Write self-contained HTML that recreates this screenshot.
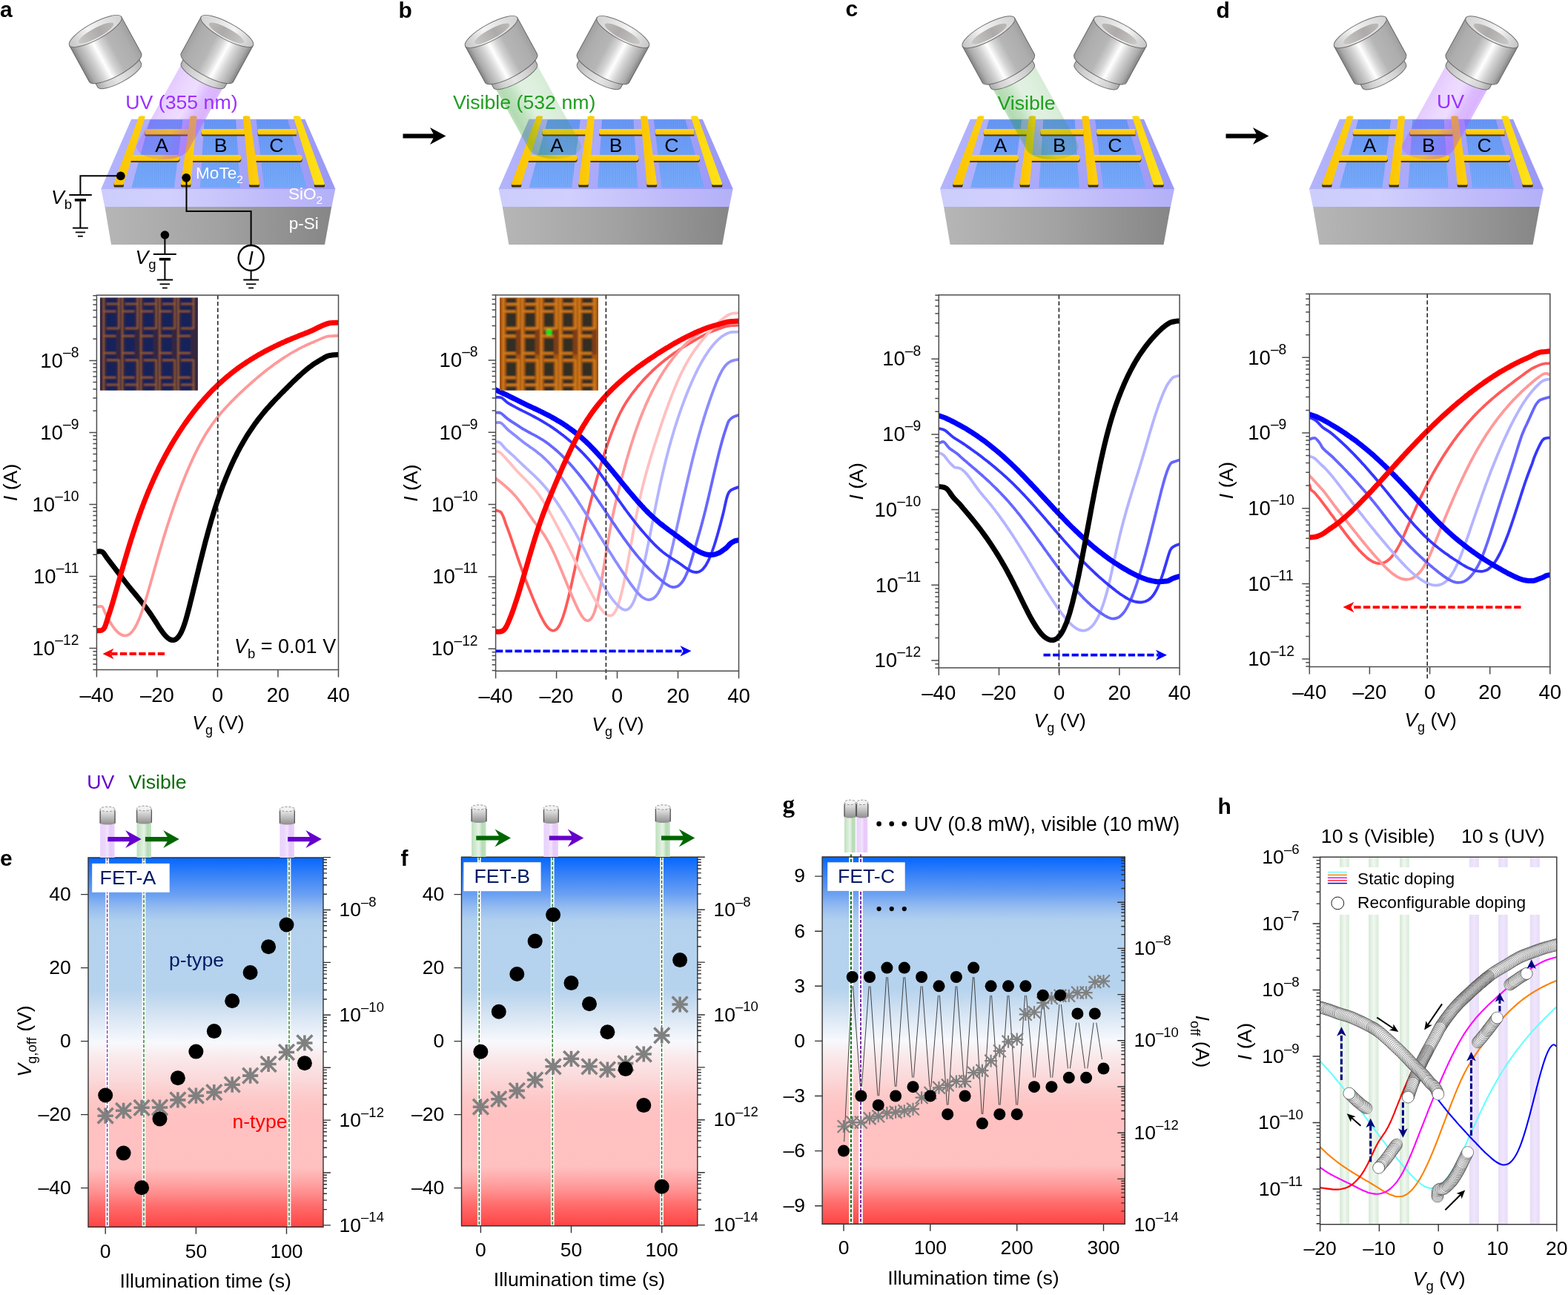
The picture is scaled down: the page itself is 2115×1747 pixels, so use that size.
<!DOCTYPE html>
<html lang="en"><head><meta charset="utf-8"><title>Figure</title>
<style>html,body{margin:0;padding:0;background:#fff}body{width:2115px;height:1747px;overflow:hidden;font-family:"Liberation Sans",Arial,sans-serif}svg{display:block}</style>
</head><body>
<svg xmlns="http://www.w3.org/2000/svg" width="2115" height="1747" viewBox="0 0 2115 1747" font-family="Liberation Sans, Arial, Helvetica, sans-serif">
<defs>
<linearGradient id="lasBody" x1="0" y1="0" x2="1" y2="0"><stop offset="0" stop-color="#838383"/><stop offset="0.08" stop-color="#aaaaaa"/><stop offset="0.24" stop-color="#d4d4d4"/><stop offset="0.37" stop-color="#ffffff"/><stop offset="0.49" stop-color="#d4d4d4"/><stop offset="0.62" stop-color="#b6b6b6"/><stop offset="0.88" stop-color="#adadad"/><stop offset="1" stop-color="#a0a0a0"/></linearGradient>
<linearGradient id="lasNarrow" x1="0" y1="0" x2="1" y2="0"><stop offset="0" stop-color="#a8a8a8"/><stop offset="0.2" stop-color="#d2d2d2"/><stop offset="0.45" stop-color="#e6e6e6"/><stop offset="0.75" stop-color="#d0d0d0"/><stop offset="1" stop-color="#b4b4b4"/></linearGradient>
<linearGradient id="lasRim" x1="0" y1="0" x2="1" y2="0"><stop offset="0" stop-color="#c4c4c4"/><stop offset="0.4" stop-color="#f4f4f4"/><stop offset="1" stop-color="#d2d2d2"/></linearGradient>
<linearGradient id="lasHole" x1="0" y1="0" x2="1" y2="0"><stop offset="0" stop-color="#cac7c7"/><stop offset="0.6" stop-color="#aeaaaa"/><stop offset="1" stop-color="#bcb8b8"/></linearGradient>
<linearGradient id="siG" x1="0" y1="0" x2="1" y2="0"><stop offset="0" stop-color="#b6b6b6"/><stop offset="0.5" stop-color="#a2a2a2"/><stop offset="1" stop-color="#868686"/></linearGradient>
<linearGradient id="sio2G" x1="0" y1="0" x2="1" y2="0"><stop offset="0" stop-color="#cdcdfc"/><stop offset="0.3" stop-color="#d0cffd"/><stop offset="0.7" stop-color="#c0bcfa"/><stop offset="1" stop-color="#b4b0f8"/></linearGradient>
<linearGradient id="topG" x1="0" y1="0" x2="1" y2="0"><stop offset="0" stop-color="#b4b4fc"/><stop offset="0.5" stop-color="#a9a7fa"/><stop offset="1" stop-color="#9a98f6"/></linearGradient>
<linearGradient id="moG" x1="0" y1="0" x2="0" y2="1"><stop offset="0" stop-color="#6896f4"/><stop offset="1" stop-color="#7aacf9"/></linearGradient>
<pattern id="stripes" width="2.6" height="8" patternUnits="userSpaceOnUse"><rect width="1.1" height="8" fill="#4f86ee"/></pattern>
<linearGradient id="goldH" x1="0" y1="0" x2="0" y2="1"><stop offset="0" stop-color="#ffd21a"/><stop offset="1" stop-color="#fbc400"/></linearGradient>
<linearGradient id="goldV" x1="0" y1="0" x2="1" y2="0"><stop offset="0" stop-color="#fbc400"/><stop offset="1" stop-color="#ffd010"/></linearGradient>
<linearGradient id="goldV2" x1="0" y1="0" x2="1" y2="0"><stop offset="0" stop-color="#ffd60a"/><stop offset="1" stop-color="#ffe21a"/></linearGradient>
<linearGradient id="beam0" gradientUnits="userSpaceOnUse" x1="247" y1="82.3" x2="303.5" y2="113.6"><stop offset="0" stop-color="#a64dff" stop-opacity="0.3"/><stop offset="0.3" stop-color="#a64dff" stop-opacity="0.22"/><stop offset="0.5" stop-color="#a64dff" stop-opacity="0.19"/><stop offset="0.75" stop-color="#a64dff" stop-opacity="0.38"/><stop offset="0.92" stop-color="#a64dff" stop-opacity="0.42"/><stop offset="1" stop-color="#a64dff" stop-opacity="0.36"/></linearGradient>
<linearGradient id="beam1" gradientUnits="userSpaceOnUse" x1="722" y1="83.3" x2="665.5" y2="114.6"><stop offset="0" stop-color="#2a9a2a" stop-opacity="0.19"/><stop offset="0.3" stop-color="#2a9a2a" stop-opacity="0.15"/><stop offset="0.5" stop-color="#2a9a2a" stop-opacity="0.14"/><stop offset="0.75" stop-color="#2a9a2a" stop-opacity="0.3"/><stop offset="0.92" stop-color="#2a9a2a" stop-opacity="0.36"/><stop offset="1" stop-color="#2a9a2a" stop-opacity="0.3"/></linearGradient>
<linearGradient id="beam2" gradientUnits="userSpaceOnUse" x1="1392.7" y1="83.6" x2="1336.2" y2="114.9"><stop offset="0" stop-color="#2a9a2a" stop-opacity="0.19"/><stop offset="0.3" stop-color="#2a9a2a" stop-opacity="0.15"/><stop offset="0.5" stop-color="#2a9a2a" stop-opacity="0.14"/><stop offset="0.75" stop-color="#2a9a2a" stop-opacity="0.3"/><stop offset="0.92" stop-color="#2a9a2a" stop-opacity="0.36"/><stop offset="1" stop-color="#2a9a2a" stop-opacity="0.3"/></linearGradient>
<linearGradient id="beam3" gradientUnits="userSpaceOnUse" x1="1953" y1="83.6" x2="2009.5" y2="114.9"><stop offset="0" stop-color="#a64dff" stop-opacity="0.3"/><stop offset="0.3" stop-color="#a64dff" stop-opacity="0.22"/><stop offset="0.5" stop-color="#a64dff" stop-opacity="0.19"/><stop offset="0.75" stop-color="#a64dff" stop-opacity="0.38"/><stop offset="0.92" stop-color="#a64dff" stop-opacity="0.42"/><stop offset="1" stop-color="#a64dff" stop-opacity="0.36"/></linearGradient>
<clipPath id="clipa"><rect x="130.4" y="398.2" width="326.1" height="505.3"/></clipPath>
<clipPath id="clipb"><rect x="668.6" y="398" width="327.9" height="507.2"/></clipPath>
<clipPath id="clipc"><rect x="1266.3" y="397.9" width="324.8" height="503"/></clipPath>
<clipPath id="clipd"><rect x="1766.3" y="396.5" width="324.5" height="503"/></clipPath>
<filter id="insblur" x="-5%" y="-5%" width="110%" height="110%"><feGaussianBlur stdDeviation="1.0"/></filter>
<clipPath id="insc0"><rect x="134.9" y="401.5" width="132" height="125.2"/></clipPath>
<clipPath id="insc1"><rect x="674" y="401.5" width="133" height="125.2"/></clipPath>
<linearGradient id="bgGrad" x1="0" y1="0" x2="0" y2="1"><stop offset="0" stop-color="#0566ff"/><stop offset="0.05" stop-color="#3a84f7"/><stop offset="0.1" stop-color="#6aa0f3"/><stop offset="0.137" stop-color="#96bdf0"/><stop offset="0.17" stop-color="#b0cfee"/><stop offset="0.2" stop-color="#b4d2ee"/><stop offset="0.36" stop-color="#b6d3ee"/><stop offset="0.39" stop-color="#c4daef"/><stop offset="0.44" stop-color="#dce8f5"/><stop offset="0.5" stop-color="#f7f9fd"/><stop offset="0.545" stop-color="#fae8ea"/><stop offset="0.6" stop-color="#fbd9da"/><stop offset="0.65" stop-color="#fdc9c9"/><stop offset="0.7" stop-color="#ffc1c1"/><stop offset="0.84" stop-color="#ffc0c0"/><stop offset="0.875" stop-color="#ffa8a8"/><stop offset="0.91" stop-color="#ff8c8c"/><stop offset="0.943" stop-color="#ff6c6c"/><stop offset="1" stop-color="#ff4444"/></linearGradient>
<linearGradient id="beamUV" x1="0" y1="0" x2="1" y2="0"><stop offset="0" stop-color="#ead2fb"/><stop offset="0.35" stop-color="#ecd8fc"/><stop offset="0.5" stop-color="#f3e6fd"/><stop offset="0.7" stop-color="#e6c8fa"/><stop offset="1" stop-color="#ead0fb"/></linearGradient>
<linearGradient id="beamVis" x1="0" y1="0" x2="1" y2="0"><stop offset="0" stop-color="#bfe0bf"/><stop offset="0.3" stop-color="#d4ebd4"/><stop offset="0.5" stop-color="#e6f3e6"/><stop offset="0.75" stop-color="#b4dab4"/><stop offset="1" stop-color="#c4e3c4"/></linearGradient>
<linearGradient id="miniBody" x1="0" y1="0" x2="0" y2="1"><stop offset="0" stop-color="#f0f0f0"/><stop offset="0.3" stop-color="#dcdcdc"/><stop offset="1" stop-color="#8e8e8e"/></linearGradient>
<clipPath id="cliph"><rect x="1780.6" y="1156.2" width="319.2" height="495.5"/></clipPath>
<linearGradient id="hG" x1="0" y1="0" x2="1" y2="0"><stop offset="0" stop-color="#d3e8d3"/><stop offset="0.5" stop-color="#f1f8f1"/><stop offset="1" stop-color="#d6ead6"/></linearGradient>
<linearGradient id="hP" x1="0" y1="0" x2="1" y2="0"><stop offset="0" stop-color="#e6dcf7"/><stop offset="0.5" stop-color="#efe6fd"/><stop offset="1" stop-color="#e6dcf7"/></linearGradient>
<marker id="oc" markerWidth="18" markerHeight="18" refX="9" refY="9" markerUnits="userSpaceOnUse"><circle cx="9" cy="9" r="7.9" fill="#fff" stroke="#000" stroke-width="0.45"/></marker>
</defs>
<g id="dev-0">
<g transform="translate(0 0)"><path d="M141.3 278H447.4L438 330H150Z" fill="url(#siG)"/><path d="M136.3 254.5H452.4L447.4 279H141.3Z" fill="url(#sio2G)"/><path d="M177.2 160.8H411.4L452.4 255H136.3Z" fill="url(#topG)"/><path d="M202.4 161.5H246.5L234.9 253.3H177.4Z" fill="url(#moG)"/><path d="M202.4 161.5H246.5L234.9 253.3H177.4Z" fill="url(#stripes)" opacity="0.3"/><path d="M275.7 161.5H318.1L324 253.3H269.9Z" fill="url(#moG)"/><path d="M275.7 161.5H318.1L324 253.3H269.9Z" fill="url(#stripes)" opacity="0.3"/><path d="M345.6 161.5H388.1L413.9 253.3H356.4Z" fill="url(#moG)"/><path d="M345.6 161.5H388.1L413.9 253.3H356.4Z" fill="url(#stripes)" opacity="0.3"/><path d="M196.7 176.3H258V183.6H196.7Q195.2 183.6 195.2 179.9Q195.2 176.3 196.7 176.3Z" fill="#4a3800"/><path d="M196.7 174.1H258V181.4H196.7Q195.2 181.4 195.2 177.8Q195.2 174.1 196.7 174.1Z" fill="url(#goldH)"/><path d="M273.2 176.3H330V183.6H273.2Q271.7 183.6 271.7 179.9Q271.7 176.3 273.2 176.3Z" fill="#4a3800"/><path d="M273.2 174.1H330V181.4H273.2Q271.7 181.4 271.7 177.8Q271.7 174.1 273.2 174.1Z" fill="url(#goldH)"/><path d="M349 176.3H400V183.6H349Q347.5 183.6 347.5 179.9Q347.5 176.3 349 176.3Z" fill="#4a3800"/><path d="M349 174.1H400V181.4H349Q347.5 181.4 347.5 177.8Q347.5 174.1 349 174.1Z" fill="url(#goldH)"/><path d="M172 211.3H238.9Q242.4 211.3 242.4 215.2Q242.4 219.1 238.9 219.1H172V211.3Z" fill="#4a3800"/><path d="M172 209.1H238.9Q242.4 209.1 242.4 213Q242.4 216.9 238.9 216.9H172V209.1Z" fill="url(#goldH)"/><path d="M254 211.3H321.7Q325.2 211.3 325.2 215.2Q325.2 219.1 321.7 219.1H254V211.3Z" fill="#4a3800"/><path d="M254 209.1H321.7Q325.2 209.1 325.2 213Q325.2 216.9 321.7 216.9H254V209.1Z" fill="url(#goldH)"/><path d="M341 211.3H404.3Q407.8 211.3 407.8 215.2Q407.8 219.1 404.3 219.1H341V211.3Z" fill="#4a3800"/><path d="M341 209.1H404.3Q407.8 209.1 407.8 213Q407.8 216.9 404.3 216.9H341V209.1Z" fill="url(#goldH)"/><path d="M153.6 247.6H166.9V251.1Q166.9 252.4 165.6 252.4H154.9Q153.6 252.4 153.6 251.1Z" fill="#3a2e00"/><path d="M187.4 156.9Q191.7 155.7 196 156.9L166.9 248.1Q166.9 249.6 165.4 249.6L155.1 249.6Q153.6 249.6 153.6 248.1Z" fill="url(#goldV)"/><path d="M244 247.6H257.4V251.1Q257.4 252.4 256.1 252.4H245.3Q244 252.4 244 251.1Z" fill="#3a2e00"/><path d="M256.5 156.9Q261 155.7 265.6 156.9L257.4 248.1Q257.4 249.6 255.9 249.6L245.5 249.6Q244 249.6 244 248.1Z" fill="url(#goldV)"/><path d="M336.1 247.6H349.8V251.1Q349.8 252.4 348.5 252.4H337.4Q336.1 252.4 336.1 251.1Z" fill="#3a2e00"/><path d="M327.7 156.9Q332.4 155.7 337 156.9L349.8 248.1Q349.8 249.6 348.3 249.6L337.6 249.6Q336.1 249.6 336.1 248.1Z" fill="url(#goldV)"/><path d="M423.9 247.6H438V251.1Q438 252.4 436.7 252.4H425.2Q423.9 252.4 423.9 251.1Z" fill="#3a2e00"/><path d="M395.5 156.9Q400.1 155.7 404.8 156.9L438 248.1Q438 249.6 436.5 249.6L425.4 249.6Q423.9 249.6 423.9 248.1Z" fill="url(#goldV2)"/></g>
<path d="M247 82.3L185.3 193.7A35.7 17 0 0 0 254.4 202.3L303.5 113.6Z" fill="url(#beam0)"/>
<g transform="translate(128.7 42) rotate(-28.6)"><path d="M-33.5 50V67.8A33.5 9.5 0 0 0 33.5 67.8V50Z" fill="url(#lasNarrow)" stroke="#6e6e6e" stroke-width="1"/><path d="M-40 0V56A40.0 11.3 0 0 0 40 56V0Z" fill="url(#lasBody)" stroke="#666" stroke-width="1"/><ellipse cx="0" cy="0" rx="40.0" ry="11.3" fill="url(#lasRim)" stroke="#6e6e6e" stroke-width="1"/><ellipse cx="-0.4" cy="2.6" rx="26.8" ry="6.6" fill="url(#lasHole)"/></g>
<g transform="translate(306.3 42) scale(-1 1) rotate(-28.6)"><path d="M-33.5 50V67.8A33.5 9.5 0 0 0 33.5 67.8V50Z" fill="url(#lasNarrow)" stroke="#6e6e6e" stroke-width="1"/><path d="M-40 0V56A40.0 11.3 0 0 0 40 56V0Z" fill="url(#lasBody)" stroke="#666" stroke-width="1"/><ellipse cx="0" cy="0" rx="40.0" ry="11.3" fill="url(#lasRim)" stroke="#6e6e6e" stroke-width="1"/><ellipse cx="-0.4" cy="2.6" rx="26.8" ry="6.6" fill="url(#lasHole)"/></g>
<text x="218.2" y="205.2" font-size="26.7" text-anchor="middle" fill="#000" >A</text>
<text x="297.7" y="205.2" font-size="26.7" text-anchor="middle" fill="#000" >B</text>
<text x="372.8" y="205.2" font-size="26.7" text-anchor="middle" fill="#000" >C</text>
</g>
<g id="dev-1">
<g transform="translate(536.3 0)"><path d="M141.3 278H447.4L438 330H150Z" fill="url(#siG)"/><path d="M136.3 254.5H452.4L447.4 279H141.3Z" fill="url(#sio2G)"/><path d="M177.2 160.8H411.4L452.4 255H136.3Z" fill="url(#topG)"/><path d="M202.4 161.5H246.5L234.9 253.3H177.4Z" fill="url(#moG)"/><path d="M202.4 161.5H246.5L234.9 253.3H177.4Z" fill="url(#stripes)" opacity="0.3"/><path d="M275.7 161.5H318.1L324 253.3H269.9Z" fill="url(#moG)"/><path d="M275.7 161.5H318.1L324 253.3H269.9Z" fill="url(#stripes)" opacity="0.3"/><path d="M345.6 161.5H388.1L413.9 253.3H356.4Z" fill="url(#moG)"/><path d="M345.6 161.5H388.1L413.9 253.3H356.4Z" fill="url(#stripes)" opacity="0.3"/><path d="M196.7 176.3H258V183.6H196.7Q195.2 183.6 195.2 179.9Q195.2 176.3 196.7 176.3Z" fill="#4a3800"/><path d="M196.7 174.1H258V181.4H196.7Q195.2 181.4 195.2 177.8Q195.2 174.1 196.7 174.1Z" fill="url(#goldH)"/><path d="M273.2 176.3H330V183.6H273.2Q271.7 183.6 271.7 179.9Q271.7 176.3 273.2 176.3Z" fill="#4a3800"/><path d="M273.2 174.1H330V181.4H273.2Q271.7 181.4 271.7 177.8Q271.7 174.1 273.2 174.1Z" fill="url(#goldH)"/><path d="M349 176.3H400V183.6H349Q347.5 183.6 347.5 179.9Q347.5 176.3 349 176.3Z" fill="#4a3800"/><path d="M349 174.1H400V181.4H349Q347.5 181.4 347.5 177.8Q347.5 174.1 349 174.1Z" fill="url(#goldH)"/><path d="M172 211.3H238.9Q242.4 211.3 242.4 215.2Q242.4 219.1 238.9 219.1H172V211.3Z" fill="#4a3800"/><path d="M172 209.1H238.9Q242.4 209.1 242.4 213Q242.4 216.9 238.9 216.9H172V209.1Z" fill="url(#goldH)"/><path d="M254 211.3H321.7Q325.2 211.3 325.2 215.2Q325.2 219.1 321.7 219.1H254V211.3Z" fill="#4a3800"/><path d="M254 209.1H321.7Q325.2 209.1 325.2 213Q325.2 216.9 321.7 216.9H254V209.1Z" fill="url(#goldH)"/><path d="M341 211.3H404.3Q407.8 211.3 407.8 215.2Q407.8 219.1 404.3 219.1H341V211.3Z" fill="#4a3800"/><path d="M341 209.1H404.3Q407.8 209.1 407.8 213Q407.8 216.9 404.3 216.9H341V209.1Z" fill="url(#goldH)"/><path d="M153.6 247.6H166.9V251.1Q166.9 252.4 165.6 252.4H154.9Q153.6 252.4 153.6 251.1Z" fill="#3a2e00"/><path d="M187.4 156.9Q191.7 155.7 196 156.9L166.9 248.1Q166.9 249.6 165.4 249.6L155.1 249.6Q153.6 249.6 153.6 248.1Z" fill="url(#goldV)"/><path d="M244 247.6H257.4V251.1Q257.4 252.4 256.1 252.4H245.3Q244 252.4 244 251.1Z" fill="#3a2e00"/><path d="M256.5 156.9Q261 155.7 265.6 156.9L257.4 248.1Q257.4 249.6 255.9 249.6L245.5 249.6Q244 249.6 244 248.1Z" fill="url(#goldV)"/><path d="M336.1 247.6H349.8V251.1Q349.8 252.4 348.5 252.4H337.4Q336.1 252.4 336.1 251.1Z" fill="#3a2e00"/><path d="M327.7 156.9Q332.4 155.7 337 156.9L349.8 248.1Q349.8 249.6 348.3 249.6L337.6 249.6Q336.1 249.6 336.1 248.1Z" fill="url(#goldV)"/><path d="M423.9 247.6H438V251.1Q438 252.4 436.7 252.4H425.2Q423.9 252.4 423.9 251.1Z" fill="#3a2e00"/><path d="M395.5 156.9Q400.1 155.7 404.8 156.9L438 248.1Q438 249.6 436.5 249.6L425.4 249.6Q423.9 249.6 423.9 248.1Z" fill="url(#goldV2)"/></g>
<path d="M665.5 114.6L714.1 202.3A35.7 17 0 0 0 783.1 193.7L722 83.3Z" fill="url(#beam1)"/>
<g transform="translate(662.7 43) rotate(-28.6)"><path d="M-33.5 50V67.8A33.5 9.5 0 0 0 33.5 67.8V50Z" fill="url(#lasNarrow)" stroke="#6e6e6e" stroke-width="1"/><path d="M-40 0V56A40.0 11.3 0 0 0 40 56V0Z" fill="url(#lasBody)" stroke="#666" stroke-width="1"/><ellipse cx="0" cy="0" rx="40.0" ry="11.3" fill="url(#lasRim)" stroke="#6e6e6e" stroke-width="1"/><ellipse cx="-0.4" cy="2.6" rx="26.8" ry="6.6" fill="url(#lasHole)"/></g>
<g transform="translate(840.3 43) scale(-1 1) rotate(-28.6)"><path d="M-33.5 50V67.8A33.5 9.5 0 0 0 33.5 67.8V50Z" fill="url(#lasNarrow)" stroke="#6e6e6e" stroke-width="1"/><path d="M-40 0V56A40.0 11.3 0 0 0 40 56V0Z" fill="url(#lasBody)" stroke="#666" stroke-width="1"/><ellipse cx="0" cy="0" rx="40.0" ry="11.3" fill="url(#lasRim)" stroke="#6e6e6e" stroke-width="1"/><ellipse cx="-0.4" cy="2.6" rx="26.8" ry="6.6" fill="url(#lasHole)"/></g>
<text x="751.2" y="205.2" font-size="26.7" text-anchor="middle" fill="#000" >A</text>
<text x="830.7" y="205.2" font-size="26.7" text-anchor="middle" fill="#000" >B</text>
<text x="905.8" y="205.2" font-size="26.7" text-anchor="middle" fill="#000" >C</text>
</g>
<g id="dev-2">
<g transform="translate(1131.6 0)"><path d="M141.3 278H447.4L438 330H150Z" fill="url(#siG)"/><path d="M136.3 254.5H452.4L447.4 279H141.3Z" fill="url(#sio2G)"/><path d="M177.2 160.8H411.4L452.4 255H136.3Z" fill="url(#topG)"/><path d="M202.4 161.5H246.5L234.9 253.3H177.4Z" fill="url(#moG)"/><path d="M202.4 161.5H246.5L234.9 253.3H177.4Z" fill="url(#stripes)" opacity="0.3"/><path d="M275.7 161.5H318.1L324 253.3H269.9Z" fill="url(#moG)"/><path d="M275.7 161.5H318.1L324 253.3H269.9Z" fill="url(#stripes)" opacity="0.3"/><path d="M345.6 161.5H388.1L413.9 253.3H356.4Z" fill="url(#moG)"/><path d="M345.6 161.5H388.1L413.9 253.3H356.4Z" fill="url(#stripes)" opacity="0.3"/><path d="M196.7 176.3H258V183.6H196.7Q195.2 183.6 195.2 179.9Q195.2 176.3 196.7 176.3Z" fill="#4a3800"/><path d="M196.7 174.1H258V181.4H196.7Q195.2 181.4 195.2 177.8Q195.2 174.1 196.7 174.1Z" fill="url(#goldH)"/><path d="M273.2 176.3H330V183.6H273.2Q271.7 183.6 271.7 179.9Q271.7 176.3 273.2 176.3Z" fill="#4a3800"/><path d="M273.2 174.1H330V181.4H273.2Q271.7 181.4 271.7 177.8Q271.7 174.1 273.2 174.1Z" fill="url(#goldH)"/><path d="M349 176.3H400V183.6H349Q347.5 183.6 347.5 179.9Q347.5 176.3 349 176.3Z" fill="#4a3800"/><path d="M349 174.1H400V181.4H349Q347.5 181.4 347.5 177.8Q347.5 174.1 349 174.1Z" fill="url(#goldH)"/><path d="M172 211.3H238.9Q242.4 211.3 242.4 215.2Q242.4 219.1 238.9 219.1H172V211.3Z" fill="#4a3800"/><path d="M172 209.1H238.9Q242.4 209.1 242.4 213Q242.4 216.9 238.9 216.9H172V209.1Z" fill="url(#goldH)"/><path d="M254 211.3H321.7Q325.2 211.3 325.2 215.2Q325.2 219.1 321.7 219.1H254V211.3Z" fill="#4a3800"/><path d="M254 209.1H321.7Q325.2 209.1 325.2 213Q325.2 216.9 321.7 216.9H254V209.1Z" fill="url(#goldH)"/><path d="M341 211.3H404.3Q407.8 211.3 407.8 215.2Q407.8 219.1 404.3 219.1H341V211.3Z" fill="#4a3800"/><path d="M341 209.1H404.3Q407.8 209.1 407.8 213Q407.8 216.9 404.3 216.9H341V209.1Z" fill="url(#goldH)"/><path d="M153.6 247.6H166.9V251.1Q166.9 252.4 165.6 252.4H154.9Q153.6 252.4 153.6 251.1Z" fill="#3a2e00"/><path d="M187.4 156.9Q191.7 155.7 196 156.9L166.9 248.1Q166.9 249.6 165.4 249.6L155.1 249.6Q153.6 249.6 153.6 248.1Z" fill="url(#goldV)"/><path d="M244 247.6H257.4V251.1Q257.4 252.4 256.1 252.4H245.3Q244 252.4 244 251.1Z" fill="#3a2e00"/><path d="M256.5 156.9Q261 155.7 265.6 156.9L257.4 248.1Q257.4 249.6 255.9 249.6L245.5 249.6Q244 249.6 244 248.1Z" fill="url(#goldV)"/><path d="M336.1 247.6H349.8V251.1Q349.8 252.4 348.5 252.4H337.4Q336.1 252.4 336.1 251.1Z" fill="#3a2e00"/><path d="M327.7 156.9Q332.4 155.7 337 156.9L349.8 248.1Q349.8 249.6 348.3 249.6L337.6 249.6Q336.1 249.6 336.1 248.1Z" fill="url(#goldV)"/><path d="M423.9 247.6H438V251.1Q438 252.4 436.7 252.4H425.2Q423.9 252.4 423.9 251.1Z" fill="#3a2e00"/><path d="M395.5 156.9Q400.1 155.7 404.8 156.9L438 248.1Q438 249.6 436.5 249.6L425.4 249.6Q423.9 249.6 423.9 248.1Z" fill="url(#goldV2)"/></g>
<path d="M1336.2 114.9L1384.6 202.3A35.7 17 0 0 0 1453.7 193.7L1392.7 83.6Z" fill="url(#beam2)"/>
<g transform="translate(1333.4 43.3) rotate(-28.6)"><path d="M-33.5 50V67.8A33.5 9.5 0 0 0 33.5 67.8V50Z" fill="url(#lasNarrow)" stroke="#6e6e6e" stroke-width="1"/><path d="M-40 0V56A40.0 11.3 0 0 0 40 56V0Z" fill="url(#lasBody)" stroke="#666" stroke-width="1"/><ellipse cx="0" cy="0" rx="40.0" ry="11.3" fill="url(#lasRim)" stroke="#6e6e6e" stroke-width="1"/><ellipse cx="-0.4" cy="2.6" rx="26.8" ry="6.6" fill="url(#lasHole)"/></g>
<g transform="translate(1511 43.3) scale(-1 1) rotate(-28.6)"><path d="M-33.5 50V67.8A33.5 9.5 0 0 0 33.5 67.8V50Z" fill="url(#lasNarrow)" stroke="#6e6e6e" stroke-width="1"/><path d="M-40 0V56A40.0 11.3 0 0 0 40 56V0Z" fill="url(#lasBody)" stroke="#666" stroke-width="1"/><ellipse cx="0" cy="0" rx="40.0" ry="11.3" fill="url(#lasRim)" stroke="#6e6e6e" stroke-width="1"/><ellipse cx="-0.4" cy="2.6" rx="26.8" ry="6.6" fill="url(#lasHole)"/></g>
<text x="1349.3" y="205.2" font-size="26.7" text-anchor="middle" fill="#000" >A</text>
<text x="1428.8" y="205.2" font-size="26.7" text-anchor="middle" fill="#000" >B</text>
<text x="1503.9" y="205.2" font-size="26.7" text-anchor="middle" fill="#000" >C</text>
</g>
<g id="dev-3">
<g transform="translate(1629.6 0)"><path d="M141.3 278H447.4L438 330H150Z" fill="url(#siG)"/><path d="M136.3 254.5H452.4L447.4 279H141.3Z" fill="url(#sio2G)"/><path d="M177.2 160.8H411.4L452.4 255H136.3Z" fill="url(#topG)"/><path d="M202.4 161.5H246.5L234.9 253.3H177.4Z" fill="url(#moG)"/><path d="M202.4 161.5H246.5L234.9 253.3H177.4Z" fill="url(#stripes)" opacity="0.3"/><path d="M275.7 161.5H318.1L324 253.3H269.9Z" fill="url(#moG)"/><path d="M275.7 161.5H318.1L324 253.3H269.9Z" fill="url(#stripes)" opacity="0.3"/><path d="M345.6 161.5H388.1L413.9 253.3H356.4Z" fill="url(#moG)"/><path d="M345.6 161.5H388.1L413.9 253.3H356.4Z" fill="url(#stripes)" opacity="0.3"/><path d="M196.7 176.3H258V183.6H196.7Q195.2 183.6 195.2 179.9Q195.2 176.3 196.7 176.3Z" fill="#4a3800"/><path d="M196.7 174.1H258V181.4H196.7Q195.2 181.4 195.2 177.8Q195.2 174.1 196.7 174.1Z" fill="url(#goldH)"/><path d="M273.2 176.3H330V183.6H273.2Q271.7 183.6 271.7 179.9Q271.7 176.3 273.2 176.3Z" fill="#4a3800"/><path d="M273.2 174.1H330V181.4H273.2Q271.7 181.4 271.7 177.8Q271.7 174.1 273.2 174.1Z" fill="url(#goldH)"/><path d="M349 176.3H400V183.6H349Q347.5 183.6 347.5 179.9Q347.5 176.3 349 176.3Z" fill="#4a3800"/><path d="M349 174.1H400V181.4H349Q347.5 181.4 347.5 177.8Q347.5 174.1 349 174.1Z" fill="url(#goldH)"/><path d="M172 211.3H238.9Q242.4 211.3 242.4 215.2Q242.4 219.1 238.9 219.1H172V211.3Z" fill="#4a3800"/><path d="M172 209.1H238.9Q242.4 209.1 242.4 213Q242.4 216.9 238.9 216.9H172V209.1Z" fill="url(#goldH)"/><path d="M254 211.3H321.7Q325.2 211.3 325.2 215.2Q325.2 219.1 321.7 219.1H254V211.3Z" fill="#4a3800"/><path d="M254 209.1H321.7Q325.2 209.1 325.2 213Q325.2 216.9 321.7 216.9H254V209.1Z" fill="url(#goldH)"/><path d="M341 211.3H404.3Q407.8 211.3 407.8 215.2Q407.8 219.1 404.3 219.1H341V211.3Z" fill="#4a3800"/><path d="M341 209.1H404.3Q407.8 209.1 407.8 213Q407.8 216.9 404.3 216.9H341V209.1Z" fill="url(#goldH)"/><path d="M153.6 247.6H166.9V251.1Q166.9 252.4 165.6 252.4H154.9Q153.6 252.4 153.6 251.1Z" fill="#3a2e00"/><path d="M187.4 156.9Q191.7 155.7 196 156.9L166.9 248.1Q166.9 249.6 165.4 249.6L155.1 249.6Q153.6 249.6 153.6 248.1Z" fill="url(#goldV)"/><path d="M244 247.6H257.4V251.1Q257.4 252.4 256.1 252.4H245.3Q244 252.4 244 251.1Z" fill="#3a2e00"/><path d="M256.5 156.9Q261 155.7 265.6 156.9L257.4 248.1Q257.4 249.6 255.9 249.6L245.5 249.6Q244 249.6 244 248.1Z" fill="url(#goldV)"/><path d="M336.1 247.6H349.8V251.1Q349.8 252.4 348.5 252.4H337.4Q336.1 252.4 336.1 251.1Z" fill="#3a2e00"/><path d="M327.7 156.9Q332.4 155.7 337 156.9L349.8 248.1Q349.8 249.6 348.3 249.6L337.6 249.6Q336.1 249.6 336.1 248.1Z" fill="url(#goldV)"/><path d="M423.9 247.6H438V251.1Q438 252.4 436.7 252.4H425.2Q423.9 252.4 423.9 251.1Z" fill="#3a2e00"/><path d="M395.5 156.9Q400.1 155.7 404.8 156.9L438 248.1Q438 249.6 436.5 249.6L425.4 249.6Q423.9 249.6 423.9 248.1Z" fill="url(#goldV2)"/></g>
<path d="M1953 83.6L1892 193.7A35.7 17 0 0 0 1961.1 202.3L2009.5 114.9Z" fill="url(#beam3)"/>
<g transform="translate(1834.7 43.3) rotate(-28.6)"><path d="M-33.5 50V67.8A33.5 9.5 0 0 0 33.5 67.8V50Z" fill="url(#lasNarrow)" stroke="#6e6e6e" stroke-width="1"/><path d="M-40 0V56A40.0 11.3 0 0 0 40 56V0Z" fill="url(#lasBody)" stroke="#666" stroke-width="1"/><ellipse cx="0" cy="0" rx="40.0" ry="11.3" fill="url(#lasRim)" stroke="#6e6e6e" stroke-width="1"/><ellipse cx="-0.4" cy="2.6" rx="26.8" ry="6.6" fill="url(#lasHole)"/></g>
<g transform="translate(2012.3 43.3) scale(-1 1) rotate(-28.6)"><path d="M-33.5 50V67.8A33.5 9.5 0 0 0 33.5 67.8V50Z" fill="url(#lasNarrow)" stroke="#6e6e6e" stroke-width="1"/><path d="M-40 0V56A40.0 11.3 0 0 0 40 56V0Z" fill="url(#lasBody)" stroke="#666" stroke-width="1"/><ellipse cx="0" cy="0" rx="40.0" ry="11.3" fill="url(#lasRim)" stroke="#6e6e6e" stroke-width="1"/><ellipse cx="-0.4" cy="2.6" rx="26.8" ry="6.6" fill="url(#lasHole)"/></g>
<text x="1847.5" y="205.2" font-size="26.7" text-anchor="middle" fill="#000" >A</text>
<text x="1927" y="205.2" font-size="26.7" text-anchor="middle" fill="#000" >B</text>
<text x="2002.1" y="205.2" font-size="26.7" text-anchor="middle" fill="#000" >C</text>
</g>
<text x="169.3" y="146.8" font-size="26.7" text-anchor="start" fill="#9a30ff" >UV (355 nm)</text>
<text x="611" y="146.6" font-size="26.7" text-anchor="start" fill="#1e9e1e" >Visible (532 nm)</text>
<text x="1345.5" y="147.5" font-size="26.7" text-anchor="start" fill="#1e9e1e" >Visible</text>
<text x="1938" y="146" font-size="26.7" text-anchor="start" fill="#9a30ff" >UV</text>
<text x="264" y="240.7" font-size="22.6" fill="#fff">MoTe<tspan font-size="15.5" dy="6">2</tspan></text>
<text x="388.9" y="269.4" font-size="22.6" fill="#fff">SiO<tspan font-size="15.5" dy="6">2</tspan></text>
<text x="389.7" y="309" font-size="22.6" text-anchor="start" fill="#fff" >p-Si</text>
<g fill="none" stroke="#000" stroke-width="2"><path d="M162.8 237.3H108.4V263"/><path d="M93.3 263H123.8"/><path d="M108.4 271.5V307.6"/><path d="M98 307.6H118.8"/><path d="M101.8 313.4H115" stroke-width="1.8"/><path d="M105 318.7H111.8" stroke-width="1.8"/><path d="M100.8 269.8H116" stroke-width="3.6"/><path d="M251.5 240V284.9H338.6V330.5"/><path d="M338.6 365.5V377.5"/><path d="M328.3 377.5H349.2"/><path d="M332 383.3H345.3" stroke-width="1.8"/><path d="M335.3 388.5H342" stroke-width="1.8"/><circle cx="338.6" cy="348" r="17" stroke-width="2.4"/><path d="M222.4 317V342.9"/><path d="M206.8 342.9H237.8"/><path d="M222.4 351.5V377.5"/><path d="M211.8 377.5H233.2"/><path d="M215.6 383.3H229" stroke-width="1.8"/><path d="M219 388.5H225.7" stroke-width="1.8"/><path d="M214.8 349.7H230" stroke-width="3.6"/></g><circle cx="162.8" cy="237.3" r="5.9"/><circle cx="251.2" cy="239.8" r="5.9"/><circle cx="222.4" cy="317" r="5.8"/><text x="69" y="274.8" font-size="26.7"><tspan font-style="italic">V</tspan><tspan font-size="18.5" dy="7">b</tspan></text><text x="182.5" y="355.5" font-size="26.7"><tspan font-style="italic">V</tspan><tspan font-size="18.5" dy="7">g</tspan></text><text x="338.2" y="357.3" font-size="26.7" font-style="italic" text-anchor="middle">I</text>
<path d="M543.5 180.5H584.5L580 172L601.5 183.5L580 195L584.5 186.5H543.5Z" fill="#000"/>
<path d="M1653.5 180.5H1694.5L1690 172L1711.5 183.5L1690 195L1694.5 186.5H1653.5Z" fill="#000"/>
<g id="plot-a">
<g clip-path="url(#clipa)" fill="none" stroke-linejoin="round" stroke-linecap="butt">
<path d="M128.5 744.1 C128.9 744.1 128.9 744 130.5 744.1 C132.1 744.2 135.6 742.9 138.2 744.7 C140.7 746.4 142 749.8 145.8 754.7 C149.6 759.7 157.8 770.3 161 774.5 C164.3 778.7 163.7 778.1 165 779.9 C166.4 781.7 167.7 783.4 169 785.1 C170.4 786.8 171.7 788.5 173 790.2 C174.4 791.8 175.7 793.4 177 795.1 C178.4 796.7 179.7 798.3 181 799.9 C182.4 801.5 183.7 803.1 185 804.7 C186.4 806.4 187.7 808 189 809.7 C190.4 811.3 191.7 813 193 814.7 C194.4 816.4 195.7 818.1 197 819.9 C198.4 821.7 199.7 823.5 201 825.4 C202.4 827.3 203.7 829.2 205 831.2 C206.4 833.2 207.7 835.2 209 837.3 C210.4 839.4 211.7 841.6 213 843.6 C214.4 845.7 215.7 847.8 217 849.7 C218.4 851.6 219.7 853.5 221 855.1 C222.4 856.8 223.7 858.3 225 859.5 C226.4 860.8 227.7 861.8 229 862.5 C230.4 863.2 231.7 863.6 233 863.6 C234.4 863.6 235.7 863.3 237 862.5 C238.4 861.6 239.7 860.4 241 858.6 C242.4 856.8 243.7 854.6 245 851.7 C246.4 848.9 247.7 845.4 249 841.4 C250.4 837.4 251.7 832.6 253 827.7 C254.4 822.8 255.7 817.3 257 812 C258.4 806.6 259.7 801.1 261 795.6 C262.4 790.1 263.7 784.6 265 779.2 C266.4 773.7 267.7 768.2 269 762.8 C270.4 757.4 271.7 752.1 273 746.8 C274.4 741.5 275.7 736.3 277 731.2 C278.4 726.1 279.7 721.1 281 716.3 C282.4 711.4 283.7 706.7 285 702.1 C286.4 697.6 287.7 693.2 289 688.9 C290.4 684.7 291.7 680.5 293 676.6 C294.4 672.6 295.7 668.7 297 665 C298.4 661.2 299.7 657.6 301 654.1 C302.4 650.6 303.7 647.3 305 644 C306.4 640.7 307.7 637.6 309 634.5 C310.4 631.4 311.7 628.4 313 625.5 C314.4 622.6 315.7 619.8 317 617.1 C318.4 614.4 319.7 611.7 321 609.2 C322.4 606.6 323.7 604.1 325 601.7 C326.4 599.3 327.7 597 329 594.7 C330.4 592.4 331.7 590.2 333 588 C334.4 585.9 335.7 583.8 337 581.8 C338.4 579.7 339.7 577.8 341 575.9 C342.4 573.9 343.7 572.1 345 570.3 C346.4 568.4 347.7 566.7 349 564.9 C350.4 563.2 351.7 561.5 353 559.9 C354.4 558.2 355.7 556.6 357 555 C358.4 553.5 359.7 551.9 361 550.4 C362.4 548.9 363.7 547.4 365 546 C366.4 544.5 367.7 543.1 369 541.6 C370.4 540.2 371.7 538.8 373 537.4 C374.4 536 375.7 534.7 377 533.3 C378.4 531.9 379.7 530.6 381 529.2 C382.4 527.9 383.7 526.5 385 525.2 C386.4 523.9 387.7 522.5 389 521.2 C390.4 519.9 391.7 518.5 393 517.2 C394.4 515.9 395.7 514.6 397 513.3 C398.4 512.1 399.7 510.8 401 509.5 C402.4 508.3 403.7 507.1 405 505.9 C406.4 504.7 407.7 503.5 409 502.3 C410.4 501.2 411.7 500 413 498.9 C414.4 497.8 415.7 496.8 417 495.7 C418.4 494.7 419.7 493.7 421 492.7 C422.4 491.8 423.7 490.8 425 489.9 C426.4 489 427.7 488.2 429 487.4 C430.4 486.6 430.9 486.3 433 485.1 C435.2 483.9 439.4 481.3 441.8 480.3 C444.3 479.4 445.5 479.4 448 479.1 C450.4 478.8 454.7 478.6 456.5 478.5 C458.3 478.4 458.2 478.5 458.5 478.5" stroke="#000" stroke-width="7.0"/>
<path d="M128.4 818.5 C128.7 818.5 128.8 818.5 130.4 818.5 C132 818.5 136.1 817.2 138 818.5 C139.8 819.8 140.1 823.3 141.6 826.3 C143.1 829.3 145.4 833.7 147 836.5 C148.6 839.3 149.7 841.2 151 843.2 C152.3 845.2 153.7 847.1 155 848.7 C156.3 850.3 157.7 851.8 159 853 C160.3 854.2 161.7 855.2 163 855.9 C164.3 856.7 165.7 857.2 167 857.4 C168.3 857.6 169.7 857.6 171 857.2 C172.3 856.9 173.7 856.2 175 855.2 C176.3 854.2 177.7 852.9 179 851.2 C180.3 849.5 181.7 847.5 183 845 C184.3 842.6 185.7 839.7 187 836.6 C188.3 833.4 189.7 829.9 191 826.1 C192.3 822.4 193.7 818.3 195 814.1 C196.3 809.9 197.7 805.5 199 801 C200.3 796.4 201.7 791.7 203 787 C204.3 782.3 205.7 777.5 207 772.8 C208.3 768 209.7 763.2 211 758.5 C212.3 753.8 213.7 749.2 215 744.7 C216.3 740.1 217.7 735.6 219 731.2 C220.3 726.8 221.7 722.4 223 718.1 C224.3 713.9 225.7 709.7 227 705.5 C228.3 701.4 229.7 697.3 231 693.4 C232.3 689.4 233.7 685.5 235 681.7 C236.3 677.8 237.7 674.1 239 670.4 C240.3 666.7 241.7 663.1 243 659.6 C244.3 656.1 245.7 652.6 247 649.3 C248.3 645.9 249.7 642.6 251 639.4 C252.3 636.2 253.7 633.1 255 630 C256.3 627 257.7 624 259 621.1 C260.3 618.2 261.7 615.3 263 612.6 C264.3 609.8 265.7 607.2 267 604.6 C268.3 602 269.7 599.5 271 597 C272.3 594.6 273.7 592.2 275 589.9 C276.3 587.7 277.7 585.5 279 583.3 C280.3 581.2 281.7 579.1 283 577.1 C284.3 575.2 285.7 573.2 287 571.4 C288.3 569.5 289.7 567.7 291 566 C292.3 564.2 293.7 562.5 295 560.9 C296.3 559.3 297.7 557.7 299 556.1 C300.3 554.6 301.7 553.1 303 551.6 C304.3 550.1 305.7 548.7 307 547.3 C308.3 545.8 309.7 544.5 311 543.1 C312.3 541.7 313.7 540.4 315 539.1 C316.3 537.7 317.7 536.4 319 535.1 C320.3 533.8 321.7 532.5 323 531.2 C324.3 530 325.7 528.7 327 527.4 C328.3 526.2 329.7 524.9 331 523.7 C332.3 522.5 333.7 521.3 335 520.1 C336.3 518.9 337.7 517.7 339 516.5 C340.3 515.3 341.7 514.1 343 513 C344.3 511.8 345.7 510.7 347 509.6 C348.3 508.4 349.7 507.3 351 506.2 C352.3 505.1 353.7 504 355 503 C356.3 501.9 357.7 500.8 359 499.8 C360.3 498.7 361.7 497.7 363 496.7 C364.3 495.7 365.7 494.7 367 493.7 C368.3 492.7 369.7 491.7 371 490.8 C372.3 489.8 373.7 488.9 375 487.9 C376.3 487 377.7 486.1 379 485.2 C380.3 484.3 381.7 483.4 383 482.6 C384.3 481.7 385.7 480.8 387 480 C388.3 479.2 389.7 478.3 391 477.5 C392.3 476.7 393.7 475.9 395 475.2 C396.3 474.4 397.7 473.6 399 472.9 C400.3 472.2 401.7 471.4 403 470.7 C404.3 470 405.7 469.3 407 468.6 C408.3 468 409.7 467.3 411 466.7 C412.3 466 413.7 465.4 415 464.8 C416.3 464.2 417.7 463.6 419 463 C420.3 462.5 419.5 462.8 423 461.4 C426.5 459.9 435.8 455.5 439.9 454.2 C443.9 452.8 444.3 453.5 447.1 453.3 C449.9 453 454.7 452.8 456.7 452.7 C458.6 452.6 458.3 452.7 458.7 452.7" stroke="#ff9999" stroke-width="3.8"/>
<path d="M128.5 850.9 C128.9 850.9 129.1 851 130.5 850.9 C132 850.8 135.5 851 137.2 850.3 C139 849.5 139.8 849.3 141.2 846.3 C142.6 843.3 144.4 836.7 145.8 832.4 C147.2 828 148.5 824.6 149.8 820.3 C151.1 816.1 152.5 811.4 153.8 806.8 C155.1 802.3 156.5 797.4 157.8 792.7 C159.1 788 160.5 783.3 161.8 778.6 C163.1 774 164.5 769.3 165.8 764.7 C167.1 760.1 168.5 755.6 169.8 751.1 C171.1 746.6 172.5 742.2 173.8 737.8 C175.1 733.5 176.5 729.2 177.8 725 C179.1 720.8 180.5 716.7 181.8 712.6 C183.1 708.6 184.5 704.7 185.8 700.9 C187.1 697 188.5 693.3 189.8 689.6 C191.1 686 192.5 682.4 193.8 678.9 C195.1 675.5 196.5 672.1 197.8 668.8 C199.1 665.4 200.5 662.2 201.8 659 C203.1 655.9 204.5 652.8 205.8 649.8 C207.1 646.8 208.5 643.9 209.8 641 C211.1 638.1 212.5 635.3 213.8 632.6 C215.1 629.8 216.5 627.2 217.8 624.6 C219.1 621.9 220.5 619.4 221.8 616.9 C223.1 614.4 224.5 611.9 225.8 609.5 C227.1 607.1 228.5 604.8 229.8 602.5 C231.1 600.2 232.5 597.9 233.8 595.7 C235.1 593.5 236.5 591.4 237.8 589.2 C239.1 587.1 240.5 585 241.8 582.9 C243.1 580.9 244.5 578.9 245.8 576.9 C247.1 574.9 248.5 572.9 249.8 571 C251.1 569.1 252.5 567.2 253.8 565.4 C255.1 563.6 256.5 561.7 257.8 560 C259.1 558.2 260.5 556.4 261.8 554.7 C263.1 553 264.5 551.3 265.8 549.7 C267.1 548 268.5 546.4 269.8 544.8 C271.1 543.3 272.5 541.7 273.8 540.2 C275.1 538.6 276.5 537.2 277.8 535.7 C279.1 534.2 280.5 532.8 281.8 531.4 C283.1 529.9 284.5 528.6 285.8 527.2 C287.1 525.8 288.5 524.5 289.8 523.2 C291.1 521.9 292.5 520.6 293.8 519.3 C295.1 518.1 296.5 516.8 297.8 515.6 C299.1 514.4 300.5 513.2 301.8 512.1 C303.1 510.9 304.5 509.8 305.8 508.6 C307.1 507.5 308.5 506.4 309.8 505.3 C311.1 504.3 312.5 503.2 313.8 502.2 C315.1 501.1 316.5 500.1 317.8 499.1 C319.1 498.1 320.5 497.1 321.8 496.1 C323.1 495.2 324.5 494.2 325.8 493.3 C327.1 492.4 328.5 491.5 329.8 490.6 C331.1 489.7 332.5 488.8 333.8 487.9 C335.1 487 336.5 486.2 337.8 485.3 C339.1 484.5 340.5 483.7 341.8 482.9 C343.1 482 344.5 481.2 345.8 480.5 C347.1 479.7 348.5 478.9 349.8 478.1 C351.1 477.4 352.5 476.6 353.8 475.9 C355.1 475.2 356.5 474.4 357.8 473.7 C359.1 473 360.5 472.3 361.8 471.6 C363.1 470.9 364.5 470.3 365.8 469.6 C367.1 468.9 368.5 468.3 369.8 467.6 C371.1 467 372.5 466.3 373.8 465.7 C375.1 465.1 376.5 464.4 377.8 463.8 C379.1 463.2 380.5 462.6 381.8 462 C383.1 461.4 384.5 460.8 385.8 460.2 C387.1 459.6 388.5 459.1 389.8 458.5 C391.1 457.9 392.5 457.4 393.8 456.8 C395.1 456.3 396.5 455.7 397.8 455.2 C399.1 454.6 400.5 454.1 401.8 453.6 C403.1 453 404.5 452.5 405.8 452 C407.1 451.4 408.5 450.9 409.8 450.4 C411.1 449.9 412.5 449.4 413.8 448.9 C415.1 448.4 414.1 449 417.8 447.3 C421.4 445.7 431.2 440.8 435.7 438.8 C440.3 436.9 441.4 436.4 444.9 435.8 C448.4 435.2 454.2 435.3 456.5 435.2 C458.8 435.1 458.2 435.2 458.5 435.2" stroke="#ff0000" stroke-width="7.0"/>
</g>
<line x1="293.8" y1="398.2" x2="293.8" y2="903.5" stroke="#1a1a1a" stroke-width="1.5" stroke-dasharray="5.5 3.2"/>
<rect x="130.4" y="398.2" width="326.1" height="505.3" fill="none" stroke="#4d4d4d" stroke-width="1.5"/>
<path d="M130.4 903.6h-5M130.4 895.9h-5M130.4 889.4h-5M130.4 883.8h-5M130.4 878.8h-5M130.4 874.4h-10M130.4 845.2h-5M130.4 828.1h-5M130.4 816h-5M130.4 806.6h-5M130.4 798.9h-5M130.4 792.4h-5M130.4 786.8h-5M130.4 781.8h-5M130.4 777.4h-10M130.4 748.2h-5M130.4 731.1h-5M130.4 719h-5M130.4 709.6h-5M130.4 701.9h-5M130.4 695.4h-5M130.4 689.8h-5M130.4 684.8h-5M130.4 680.4h-10M130.4 651.2h-5M130.4 634.1h-5M130.4 622h-5M130.4 612.6h-5M130.4 604.9h-5M130.4 598.4h-5M130.4 592.8h-5M130.4 587.8h-5M130.4 583.4h-10M130.4 554.2h-5M130.4 537.1h-5M130.4 525h-5M130.4 515.6h-5M130.4 507.9h-5M130.4 501.4h-5M130.4 495.8h-5M130.4 490.8h-5M130.4 486.4h-10M130.4 457.2h-5M130.4 440.1h-5M130.4 428h-5M130.4 418.6h-5M130.4 410.9h-5M130.4 404.4h-5M130.4 398.8h-5M130.4 903.5v10M211.9 903.5v10M293.5 903.5v10M375 903.5v10M456.5 903.5v10" stroke="#4d4d4d" stroke-width="1.5" fill="none"/>
<text x="106.4" y="495.6" font-size="27.6" text-anchor="end">10<tspan font-size="19.3" dy="-13.8">–8</tspan></text>
<text x="106.4" y="592.6" font-size="27.6" text-anchor="end">10<tspan font-size="19.3" dy="-13.8">–9</tspan></text>
<text x="106.4" y="689.6" font-size="27.6" text-anchor="end">10<tspan font-size="19.3" dy="-13.8">–10</tspan></text>
<text x="106.4" y="786.6" font-size="27.6" text-anchor="end">10<tspan font-size="19.3" dy="-13.8">–11</tspan></text>
<text x="106.4" y="883.6" font-size="27.6" text-anchor="end">10<tspan font-size="19.3" dy="-13.8">–12</tspan></text>
<text x="130.4" y="946.5" font-size="27.6" text-anchor="middle" fill="#000" >–40</text>
<text x="211.9" y="946.5" font-size="27.6" text-anchor="middle" fill="#000" >–20</text>
<text x="293.5" y="946.5" font-size="27.6" text-anchor="middle" fill="#000" >0</text>
<text x="375" y="946.5" font-size="27.6" text-anchor="middle" fill="#000" >20</text>
<text x="456.5" y="946.5" font-size="27.6" text-anchor="middle" fill="#000" >40</text>
<text x="294.4" y="984" font-size="26.5" text-anchor="middle"><tspan font-style="italic">V</tspan><tspan font-size="18" dy="7">g</tspan><tspan dy="-7"> (V)</tspan></text>
<text transform="translate(23 650.9) rotate(-90)" font-size="26.7" text-anchor="middle"><tspan font-style="italic">I</tspan> (A)</text>
</g>
<g id="plot-b">
<g clip-path="url(#clipb)" fill="none" stroke-linejoin="round" stroke-linecap="butt">
<path d="M666.6 688.3 C666.9 688.3 667.1 687.9 668.6 688.3 C670 688.7 673.5 689.2 675.3 690.7 C677 692.1 677.7 694.2 678.9 697 C680.1 699.8 681.2 703.8 682.5 707.3 C683.8 710.8 685.1 714.2 686.5 717.9 C687.8 721.6 689.1 725.4 690.5 729.3 C691.8 733.2 693.1 737.1 694.5 741 C695.8 745 697.1 748.9 698.5 752.8 C699.8 756.6 701.1 760.5 702.5 764.2 C703.8 768 705.1 771.7 706.5 775.3 C707.8 778.9 709.1 782.5 710.5 786 C711.8 789.5 713.1 792.9 714.5 796.3 C715.8 799.6 717.1 802.9 718.5 806.2 C719.8 809.4 721.1 812.5 722.5 815.6 C723.8 818.7 725.1 821.8 726.5 824.7 C727.8 827.6 729.1 830.4 730.5 833 C731.8 835.6 733.1 838.1 734.5 840.3 C735.8 842.5 737.1 844.4 738.5 846 C739.8 847.6 741.1 848.9 742.5 849.7 C743.8 850.5 745.1 851 746.5 850.9 C747.8 850.8 749.1 850.2 750.5 849.1 C751.8 847.9 753.1 846.2 754.5 843.8 C755.8 841.4 757.1 838.4 758.5 834.7 C759.8 831.1 761.1 826.8 762.5 822.2 C763.8 817.6 765.1 812.3 766.5 807 C767.8 801.6 769.1 795.7 770.5 789.9 C771.8 784 773.1 777.8 774.5 771.8 C775.8 765.7 777.1 759.5 778.5 753.4 C779.8 747.4 781.1 741.4 782.5 735.5 C783.8 729.7 785.1 723.9 786.5 718.2 C787.8 712.6 789.1 707 790.5 701.5 C791.8 696 793.1 690.6 794.5 685.4 C795.8 680.1 797.1 674.9 798.5 669.9 C799.8 664.8 801.1 659.8 802.5 655 C803.8 650.1 805.1 645.4 806.5 640.7 C807.8 636.1 809.1 631.6 810.5 627.1 C811.8 622.7 813.1 618.4 814.5 614.2 C815.8 610.1 817.1 606 818.5 602.1 C819.8 598.1 821.1 594.3 822.5 590.6 C823.8 587 825.1 583.4 826.5 580 C827.8 576.6 829.1 573.4 830.5 570.2 C831.8 567.1 833.1 564.2 834.5 561.4 C835.8 558.6 837.1 555.9 838.5 553.4 C839.8 550.9 841.1 548.6 842.5 546.3 C843.8 544.1 845.1 541.9 846.5 539.9 C847.8 537.9 849.1 536 850.5 534.1 C851.8 532.2 853.1 530.5 854.5 528.7 C855.8 527 857.1 525.3 858.5 523.7 C859.8 522 861.1 520.4 862.5 518.9 C863.8 517.3 865.1 515.8 866.5 514.3 C867.8 512.8 869.1 511.3 870.5 509.9 C871.8 508.5 873.1 507.1 874.5 505.8 C875.8 504.4 877.1 503.1 878.5 501.8 C879.8 500.5 881.1 499.2 882.5 498 C883.8 496.8 885.1 495.6 886.5 494.4 C887.8 493.2 889.1 492.1 890.5 491 C891.8 489.8 893.1 488.7 894.5 487.7 C895.8 486.6 897.1 485.5 898.5 484.5 C899.8 483.5 901.1 482.4 902.5 481.5 C903.8 480.5 905.1 479.5 906.5 478.5 C907.8 477.6 909.1 476.6 910.5 475.7 C911.8 474.8 913.1 473.9 914.5 473 C915.8 472.1 917.1 471.2 918.5 470.4 C919.8 469.5 921.1 468.7 922.5 467.8 C923.8 467 925.1 466.1 926.5 465.3 C927.8 464.5 929.1 463.7 930.5 462.9 C931.8 462.1 933.1 461.3 934.5 460.5 C935.8 459.7 937.1 458.9 938.5 458.2 C939.8 457.4 941.1 456.6 942.5 455.9 C943.8 455.2 945.1 454.4 946.5 453.7 C947.8 453 949.1 452.3 950.5 451.6 C951.8 451 953.1 450.3 954.5 449.7 C955.8 449 957.1 448.4 958.5 447.8 C959.8 447.2 959.2 447.3 962.5 446.1 C965.7 444.9 974 441.8 978.1 440.6 C982.2 439.5 984 439.5 987.1 439.2 C990.2 438.9 994.7 438.9 996.7 438.8 C998.6 438.8 998.3 438.8 998.7 438.8" stroke="#ff5a5a" stroke-width="3.8"/>
<path d="M666.6 645.3 C666.9 645.3 665.5 643 668.6 645.3 C671.7 647.6 680.9 655.2 685.2 659 C689.5 662.8 691.5 665.1 694.2 668.1 C696.9 671.1 699.6 674.6 701.5 677 C703.3 679.4 704.1 680.6 705.5 682.4 C706.8 684.2 708.1 686.1 709.5 688 C710.8 689.9 712.1 691.8 713.5 693.7 C714.8 695.6 716.1 697.6 717.5 699.4 C718.8 701.3 720.1 703.2 721.5 705 C722.8 706.8 724.1 708.5 725.5 710.2 C726.8 712 728.1 713.6 729.5 715.4 C730.8 717.2 732.1 719 733.5 720.9 C734.8 722.9 736.1 725 737.5 727.2 C738.8 729.5 740.1 731.9 741.5 734.5 C742.8 737 744.1 739.8 745.5 742.6 C746.8 745.4 748.1 748.3 749.5 751.3 C750.8 754.3 752.1 757.4 753.5 760.5 C754.8 763.7 756.1 766.9 757.5 770.1 C758.8 773.3 760.1 776.6 761.5 779.8 C762.8 783.1 764.1 786.4 765.5 789.6 C766.8 792.8 768.1 796.1 769.5 799.2 C770.8 802.4 772.1 805.5 773.5 808.5 C774.8 811.5 776.1 814.5 777.5 817.3 C778.8 820.2 780.1 823 781.5 825.4 C782.8 827.9 784.1 830.2 785.5 832 C786.8 833.8 788.1 835.4 789.5 836.3 C790.8 837.2 792.1 837.7 793.5 837.3 C794.8 837 796.1 836.2 797.5 834.4 C798.8 832.6 800.1 830.1 801.5 826.6 C802.8 823 804.1 818.5 805.5 813 C806.8 807.5 808.1 800.8 809.5 793.8 C810.8 786.8 812.1 778.8 813.5 770.9 C814.8 763 816.1 754.5 817.5 746.4 C818.8 738.4 820.1 730.1 821.5 722.5 C822.8 714.9 824.1 707.8 825.5 701.1 C826.8 694.4 828.1 688.3 829.5 682.3 C830.8 676.4 832.1 670.9 833.5 665.4 C834.8 659.9 836.1 654.6 837.5 649.4 C838.8 644.3 840.1 639.2 841.5 634.3 C842.8 629.3 844.1 624.5 845.5 619.8 C846.8 615.2 848.1 610.6 849.5 606.2 C850.8 601.8 852.1 597.5 853.5 593.4 C854.8 589.2 856.1 585.2 857.5 581.4 C858.8 577.5 860.1 573.8 861.5 570.1 C862.8 566.5 864.1 563.1 865.5 559.7 C866.8 556.3 868.1 553.1 869.5 549.9 C870.8 546.8 872.1 543.8 873.5 540.9 C874.8 537.9 876.1 535.1 877.5 532.4 C878.8 529.6 880.1 527 881.5 524.5 C882.8 521.9 884.1 519.5 885.5 517.1 C886.8 514.7 888.1 512.4 889.5 510.2 C890.8 507.9 892.1 505.8 893.5 503.7 C894.8 501.5 896.1 499.5 897.5 497.5 C898.8 495.5 900.1 493.6 901.5 491.7 C902.8 489.9 904.1 488 905.5 486.3 C906.8 484.5 908.1 482.8 909.5 481.1 C910.8 479.5 912.1 477.9 913.5 476.3 C914.8 474.8 916.1 473.3 917.5 471.8 C918.8 470.3 920.1 468.9 921.5 467.6 C922.8 466.2 924.1 464.9 925.5 463.7 C926.8 462.4 928.1 461.2 929.5 460 C930.8 458.9 932.1 457.8 933.5 456.7 C934.8 455.6 936.1 454.6 937.5 453.6 C938.8 452.6 940.1 451.7 941.5 450.8 C942.8 449.9 944.1 449.1 945.5 448.3 C946.8 447.5 948.1 446.7 949.5 446 C950.8 445.3 952.1 444.6 953.5 443.9 C954.8 443.3 956.1 442.7 957.5 442.1 C958.8 441.6 958.3 441.6 961.5 440.6 C964.6 439.6 972 436.8 976.2 436.1 C980.5 435.4 983.7 436.3 987.1 436.3 C990.5 436.3 994.7 436.1 996.7 436.1 C998.6 436.1 998.3 436.1 998.7 436.1" stroke="#ff9999" stroke-width="3.8"/>
<path d="M666.6 609.3 C666.9 609.3 667.3 609.1 668.6 609.3 C669.9 609.4 671.9 608.5 674.3 610.2 C676.8 611.9 680.1 616 683.4 619.6 C686.7 623.2 691.8 629.1 694.2 631.9 C696.7 634.7 696.9 634.9 698.2 636.3 C699.6 637.7 700.9 639.1 702.2 640.5 C703.6 641.8 704.9 643.2 706.2 644.5 C707.6 645.8 708.9 647.2 710.2 648.5 C711.6 649.9 712.9 651.2 714.2 652.6 C715.6 654 716.9 655.4 718.2 656.9 C719.6 658.4 720.9 659.9 722.2 661.5 C723.6 663.2 724.9 664.8 726.2 666.6 C727.6 668.4 728.9 670.3 730.2 672.3 C731.6 674.2 732.9 676.3 734.2 678.5 C735.6 680.7 736.9 683 738.2 685.3 C739.6 687.6 740.9 690 742.2 692.4 C743.6 694.8 744.9 697.2 746.2 699.6 C747.6 702.1 748.9 704.6 750.2 707.1 C751.6 709.6 752.9 712.1 754.2 714.7 C755.6 717.2 756.9 719.8 758.2 722.4 C759.6 725 760.9 727.6 762.2 730.2 C763.6 732.8 764.9 735.4 766.2 738.1 C767.6 740.7 768.9 743.3 770.2 746 C771.6 748.6 772.9 751.3 774.2 754 C775.6 756.6 776.9 759.3 778.2 761.9 C779.6 764.6 780.9 767.2 782.2 769.9 C783.6 772.5 784.9 775.2 786.2 777.8 C787.6 780.4 788.9 783.1 790.2 785.7 C791.6 788.3 792.9 790.9 794.2 793.5 C795.6 796 796.9 798.6 798.2 801.1 C799.6 803.6 800.9 806 802.2 808.4 C803.6 810.7 804.9 812.9 806.2 815 C807.6 817.1 808.9 819.1 810.2 820.9 C811.6 822.6 812.9 824.3 814.2 825.6 C815.6 827 816.9 828.3 818.2 829.1 C819.6 829.9 820.9 830.6 822.2 830.7 C823.6 830.7 824.9 830.4 826.2 829.4 C827.6 828.4 828.9 826.8 830.2 824.4 C831.6 822 832.9 818.8 834.2 814.8 C835.6 810.9 836.9 806.1 838.2 800.8 C839.6 795.4 840.9 789.4 842.2 782.9 C843.6 776.5 844.9 769.4 846.2 762.2 C847.6 754.9 848.9 747.2 850.2 739.7 C851.6 732.2 852.9 724.6 854.2 717.4 C855.6 710.1 856.9 703 858.2 696.2 C859.6 689.4 860.9 682.8 862.2 676.6 C863.6 670.4 864.9 664.6 866.2 659.1 C867.6 653.5 868.9 648.3 870.2 643.3 C871.6 638.3 872.9 633.5 874.2 628.9 C875.6 624.3 876.9 619.9 878.2 615.5 C879.6 611.2 880.9 606.9 882.2 602.7 C883.6 598.5 884.9 594.4 886.2 590.3 C887.6 586.2 888.9 582.1 890.2 578.1 C891.6 574.1 892.9 570.1 894.2 566.2 C895.6 562.3 896.9 558.5 898.2 554.7 C899.6 551 900.9 547.3 902.2 543.7 C903.6 540.1 904.9 536.6 906.2 533.1 C907.6 529.7 908.9 526.4 910.2 523.2 C911.6 519.9 912.9 516.8 914.2 513.8 C915.6 510.7 916.9 507.8 918.2 505 C919.6 502.2 920.9 499.6 922.2 497 C923.6 494.4 924.9 492 926.2 489.6 C927.6 487.2 928.9 485 930.2 482.8 C931.6 480.6 932.9 478.6 934.2 476.5 C935.6 474.5 936.9 472.6 938.2 470.7 C939.6 468.9 940.9 467.1 942.2 465.3 C943.6 463.6 944.9 461.9 946.2 460.2 C947.6 458.6 948.9 457 950.2 455.4 C951.6 453.8 952.9 452.3 954.2 450.8 C955.6 449.3 956.9 447.8 958.2 446.3 C959.6 444.8 960.9 443.4 962.2 442 C963.6 440.6 964.9 439.2 966.2 437.8 C967.6 436.5 968.9 435.2 970.2 434 C971.6 432.8 972 432.2 974.2 430.6 C976.4 429 980.7 425.7 983.5 424.3 C986.2 423 988.5 422.9 990.7 422.5 C992.9 422.2 995.4 422.2 996.7 422.2 C998 422.1 998.3 422.2 998.7 422.2" stroke="#ffc0c0" stroke-width="3.8"/>
<path d="M666.6 596.1 C666.9 596.1 667.3 595.9 668.6 596.1 C669.9 596.2 672.2 595.5 674.3 597 C676.5 598.5 678.3 601.9 681.6 605.1 C684.9 608.4 691.5 614 694.2 616.6 C697 619.2 696.9 619.3 698.2 620.6 C699.6 621.9 700.9 623.2 702.2 624.4 C703.6 625.7 704.9 626.9 706.2 628.2 C707.6 629.4 708.9 630.7 710.2 631.9 C711.6 633.1 712.9 634.4 714.2 635.6 C715.6 636.9 716.9 638.1 718.2 639.4 C719.6 640.6 720.9 641.9 722.2 643.2 C723.6 644.5 724.9 645.9 726.2 647.2 C727.6 648.6 728.9 650 730.2 651.4 C731.6 652.8 732.9 654.3 734.2 655.8 C735.6 657.4 736.9 658.9 738.2 660.5 C739.6 662.2 740.9 663.8 742.2 665.6 C743.6 667.3 744.9 669.1 746.2 670.9 C747.6 672.7 748.9 674.6 750.2 676.5 C751.6 678.4 752.9 680.4 754.2 682.4 C755.6 684.4 756.9 686.5 758.2 688.6 C759.6 690.7 760.9 692.8 762.2 695 C763.6 697.1 764.9 699.4 766.2 701.6 C767.6 703.8 768.9 706.1 770.2 708.4 C771.6 710.7 772.9 713.1 774.2 715.4 C775.6 717.8 776.9 720.2 778.2 722.6 C779.6 725.1 780.9 727.5 782.2 730 C783.6 732.5 784.9 735 786.2 737.5 C787.6 740 788.9 742.5 790.2 745.1 C791.6 747.7 792.9 750.2 794.2 752.8 C795.6 755.4 796.9 758 798.2 760.6 C799.6 763.2 800.9 765.8 802.2 768.3 C803.6 770.9 804.9 773.4 806.2 775.9 C807.6 778.4 808.9 780.9 810.2 783.3 C811.6 785.7 812.9 788.1 814.2 790.4 C815.6 792.6 816.9 794.9 818.2 797 C819.6 799.1 820.9 801.2 822.2 803.1 C823.6 805.1 824.9 807 826.2 808.7 C827.6 810.4 828.9 812.1 830.2 813.6 C831.6 815 832.9 816.4 834.2 817.6 C835.6 818.9 836.9 820 838.2 820.8 C839.6 821.7 840.9 822.4 842.2 822.6 C843.6 822.9 844.9 822.9 846.2 822.3 C847.6 821.8 848.9 820.8 850.2 819.3 C851.6 817.7 852.9 815.6 854.2 812.8 C855.6 809.9 856.9 806.3 858.2 802.3 C859.6 798.2 860.9 793.4 862.2 788.3 C863.6 783.3 864.9 777.7 866.2 772 C867.6 766.3 868.9 760.2 870.2 753.9 C871.6 747.7 872.9 741.2 874.2 734.6 C875.6 728 876.9 721.2 878.2 714.4 C879.6 707.6 880.9 700.7 882.2 693.9 C883.6 687.1 884.9 680.3 886.2 673.7 C887.6 667.2 888.9 660.9 890.2 654.7 C891.6 648.6 892.9 642.7 894.2 637 C895.6 631.3 896.9 625.8 898.2 620.5 C899.6 615.2 900.9 610 902.2 605.1 C903.6 600.1 904.9 595.3 906.2 590.7 C907.6 586.1 908.9 581.6 910.2 577.3 C911.6 573 912.9 568.8 914.2 564.8 C915.6 560.8 916.9 556.9 918.2 553.1 C919.6 549.3 920.9 545.6 922.2 542.1 C923.6 538.5 924.9 535.1 926.2 531.7 C927.6 528.4 928.9 525.1 930.2 522 C931.6 518.8 932.9 515.8 934.2 512.8 C935.6 509.8 936.9 507 938.2 504.2 C939.6 501.4 940.9 498.7 942.2 496.2 C943.6 493.6 944.9 491.1 946.2 488.8 C947.6 486.4 948.9 484.1 950.2 481.9 C951.6 479.7 952.9 477.7 954.2 475.7 C955.6 473.7 956.9 471.8 958.2 470.1 C959.6 468.3 960.9 466.6 962.2 465.1 C963.6 463.5 964.9 462 966.2 460.7 C967.6 459.3 968.9 458 970.2 456.9 C971.6 455.7 972 455.1 974.2 453.7 C976.4 452.3 980.7 449.7 983.5 448.8 C986.2 447.8 988.5 448.1 990.7 447.8 C992.9 447.6 995.4 447.5 996.7 447.5 C998 447.4 998.3 447.5 998.7 447.5" stroke="#b4b4ff" stroke-width="3.8"/>
<path d="M666.6 570.2 C666.9 570.2 667 570.1 668.6 570.2 C670.2 570.3 673.4 569.2 676.2 570.8 C678.9 572.4 681.3 576.4 685.2 579.8 C689.1 583.3 696.6 588.9 699.7 591.4 C702.7 593.9 702.3 593.6 703.7 594.7 C705 595.7 706.3 596.7 707.7 597.7 C709 598.7 710.3 599.7 711.7 600.6 C713 601.6 714.3 602.5 715.7 603.5 C717 604.4 718.3 605.3 719.7 606.3 C721 607.3 722.3 608.2 723.7 609.3 C725 610.3 726.3 611.3 727.7 612.4 C729 613.5 730.3 614.6 731.7 615.8 C733 617 734.3 618.2 735.7 619.5 C737 620.8 738.3 622.1 739.7 623.5 C741 624.9 742.3 626.3 743.7 627.8 C745 629.3 746.3 630.8 747.7 632.4 C749 634 750.3 635.6 751.7 637.2 C753 638.8 754.3 640.5 755.7 642.2 C757 644 758.3 645.7 759.7 647.5 C761 649.3 762.3 651.1 763.7 653 C765 654.8 766.3 656.7 767.7 658.6 C769 660.5 770.3 662.4 771.7 664.4 C773 666.3 774.3 668.3 775.7 670.3 C777 672.3 778.3 674.3 779.7 676.4 C781 678.4 782.3 680.5 783.7 682.5 C785 684.6 786.3 686.7 787.7 688.8 C789 690.9 790.3 693 791.7 695.1 C793 697.3 794.3 699.4 795.7 701.5 C797 703.7 798.3 705.8 799.7 708 C801 710.1 802.3 712.3 803.7 714.4 C805 716.6 806.3 718.7 807.7 720.9 C809 723 810.3 725.2 811.7 727.3 C813 729.5 814.3 731.6 815.7 733.8 C817 735.9 818.3 738.1 819.7 740.2 C821 742.3 822.3 744.4 823.7 746.6 C825 748.7 826.3 750.8 827.7 752.9 C829 755 830.3 757.1 831.7 759.1 C833 761.2 834.3 763.3 835.7 765.3 C837 767.3 838.3 769.4 839.7 771.4 C841 773.4 842.3 775.4 843.7 777.4 C845 779.3 846.3 781.3 847.7 783.2 C849 785.2 850.3 787.1 851.7 789 C853 790.8 854.3 792.6 855.7 794.3 C857 796.1 858.3 797.7 859.7 799.2 C861 800.7 862.3 802.1 863.7 803.3 C865 804.5 866.3 805.6 867.7 806.5 C869 807.3 870.3 808 871.7 808.5 C873 808.9 874.3 809.1 875.7 809.1 C877 809 878.3 808.7 879.7 808.1 C881 807.5 882.3 806.6 883.7 805.2 C885 803.9 886.3 802.3 887.7 800.2 C889 798 890.3 795.5 891.7 792.4 C893 789.3 894.3 785.7 895.7 781.6 C897 777.5 898.3 772.7 899.7 767.8 C901 762.8 902.3 757.3 903.7 751.8 C905 746.3 906.3 740.6 907.7 734.8 C909 729.1 910.3 723.2 911.7 717.4 C913 711.5 914.3 705.6 915.7 699.7 C917 693.8 918.3 687.8 919.7 681.9 C921 676 922.3 670.1 923.7 664.3 C925 658.5 926.3 652.7 927.7 647 C929 641.3 930.3 635.6 931.7 630.1 C933 624.6 934.3 619.1 935.7 613.8 C937 608.6 938.3 603.4 939.7 598.4 C941 593.4 942.3 588.6 943.7 583.9 C945 579.1 946.3 574.6 947.7 570.2 C949 565.7 950.3 561.4 951.7 557.2 C953 553 954.3 549 955.7 545 C957 541.1 958.3 537.2 959.7 533.5 C961 529.8 962.3 526.1 963.7 522.6 C965 519.1 966.3 515.8 967.7 512.7 C969 509.6 970.3 506.6 971.7 504 C973 501.4 974.3 499 975.7 497 C977 494.9 978.1 493.3 979.7 491.8 C981.3 490.2 983.4 488.6 985.3 487.6 C987.1 486.6 988.8 486.3 990.7 485.8 C992.6 485.4 995.4 485.1 996.7 484.9 C998 484.8 998.3 484.9 998.7 484.9" stroke="#8c8cff" stroke-width="3.8"/>
<path d="M666.6 556.7 C666.9 556.7 667.1 556.6 668.6 556.7 C670 556.8 672.5 555.8 675.3 557.2 C678 558.7 681.1 562.4 685.2 565.4 C689.3 568.3 696.6 572.9 699.7 574.9 C702.7 577 702.3 576.7 703.7 577.6 C705 578.4 706.3 579.2 707.7 579.9 C709 580.7 710.3 581.4 711.7 582.1 C713 582.9 714.3 583.6 715.7 584.3 C717 585 718.3 585.7 719.7 586.4 C721 587.1 722.3 587.8 723.7 588.5 C725 589.3 726.3 590 727.7 590.8 C729 591.6 730.3 592.4 731.7 593.2 C733 594.1 734.3 595 735.7 595.9 C737 596.8 738.3 597.8 739.7 598.8 C741 599.8 742.3 600.8 743.7 601.9 C745 602.9 746.3 604 747.7 605.2 C749 606.3 750.3 607.5 751.7 608.7 C753 609.9 754.3 611.1 755.7 612.4 C757 613.6 758.3 614.9 759.7 616.3 C761 617.6 762.3 619 763.7 620.4 C765 621.8 766.3 623.2 767.7 624.6 C769 626.1 770.3 627.6 771.7 629.1 C773 630.6 774.3 632.2 775.7 633.7 C777 635.3 778.3 636.9 779.7 638.5 C781 640.2 782.3 641.8 783.7 643.5 C785 645.2 786.3 646.9 787.7 648.6 C789 650.4 790.3 652.1 791.7 653.9 C793 655.7 794.3 657.5 795.7 659.3 C797 661.2 798.3 663 799.7 664.9 C801 666.8 802.3 668.7 803.7 670.6 C805 672.5 806.3 674.5 807.7 676.4 C809 678.4 810.3 680.3 811.7 682.3 C813 684.3 814.3 686.3 815.7 688.2 C817 690.2 818.3 692.2 819.7 694.2 C821 696.2 822.3 698.2 823.7 700.2 C825 702.2 826.3 704.2 827.7 706.1 C829 708.1 830.3 710.1 831.7 712 C833 714 834.3 715.9 835.7 717.9 C837 719.8 838.3 721.7 839.7 723.6 C841 725.5 842.3 727.3 843.7 729.2 C845 731 846.3 732.9 847.7 734.6 C849 736.4 850.3 738.2 851.7 739.9 C853 741.7 854.3 743.4 855.7 745 C857 746.7 858.3 748.3 859.7 749.9 C861 751.6 862.3 753.1 863.7 754.7 C865 756.2 866.3 757.7 867.7 759.2 C869 760.7 870.3 762.2 871.7 763.6 C873 765 874.3 766.4 875.7 767.8 C877 769.1 878.3 770.4 879.7 771.7 C881 773 882.3 774.3 883.7 775.6 C885 776.8 886.3 778 887.7 779.2 C889 780.4 890.3 781.5 891.7 782.6 C893 783.7 894.3 784.9 895.7 785.9 C897 786.9 898.3 787.9 899.7 788.7 C901 789.6 902.3 790.3 903.7 790.9 C905 791.4 906.3 791.8 907.7 792 C909 792.1 910.3 792.1 911.7 791.7 C913 791.3 914.3 790.7 915.7 789.8 C917 788.8 918.3 787.5 919.7 785.8 C921 784.1 922.3 782 923.7 779.5 C925 776.9 926.3 773.9 927.7 770.5 C929 767.1 930.3 763 931.7 758.8 C933 754.7 934.3 750 935.7 745.4 C937 740.9 938.3 736.2 939.7 731.5 C941 726.9 942.3 722.3 943.7 717.6 C945 712.8 946.3 708.1 947.7 703 C949 698 950.3 692.8 951.7 687.4 C953 682.1 954.3 676.4 955.7 670.8 C957 665.2 958.3 659.3 959.7 653.6 C961 647.9 962.3 642 963.7 636.3 C965 630.7 966.3 625 967.7 619.5 C969 614.1 970.3 608.7 971.7 603.6 C973 598.5 974.3 593.6 975.7 589.1 C977 584.6 978.4 580.3 979.7 576.6 C981 573 981.9 569.5 983.5 567.2 C985 564.8 986.7 563.8 988.9 562.6 C991.1 561.4 995 560.4 996.7 559.9 C998.3 559.5 998.3 559.9 998.7 559.9" stroke="#6666ff" stroke-width="3.8"/>
<path d="M666.6 536.1 C666.9 536.1 667 536 668.6 536.1 C670.2 536.1 673.4 535.2 676.2 536.4 C678.9 537.7 681.3 541.1 685.2 543.7 C689.1 546.2 696.6 549.9 699.7 551.6 C702.7 553.3 702.3 553 703.7 553.6 C705 554.3 706.3 555 707.7 555.6 C709 556.3 710.3 556.9 711.7 557.6 C713 558.3 714.3 558.9 715.7 559.6 C717 560.3 718.3 561 719.7 561.7 C721 562.4 722.3 563.1 723.7 563.9 C725 564.6 726.3 565.3 727.7 566.1 C729 566.8 730.3 567.6 731.7 568.4 C733 569.2 734.3 570 735.7 570.8 C737 571.6 738.3 572.5 739.7 573.3 C741 574.2 742.3 575 743.7 575.9 C745 576.8 746.3 577.7 747.7 578.6 C749 579.5 750.3 580.5 751.7 581.4 C753 582.4 754.3 583.4 755.7 584.4 C757 585.4 758.3 586.4 759.7 587.4 C761 588.5 762.3 589.6 763.7 590.6 C765 591.7 766.3 592.8 767.7 594 C769 595.1 770.3 596.3 771.7 597.4 C773 598.6 774.3 599.8 775.7 601.1 C777 602.3 778.3 603.5 779.7 604.8 C781 606.1 782.3 607.4 783.7 608.8 C785 610.1 786.3 611.5 787.7 612.9 C789 614.3 790.3 615.7 791.7 617.2 C793 618.6 794.3 620.1 795.7 621.6 C797 623.2 798.3 624.7 799.7 626.4 C801 628 802.3 629.6 803.7 631.3 C805 633 806.3 634.7 807.7 636.5 C809 638.2 810.3 640 811.7 641.9 C813 643.7 814.3 645.5 815.7 647.4 C817 649.3 818.3 651.2 819.7 653.1 C821 655.1 822.3 657 823.7 658.9 C825 660.9 826.3 662.8 827.7 664.8 C829 666.7 830.3 668.6 831.7 670.6 C833 672.5 834.3 674.4 835.7 676.3 C837 678.2 838.3 680.1 839.7 681.9 C841 683.8 842.3 685.7 843.7 687.5 C845 689.3 846.3 691.1 847.7 692.9 C849 694.7 850.3 696.4 851.7 698.2 C853 699.9 854.3 701.6 855.7 703.3 C857 705 858.3 706.7 859.7 708.3 C861 710 862.3 711.6 863.7 713.2 C865 714.8 866.3 716.4 867.7 717.9 C869 719.5 870.3 721 871.7 722.5 C873 724 874.3 725.5 875.7 727 C877 728.4 878.3 729.8 879.7 731.2 C881 732.6 882.3 734 883.7 735.3 C885 736.6 886.3 737.9 887.7 739.1 C889 740.4 890.3 741.6 891.7 742.7 C893 743.8 894.3 745 895.7 746 C897 747 898.3 748 899.7 749 C901 749.9 902.3 750.8 903.7 751.7 C905 752.6 906.3 753.5 907.7 754.3 C909 755.2 910.3 756 911.7 756.9 C913 757.7 914.3 758.6 915.7 759.5 C917 760.4 918.3 761.3 919.7 762.3 C921 763.2 922.3 764.3 923.7 765.2 C925 766.1 926.3 767.1 927.7 767.9 C929 768.8 930.3 769.6 931.7 770.2 C933 770.8 934.3 771.3 935.7 771.6 C937 771.9 938.3 772.1 939.7 772 C941 771.9 942.3 771.5 943.7 770.9 C945 770.2 946.3 769.3 947.7 768.1 C949 766.8 950.3 765.2 951.7 763.2 C953 761.1 954.3 758.7 955.7 755.9 C957 753.1 958.3 749.9 959.7 746.4 C961 742.9 962.3 739.1 963.7 735 C965 730.9 966.3 726.5 967.7 721.8 C969 717.2 970.3 712.3 971.7 707.3 C973 702.3 974.1 697.9 975.7 691.7 C977.2 685.5 979.2 674.9 980.8 669.9 C982.4 664.9 982.6 663.9 985.3 661.8 C987.9 659.6 994.4 657.7 996.7 656.9 C998.9 656.1 998.3 656.9 998.7 656.9" stroke="#3636ff" stroke-width="3.8"/>
<path d="M666.6 525.9 C666.9 525.9 666.1 525 668.6 525.9 C671.1 526.9 677.3 529.9 681.6 531.9 C685.9 534 689.1 535.7 694.2 538.2 C699.4 540.8 708.6 545.3 712.3 547.1 C716 548.8 715 548.3 716.3 548.9 C717.6 549.5 719 550.1 720.3 550.8 C721.6 551.4 723 552 724.3 552.6 C725.6 553.3 727 553.9 728.3 554.6 C729.6 555.2 731 555.9 732.3 556.5 C733.6 557.2 735 557.9 736.3 558.6 C737.6 559.2 739 559.9 740.3 560.6 C741.6 561.4 743 562.1 744.3 562.8 C745.6 563.5 747 564.3 748.3 565 C749.6 565.8 751 566.6 752.3 567.4 C753.6 568.2 755 569 756.3 569.8 C757.6 570.6 759 571.5 760.3 572.3 C761.6 573.2 763 574.1 764.3 575 C765.6 575.9 767 576.8 768.3 577.8 C769.6 578.7 771 579.7 772.3 580.7 C773.6 581.7 775 582.7 776.3 583.8 C777.6 584.8 779 585.9 780.3 587 C781.6 588.1 783 589.2 784.3 590.4 C785.6 591.6 787 592.7 788.3 594 C789.6 595.2 791 596.4 792.3 597.7 C793.6 599 795 600.3 796.3 601.7 C797.6 603 799 604.4 800.3 605.8 C801.6 607.2 803 608.6 804.3 610.1 C805.6 611.5 807 613 808.3 614.5 C809.6 616 811 617.5 812.3 619 C813.6 620.6 815 622.1 816.3 623.7 C817.6 625.3 819 626.9 820.3 628.5 C821.6 630.1 823 631.7 824.3 633.3 C825.6 634.9 827 636.5 828.3 638.1 C829.6 639.8 831 641.4 832.3 643 C833.6 644.7 835 646.3 836.3 648 C837.6 649.6 839 651.2 840.3 652.9 C841.6 654.5 843 656.1 844.3 657.7 C845.6 659.4 847 661 848.3 662.6 C849.6 664.2 851 665.8 852.3 667.3 C853.6 668.9 855 670.5 856.3 672 C857.6 673.6 859 675.1 860.3 676.6 C861.6 678.1 863 679.6 864.3 681 C865.6 682.5 867 683.9 868.3 685.4 C869.6 686.8 871 688.2 872.3 689.5 C873.6 690.9 875 692.2 876.3 693.5 C877.6 694.8 879 696 880.3 697.3 C881.6 698.5 883 699.7 884.3 700.8 C885.6 702 887 703.1 888.3 704.3 C889.6 705.4 891 706.4 892.3 707.5 C893.6 708.6 895 709.6 896.3 710.6 C897.6 711.7 899 712.7 900.3 713.7 C901.6 714.7 903 715.7 904.3 716.7 C905.6 717.6 907 718.6 908.3 719.6 C909.6 720.6 911 721.5 912.3 722.5 C913.6 723.5 915 724.4 916.3 725.4 C917.6 726.4 919 727.4 920.3 728.4 C921.6 729.4 923 730.4 924.3 731.4 C925.6 732.4 927 733.4 928.3 734.4 C929.6 735.4 931 736.4 932.3 737.4 C933.6 738.3 935 739.3 936.3 740.2 C937.6 741 939 741.9 940.3 742.7 C941.6 743.5 943 744.2 944.3 744.9 C945.6 745.5 947 746.1 948.3 746.6 C949.6 747.1 951 747.6 952.3 747.9 C953.6 748.2 955 748.4 956.3 748.5 C957.6 748.6 959 748.6 960.3 748.5 C961.6 748.4 963 748.1 964.3 747.8 C965.6 747.5 967 747 968.3 746.4 C969.6 745.9 971 745.2 972.3 744.4 C973.6 743.6 975 742.6 976.3 741.6 C977.6 740.7 978.8 740 980.3 738.5 C981.8 737.1 983.6 734.6 985.3 733.2 C987 731.7 988.8 730.7 990.7 729.9 C992.6 729.2 995.4 728.9 996.7 728.6 C998 728.4 998.3 728.6 998.7 728.6" stroke="#0000ff" stroke-width="7.0"/>
<path d="M666.6 852.1 C666.9 852.1 666.8 852.2 668.6 852.1 C670.3 852 674.7 852.6 677.1 851.6 C679.4 850.6 680.7 849.1 682.5 846.1 C684.3 843.2 686.3 837.9 687.9 834.1 C689.5 830.3 690.6 827.3 691.9 823.6 C693.2 819.9 694.6 815.9 695.9 811.8 C697.2 807.8 698.6 803.5 699.9 799.2 C701.2 794.8 702.6 790.3 703.9 785.8 C705.2 781.3 706.6 776.7 707.9 772.2 C709.2 767.6 710.6 762.9 711.9 758.4 C713.2 753.8 714.6 749.2 715.9 744.7 C717.2 740.3 718.6 735.8 719.9 731.5 C721.2 727.2 722.6 722.9 723.9 718.8 C725.2 714.7 726.6 710.7 727.9 706.8 C729.2 702.9 730.6 699.2 731.9 695.5 C733.2 691.9 734.6 688.4 735.9 685 C737.2 681.6 738.6 678.3 739.9 675 C741.2 671.7 742.6 668.5 743.9 665.3 C745.2 662.1 746.6 659 747.9 655.8 C749.2 652.7 750.6 649.5 751.9 646.4 C753.2 643.3 754.6 640.2 755.9 637.1 C757.2 634 758.6 631 759.9 628 C761.2 625 762.6 622 763.9 619.1 C765.2 616.2 766.6 613.3 767.9 610.5 C769.2 607.6 770.6 604.9 771.9 602.1 C773.2 599.4 774.6 596.8 775.9 594.2 C777.2 591.6 778.6 589.1 779.9 586.6 C781.2 584.2 782.6 581.8 783.9 579.5 C785.2 577.2 786.6 575 787.9 572.8 C789.2 570.6 790.6 568.5 791.9 566.4 C793.2 564.4 794.6 562.4 795.9 560.5 C797.2 558.5 798.6 556.6 799.9 554.8 C801.2 553 802.6 551.2 803.9 549.5 C805.2 547.8 806.6 546.1 807.9 544.5 C809.2 542.8 810.6 541.2 811.9 539.7 C813.2 538.1 814.6 536.6 815.9 535.2 C817.2 533.7 818.6 532.3 819.9 530.9 C821.2 529.5 822.6 528.1 823.9 526.8 C825.2 525.4 826.6 524.1 827.9 522.8 C829.2 521.5 830.6 520.3 831.9 519 C833.2 517.8 834.6 516.6 835.9 515.4 C837.2 514.2 838.6 513 839.9 511.9 C841.2 510.7 842.6 509.6 843.9 508.4 C845.2 507.3 846.6 506.2 847.9 505.1 C849.2 504.1 850.6 503 851.9 501.9 C853.2 500.9 854.6 499.8 855.9 498.8 C857.2 497.8 858.6 496.8 859.9 495.8 C861.2 494.8 862.6 493.8 863.9 492.9 C865.2 491.9 866.6 490.9 867.9 490 C869.2 489.1 870.6 488.1 871.9 487.2 C873.2 486.3 874.6 485.4 875.9 484.5 C877.2 483.6 878.6 482.7 879.9 481.8 C881.2 480.9 882.6 480 883.9 479.2 C885.2 478.3 886.6 477.4 887.9 476.6 C889.2 475.7 890.6 474.9 891.9 474 C893.2 473.2 894.6 472.3 895.9 471.5 C897.2 470.7 898.6 469.9 899.9 469.1 C901.2 468.3 902.6 467.5 903.9 466.7 C905.2 465.9 906.6 465.1 907.9 464.3 C909.2 463.6 910.6 462.8 911.9 462 C913.2 461.3 914.6 460.5 915.9 459.8 C917.2 459.1 918.6 458.4 919.9 457.7 C921.2 456.9 922.6 456.3 923.9 455.6 C925.2 454.9 926.6 454.2 927.9 453.5 C929.2 452.9 930.6 452.2 931.9 451.6 C933.2 451 934.6 450.3 935.9 449.7 C937.2 449.1 938.6 448.5 939.9 447.9 C941.2 447.3 942.6 446.8 943.9 446.2 C945.2 445.7 946.6 445.1 947.9 444.6 C949.2 444.1 950.6 443.6 951.9 443.1 C953.2 442.6 952.2 442.8 955.9 441.6 C959.7 440.5 969.8 437.4 974.4 436.1 C979 434.8 979.8 434.4 983.5 433.9 C987.2 433.4 994.1 433.2 996.7 433 C999.2 432.9 998.3 433 998.7 433" stroke="#ff0000" stroke-width="7.0"/>
</g>
<line x1="817.4" y1="398" x2="817.4" y2="918.2" stroke="#1a1a1a" stroke-width="1.5" stroke-dasharray="5.5 3.2"/>
<rect x="668.6" y="398" width="327.9" height="507.2" fill="none" stroke="#4d4d4d" stroke-width="1.5"/>
<path d="M668.6 904.5h-5M668.6 896.8h-5M668.6 890.3h-5M668.6 884.6h-5M668.6 879.7h-5M668.6 875.2h-10M668.6 845.9h-5M668.6 828.8h-5M668.6 816.6h-5M668.6 807.2h-5M668.6 799.5h-5M668.6 793h-5M668.6 787.3h-5M668.6 782.4h-5M668.6 777.9h-10M668.6 748.6h-5M668.6 731.5h-5M668.6 719.3h-5M668.6 709.9h-5M668.6 702.2h-5M668.6 695.7h-5M668.6 690h-5M668.6 685.1h-5M668.6 680.6h-10M668.6 651.3h-5M668.6 634.2h-5M668.6 622h-5M668.6 612.6h-5M668.6 604.9h-5M668.6 598.4h-5M668.6 592.7h-5M668.6 587.8h-5M668.6 583.3h-10M668.6 554h-5M668.6 536.9h-5M668.6 524.7h-5M668.6 515.3h-5M668.6 507.6h-5M668.6 501.1h-5M668.6 495.4h-5M668.6 490.5h-5M668.6 486h-10M668.6 456.7h-5M668.6 439.6h-5M668.6 427.4h-5M668.6 418h-5M668.6 410.3h-5M668.6 403.8h-5M668.6 398.1h-5M668.6 905.2v10M750.6 905.2v10M832.5 905.2v10M914.5 905.2v10M996.5 905.2v10" stroke="#4d4d4d" stroke-width="1.5" fill="none"/>
<text x="644.6" y="495.2" font-size="27.6" text-anchor="end">10<tspan font-size="19.3" dy="-13.8">–8</tspan></text>
<text x="644.6" y="592.5" font-size="27.6" text-anchor="end">10<tspan font-size="19.3" dy="-13.8">–9</tspan></text>
<text x="644.6" y="689.8" font-size="27.6" text-anchor="end">10<tspan font-size="19.3" dy="-13.8">–10</tspan></text>
<text x="644.6" y="787.1" font-size="27.6" text-anchor="end">10<tspan font-size="19.3" dy="-13.8">–11</tspan></text>
<text x="644.6" y="884.4" font-size="27.6" text-anchor="end">10<tspan font-size="19.3" dy="-13.8">–12</tspan></text>
<text x="668.6" y="948.2" font-size="27.6" text-anchor="middle" fill="#000" >–40</text>
<text x="750.6" y="948.2" font-size="27.6" text-anchor="middle" fill="#000" >–20</text>
<text x="832.5" y="948.2" font-size="27.6" text-anchor="middle" fill="#000" >0</text>
<text x="914.5" y="948.2" font-size="27.6" text-anchor="middle" fill="#000" >20</text>
<text x="996.5" y="948.2" font-size="27.6" text-anchor="middle" fill="#000" >40</text>
<text x="833.5" y="985.7" font-size="26.5" text-anchor="middle"><tspan font-style="italic">V</tspan><tspan font-size="18" dy="7">g</tspan><tspan dy="-7"> (V)</tspan></text>
<text transform="translate(562.5 651.6) rotate(-90)" font-size="26.7" text-anchor="middle"><tspan font-style="italic">I</tspan> (A)</text>
</g>
<g id="plot-c">
<g clip-path="url(#clipc)" fill="none" stroke-linejoin="round" stroke-linecap="butt">
<path d="M1264.6 610.9 C1265 610.9 1265.2 610.4 1266.6 610.9 C1268 611.5 1270.7 612.1 1273 614.2 C1275.2 616.2 1277.8 620.5 1280.2 623.2 C1282.6 625.9 1285.6 628.9 1287.4 630.2 C1289.3 631.5 1290.1 630.6 1291.4 630.9 C1292.8 631.2 1294.1 631.4 1295.4 632.1 C1296.8 632.8 1298.1 633.7 1299.4 634.9 C1300.8 636 1302.1 637.4 1303.4 638.9 C1304.8 640.4 1306.1 642.1 1307.4 643.8 C1308.8 645.5 1310.1 647.4 1311.4 649.3 C1312.8 651.1 1314.1 653.1 1315.4 655 C1316.8 656.8 1318.1 658.7 1319.4 660.5 C1320.8 662.2 1322.1 663.9 1323.4 665.5 C1324.8 667.2 1326.1 668.7 1327.4 670.3 C1328.8 671.9 1330.1 673.4 1331.4 675 C1332.8 676.6 1334.1 678.2 1335.4 679.8 C1336.8 681.5 1338.1 683.2 1339.4 684.9 C1340.8 686.6 1342.1 688.3 1343.4 690.1 C1344.8 691.8 1346.1 693.6 1347.4 695.4 C1348.8 697.3 1350.1 699.1 1351.4 701 C1352.8 702.8 1354.1 704.7 1355.4 706.6 C1356.8 708.6 1358.1 710.5 1359.4 712.5 C1360.8 714.4 1362.1 716.4 1363.4 718.4 C1364.8 720.4 1366.1 722.4 1367.4 724.5 C1368.8 726.5 1370.1 728.6 1371.4 730.7 C1372.8 732.8 1374.1 734.9 1375.4 737 C1376.8 739.2 1378.1 741.3 1379.4 743.5 C1380.8 745.6 1382.1 747.8 1383.4 750 C1384.8 752.2 1386.1 754.4 1387.4 756.7 C1388.8 758.9 1390.1 761.1 1391.4 763.4 C1392.8 765.6 1394.1 767.9 1395.4 770.1 C1396.8 772.4 1398.1 774.6 1399.4 776.9 C1400.8 779.1 1402.1 781.4 1403.4 783.6 C1404.8 785.8 1406.1 788.1 1407.4 790.3 C1408.8 792.5 1410.1 794.7 1411.4 796.8 C1412.8 799 1414.1 801.1 1415.4 803.2 C1416.8 805.3 1418.1 807.4 1419.4 809.4 C1420.8 811.5 1422.1 813.5 1423.4 815.4 C1424.8 817.4 1426.1 819.3 1427.4 821.2 C1428.8 823 1430.1 824.9 1431.4 826.6 C1432.8 828.4 1434.1 830.1 1435.4 831.7 C1436.8 833.4 1438.1 835 1439.4 836.5 C1440.8 838 1442.1 839.5 1443.4 840.8 C1444.8 842.1 1446.1 843.4 1447.4 844.5 C1448.8 845.6 1450.1 846.6 1451.4 847.5 C1452.8 848.3 1454.1 849 1455.4 849.6 C1456.8 850.1 1458.1 850.5 1459.4 850.6 C1460.8 850.8 1462.1 850.8 1463.4 850.5 C1464.8 850.3 1466.1 849.8 1467.4 849.1 C1468.8 848.4 1470.1 847.4 1471.4 846.2 C1472.8 845 1474.1 843.5 1475.4 841.8 C1476.8 840 1478.1 837.9 1479.4 835.6 C1480.8 833.2 1482.1 830.5 1483.4 827.4 C1484.8 824.4 1486.1 821 1487.4 817.2 C1488.8 813.4 1490.1 809.2 1491.4 804.6 C1492.8 800 1494.1 795 1495.4 789.5 C1496.8 784.1 1498.1 778 1499.4 772 C1500.8 766 1502.1 759.5 1503.4 753.4 C1504.8 747.3 1506.1 741.1 1507.4 735.3 C1508.8 729.5 1510.1 723.9 1511.4 718.5 C1512.8 713.2 1514.1 708.1 1515.4 703.1 C1516.8 698.1 1518.1 693.3 1519.4 688.6 C1520.8 683.9 1522.1 679.4 1523.4 674.9 C1524.8 670.5 1526.1 666.1 1527.4 661.8 C1528.8 657.4 1530.1 653.2 1531.4 648.9 C1532.8 644.6 1534.1 640.4 1535.4 636.1 C1536.8 631.8 1538.1 627.5 1539.4 623 C1540.8 618.6 1542.1 614.1 1543.4 609.6 C1544.8 605.1 1546.1 600.5 1547.4 595.9 C1548.8 591.3 1550.1 586.7 1551.4 582.3 C1552.8 577.8 1554.1 573.3 1555.4 569 C1556.8 564.7 1558.1 560.5 1559.4 556.5 C1560.8 552.5 1562.1 548.6 1563.4 544.9 C1564.8 541.3 1566.1 537.7 1567.4 534.5 C1568.8 531.2 1570.1 528.1 1571.4 525.3 C1572.8 522.5 1573.6 520.3 1575.4 517.7 C1577.2 515 1580.1 511 1582.1 509.3 C1584.1 507.6 1586 508 1587.5 507.5 C1589 507.1 1590.2 506.8 1591.1 506.6 C1592.1 506.5 1592.8 506.6 1593.1 506.6" stroke="#b4b4ff" stroke-width="3.8"/>
<path d="M1264.6 597.9 C1265 597.9 1265.2 598.2 1266.6 597.9 C1268 597.6 1270.7 595 1273 596.1 C1275.2 597.1 1277.2 601.6 1280.2 604.2 C1283.2 606.9 1288.6 610.1 1291 612 C1293.5 613.9 1293.7 614.4 1295 615.6 C1296.4 616.8 1297.7 618 1299 619.2 C1300.4 620.3 1301.7 621.5 1303 622.6 C1304.4 623.7 1305.7 624.9 1307 626 C1308.4 627.1 1309.7 628.3 1311 629.4 C1312.4 630.5 1313.7 631.7 1315 632.8 C1316.4 634 1317.7 635.1 1319 636.3 C1320.4 637.4 1321.7 638.6 1323 639.8 C1324.4 641 1325.7 642.2 1327 643.4 C1328.4 644.6 1329.7 645.8 1331 647 C1332.4 648.2 1333.7 649.5 1335 650.7 C1336.4 652 1337.7 653.3 1339 654.6 C1340.4 655.8 1341.7 657.2 1343 658.5 C1344.4 659.8 1345.7 661.1 1347 662.5 C1348.4 663.9 1349.7 665.2 1351 666.6 C1352.4 668 1353.7 669.5 1355 670.9 C1356.4 672.4 1357.7 673.8 1359 675.3 C1360.4 676.8 1361.7 678.3 1363 679.9 C1364.4 681.4 1365.7 683 1367 684.6 C1368.4 686.2 1369.7 687.8 1371 689.4 C1372.4 691.1 1373.7 692.8 1375 694.4 C1376.4 696.1 1377.7 697.8 1379 699.6 C1380.4 701.3 1381.7 703.1 1383 704.8 C1384.4 706.6 1385.7 708.4 1387 710.2 C1388.4 712 1389.7 713.8 1391 715.6 C1392.4 717.4 1393.7 719.3 1395 721.1 C1396.4 722.9 1397.7 724.8 1399 726.6 C1400.4 728.5 1401.7 730.4 1403 732.2 C1404.4 734.1 1405.7 735.9 1407 737.8 C1408.4 739.7 1409.7 741.5 1411 743.4 C1412.4 745.2 1413.7 747.1 1415 748.9 C1416.4 750.8 1417.7 752.6 1419 754.5 C1420.4 756.3 1421.7 758.1 1423 759.9 C1424.4 761.8 1425.7 763.6 1427 765.4 C1428.4 767.1 1429.7 768.9 1431 770.7 C1432.4 772.4 1433.7 774.2 1435 775.9 C1436.4 777.6 1437.7 779.3 1439 781 C1440.4 782.7 1441.7 784.4 1443 786 C1444.4 787.6 1445.7 789.2 1447 790.8 C1448.4 792.4 1449.7 793.9 1451 795.5 C1452.4 797 1453.7 798.5 1455 799.9 C1456.4 801.4 1457.7 802.8 1459 804.2 C1460.4 805.6 1461.7 807 1463 808.3 C1464.4 809.6 1465.7 810.9 1467 812.2 C1468.4 813.4 1469.7 814.7 1471 815.9 C1472.4 817 1473.7 818.2 1475 819.3 C1476.4 820.4 1477.7 821.5 1479 822.6 C1480.4 823.6 1481.7 824.6 1483 825.6 C1484.4 826.6 1485.7 827.5 1487 828.4 C1488.4 829.3 1489.7 830.2 1491 831 C1492.4 831.7 1493.7 832.4 1495 833 C1496.4 833.5 1497.7 834 1499 834.3 C1500.4 834.5 1501.7 834.7 1503 834.5 C1504.4 834.4 1505.7 834.2 1507 833.6 C1508.4 833 1509.7 832.3 1511 831.2 C1512.4 830.2 1513.7 828.9 1515 827.3 C1516.4 825.7 1517.7 823.8 1519 821.6 C1520.4 819.3 1521.7 816.8 1523 814 C1524.4 811.2 1525.7 808.1 1527 804.8 C1528.4 801.4 1529.7 797.8 1531 794 C1532.4 790.2 1533.7 786.2 1535 782 C1536.4 777.7 1537.7 773.3 1539 768.8 C1540.4 764.2 1541.7 759.5 1543 754.6 C1544.4 749.8 1545.7 744.8 1547 739.7 C1548.4 734.7 1549.7 729.5 1551 724.2 C1552.4 719 1553.7 713.7 1555 708.3 C1556.4 703 1557.7 697.6 1559 692.2 C1560.4 686.8 1561.7 681.3 1563 675.9 C1564.4 670.6 1565.7 665.1 1567 660.1 C1568.4 655 1569.7 650 1571 645.6 C1572.4 641.2 1573.7 637.2 1575 633.7 C1576.4 630.3 1577.6 626.9 1579.4 625 C1581.2 623.1 1583.8 623.1 1585.7 622.3 C1587.7 621.5 1589.9 620.8 1591.1 620.5 C1592.4 620.2 1592.8 620.5 1593.1 620.5" stroke="#6666ff" stroke-width="3.8"/>
<path d="M1264.6 578 C1265 578 1264.9 577.6 1266.6 578 C1268.3 578.5 1271.6 578.8 1274.8 580.7 C1277.9 582.7 1282 587.1 1285.6 589.8 C1289.2 592.4 1294 595 1296.5 596.6 C1298.9 598.2 1299.1 598.4 1300.5 599.3 C1301.8 600.2 1303.1 601.1 1304.5 602.1 C1305.8 603 1307.1 603.9 1308.5 604.9 C1309.8 605.8 1311.1 606.8 1312.5 607.7 C1313.8 608.7 1315.1 609.7 1316.5 610.6 C1317.8 611.6 1319.1 612.6 1320.5 613.6 C1321.8 614.6 1323.1 615.6 1324.5 616.6 C1325.8 617.6 1327.1 618.7 1328.5 619.7 C1329.8 620.7 1331.1 621.8 1332.5 622.8 C1333.8 623.9 1335.1 624.9 1336.5 626 C1337.8 627.1 1339.1 628.2 1340.5 629.3 C1341.8 630.4 1343.1 631.5 1344.5 632.7 C1345.8 633.8 1347.1 634.9 1348.5 636.1 C1349.8 637.2 1351.1 638.4 1352.5 639.6 C1353.8 640.8 1355.1 642 1356.5 643.2 C1357.8 644.4 1359.1 645.7 1360.5 646.9 C1361.8 648.2 1363.1 649.4 1364.5 650.7 C1365.8 652 1367.1 653.3 1368.5 654.6 C1369.8 655.9 1371.1 657.2 1372.5 658.6 C1373.8 659.9 1375.1 661.3 1376.5 662.7 C1377.8 664.1 1379.1 665.5 1380.5 666.9 C1381.8 668.3 1383.1 669.8 1384.5 671.2 C1385.8 672.6 1387.1 674.1 1388.5 675.6 C1389.8 677 1391.1 678.5 1392.5 680 C1393.8 681.5 1395.1 683 1396.5 684.5 C1397.8 686 1399.1 687.6 1400.5 689.1 C1401.8 690.6 1403.1 692.1 1404.5 693.7 C1405.8 695.2 1407.1 696.8 1408.5 698.3 C1409.8 699.9 1411.1 701.4 1412.5 703 C1413.8 704.5 1415.1 706.1 1416.5 707.6 C1417.8 709.2 1419.1 710.7 1420.5 712.3 C1421.8 713.8 1423.1 715.4 1424.5 716.9 C1425.8 718.5 1427.1 720 1428.5 721.6 C1429.8 723.1 1431.1 724.7 1432.5 726.2 C1433.8 727.7 1435.1 729.3 1436.5 730.8 C1437.8 732.3 1439.1 733.8 1440.5 735.3 C1441.8 736.8 1443.1 738.3 1444.5 739.8 C1445.8 741.3 1447.1 742.8 1448.5 744.2 C1449.8 745.7 1451.1 747.1 1452.5 748.6 C1453.8 750 1455.1 751.4 1456.5 752.8 C1457.8 754.2 1459.1 755.6 1460.5 757 C1461.8 758.4 1463.1 759.7 1464.5 761 C1465.8 762.4 1467.1 763.7 1468.5 765 C1469.8 766.3 1471.1 767.6 1472.5 768.9 C1473.8 770.1 1475.1 771.4 1476.5 772.6 C1477.8 773.9 1479.1 775.1 1480.5 776.3 C1481.8 777.5 1483.1 778.7 1484.5 779.9 C1485.8 781 1487.1 782.2 1488.5 783.3 C1489.8 784.5 1491.1 785.6 1492.5 786.7 C1493.8 787.8 1495.1 788.9 1496.5 790 C1497.8 791.1 1499.1 792.2 1500.5 793.2 C1501.8 794.3 1503.1 795.3 1504.5 796.4 C1505.8 797.4 1507.1 798.4 1508.5 799.4 C1509.8 800.4 1511.1 801.4 1512.5 802.3 C1513.8 803.2 1515.1 804.1 1516.5 804.9 C1517.8 805.8 1519.1 806.6 1520.5 807.3 C1521.8 808 1523.1 808.7 1524.5 809.3 C1525.8 809.9 1527.1 810.4 1528.5 810.9 C1529.8 811.3 1531.1 811.7 1532.5 812 C1533.8 812.2 1535.1 812.4 1536.5 812.5 C1537.8 812.5 1539.1 812.5 1540.5 812.3 C1541.8 812.2 1543.1 811.9 1544.5 811.5 C1545.8 811 1547.1 810.5 1548.5 809.7 C1549.8 808.8 1551.1 807.8 1552.5 806.5 C1553.8 805.2 1555.1 803.6 1556.5 801.6 C1557.8 799.6 1559.1 797.3 1560.5 794.6 C1561.8 791.9 1563.1 788.8 1564.5 785.4 C1565.8 782 1567.1 778.2 1568.5 774.2 C1569.8 770.2 1570.8 766.5 1572.5 761.2 C1574.1 755.9 1576.6 746.3 1578.5 742.2 C1580.4 738.1 1581.8 738.1 1583.9 736.8 C1586 735.4 1589.6 734.5 1591.1 734.1 C1592.7 733.6 1592.8 734.1 1593.1 734.1" stroke="#3636ff" stroke-width="3.8"/>
<path d="M1264.6 560.8 C1265 560.8 1264.6 560.2 1266.6 560.8 C1268.6 561.4 1272.8 562.8 1276.6 564.5 C1280.3 566.1 1285 568.6 1289.2 570.8 C1293.5 573 1299.1 576.2 1301.9 577.8 C1304.7 579.4 1304.6 579.4 1305.9 580.2 C1307.2 581 1308.6 581.9 1309.9 582.7 C1311.2 583.6 1312.6 584.4 1313.9 585.3 C1315.2 586.2 1316.6 587.1 1317.9 588 C1319.2 588.9 1320.6 589.8 1321.9 590.8 C1323.2 591.7 1324.6 592.7 1325.9 593.7 C1327.2 594.6 1328.6 595.6 1329.9 596.6 C1331.2 597.6 1332.6 598.7 1333.9 599.7 C1335.2 600.7 1336.6 601.8 1337.9 602.9 C1339.2 603.9 1340.6 605 1341.9 606.1 C1343.2 607.2 1344.6 608.3 1345.9 609.5 C1347.2 610.6 1348.6 611.7 1349.9 612.9 C1351.2 614.1 1352.6 615.2 1353.9 616.4 C1355.2 617.6 1356.6 618.8 1357.9 620.1 C1359.2 621.3 1360.6 622.5 1361.9 623.8 C1363.2 625 1364.6 626.3 1365.9 627.6 C1367.2 628.9 1368.6 630.2 1369.9 631.5 C1371.2 632.8 1372.6 634.1 1373.9 635.5 C1375.2 636.8 1376.6 638.2 1377.9 639.5 C1379.2 640.9 1380.6 642.2 1381.9 643.6 C1383.2 645 1384.6 646.4 1385.9 647.8 C1387.2 649.2 1388.6 650.6 1389.9 652 C1391.2 653.4 1392.6 654.8 1393.9 656.2 C1395.2 657.6 1396.6 659.1 1397.9 660.5 C1399.2 661.9 1400.6 663.3 1401.9 664.8 C1403.2 666.2 1404.6 667.6 1405.9 669.1 C1407.2 670.5 1408.6 672 1409.9 673.4 C1411.2 674.8 1412.6 676.3 1413.9 677.7 C1415.2 679.1 1416.6 680.6 1417.9 682 C1419.2 683.4 1420.6 684.9 1421.9 686.3 C1423.2 687.7 1424.6 689.1 1425.9 690.5 C1427.2 691.9 1428.6 693.3 1429.9 694.7 C1431.2 696.1 1432.6 697.5 1433.9 698.9 C1435.2 700.3 1436.6 701.7 1437.9 703 C1439.2 704.4 1440.6 705.8 1441.9 707.1 C1443.2 708.4 1444.6 709.8 1445.9 711.1 C1447.2 712.4 1448.6 713.7 1449.9 715 C1451.2 716.3 1452.6 717.6 1453.9 718.8 C1455.2 720.1 1456.6 721.4 1457.9 722.6 C1459.2 723.8 1460.6 725.1 1461.9 726.3 C1463.2 727.5 1464.6 728.7 1465.9 729.9 C1467.2 731 1468.6 732.2 1469.9 733.4 C1471.2 734.5 1472.6 735.6 1473.9 736.8 C1475.2 737.9 1476.6 739 1477.9 740.1 C1479.2 741.2 1480.6 742.2 1481.9 743.3 C1483.2 744.4 1484.6 745.4 1485.9 746.4 C1487.2 747.5 1488.6 748.5 1489.9 749.5 C1491.2 750.5 1492.6 751.5 1493.9 752.4 C1495.2 753.4 1496.6 754.4 1497.9 755.3 C1499.2 756.2 1500.6 757.2 1501.9 758.1 C1503.2 759 1504.6 759.9 1505.9 760.7 C1507.2 761.6 1508.6 762.5 1509.9 763.3 C1511.2 764.1 1512.6 765 1513.9 765.8 C1515.2 766.6 1516.6 767.4 1517.9 768.1 C1519.2 768.9 1520.6 769.7 1521.9 770.4 C1523.2 771.2 1524.6 771.9 1525.9 772.6 C1527.2 773.3 1528.6 774 1529.9 774.6 C1531.2 775.3 1532.6 776 1533.9 776.6 C1535.2 777.2 1536.6 777.8 1537.9 778.4 C1539.2 778.9 1540.6 779.5 1541.9 780 C1543.2 780.5 1544.6 781 1545.9 781.4 C1547.2 781.9 1548.6 782.3 1549.9 782.6 C1551.2 783 1552.6 783.3 1553.9 783.6 C1555.2 783.9 1556.6 784.1 1557.9 784.3 C1559.2 784.5 1559.1 784.8 1561.9 784.7 C1564.7 784.6 1571.5 784.5 1574.9 783.8 C1578.2 783 1579.4 781.2 1582.1 780.2 C1584.8 779.1 1589.3 777.9 1591.1 777.4 C1593 777 1592.8 777.4 1593.1 777.4" stroke="#0000ff" stroke-width="7.0"/>
<path d="M1264.1 656.3 C1264.4 656.3 1264 655.9 1266.1 656.3 C1268.2 656.8 1273.3 656.6 1276.6 659 C1279.8 661.4 1282.6 667.2 1285.6 670.8 C1288.6 674.4 1292.5 678 1294.7 680.4 C1296.8 682.8 1297.3 683.6 1298.7 685.2 C1300 686.7 1301.3 688.3 1302.7 689.9 C1304 691.5 1305.3 693 1306.7 694.6 C1308 696.2 1309.3 697.8 1310.7 699.5 C1312 701.1 1313.3 702.7 1314.7 704.4 C1316 706.1 1317.3 707.8 1318.7 709.5 C1320 711.2 1321.3 712.9 1322.7 714.7 C1324 716.4 1325.3 718.2 1326.7 720.1 C1328 721.9 1329.3 723.7 1330.7 725.6 C1332 727.5 1333.3 729.4 1334.7 731.4 C1336 733.4 1337.3 735.4 1338.7 737.4 C1340 739.4 1341.3 741.5 1342.7 743.6 C1344 745.7 1345.3 747.8 1346.7 750 C1348 752.2 1349.3 754.4 1350.7 756.7 C1352 759 1353.3 761.3 1354.7 763.6 C1356 766 1357.3 768.4 1358.7 770.8 C1360 773.3 1361.3 775.8 1362.7 778.3 C1364 780.8 1365.3 783.4 1366.7 786.1 C1368 788.7 1369.3 791.4 1370.7 794.1 C1372 796.8 1373.3 799.5 1374.7 802.3 C1376 805 1377.3 807.8 1378.7 810.5 C1380 813.2 1381.3 816 1382.7 818.6 C1384 821.3 1385.3 823.9 1386.7 826.5 C1388 829 1389.3 831.6 1390.7 834 C1392 836.4 1393.3 838.7 1394.7 840.9 C1396 843.1 1397.3 845.2 1398.7 847.2 C1400 849.2 1401.3 851 1402.7 852.7 C1404 854.3 1405.3 855.9 1406.7 857.2 C1408 858.5 1409.3 859.7 1410.7 860.6 C1412 861.6 1413.3 862.3 1414.7 862.8 C1416 863.3 1417.3 863.6 1418.7 863.6 C1420 863.7 1421.3 863.4 1422.7 862.9 C1424 862.3 1425.3 861.5 1426.7 860.3 C1428 859.1 1429.3 857.6 1430.7 855.7 C1432 853.8 1433.3 851.5 1434.7 848.8 C1436 846.1 1437.3 843 1438.7 839.5 C1440 835.9 1441.3 831.9 1442.7 827.5 C1444 823 1445.3 818.1 1446.7 812.9 C1448 807.6 1449.3 801.9 1450.7 796 C1452 790.1 1453.3 783.8 1454.7 777.4 C1456 771 1457.3 764.2 1458.7 757.4 C1460 750.6 1461.3 743.5 1462.7 736.5 C1464 729.4 1465.3 722.2 1466.7 715 C1468 707.9 1469.3 700.7 1470.7 693.5 C1472 686.4 1473.3 679.3 1474.7 672.4 C1476 665.4 1477.3 658.6 1478.7 651.9 C1480 645.3 1481.3 638.7 1482.7 632.4 C1484 626 1485.3 619.8 1486.7 613.9 C1488 608 1489.3 602.2 1490.7 596.7 C1492 591.2 1493.3 586 1494.7 581 C1496 576 1497.3 571.3 1498.7 566.8 C1500 562.3 1501.3 558 1502.7 553.9 C1504 549.9 1505.3 546 1506.7 542.3 C1508 538.6 1509.3 535.1 1510.7 531.7 C1512 528.3 1513.3 525 1514.7 521.9 C1516 518.7 1517.3 515.7 1518.7 512.8 C1520 509.9 1521.3 507.1 1522.7 504.4 C1524 501.7 1525.3 499.1 1526.7 496.6 C1528 494.1 1529.3 491.7 1530.7 489.4 C1532 487.1 1533.3 484.9 1534.7 482.8 C1536 480.6 1537.3 478.6 1538.7 476.6 C1540 474.6 1541.3 472.7 1542.7 470.8 C1544 469 1545.3 467.2 1546.7 465.5 C1548 463.8 1549.3 462.1 1550.7 460.5 C1552 458.9 1553.3 457.4 1554.7 455.9 C1556 454.4 1557.3 452.9 1558.7 451.5 C1560 450.1 1561.3 448.7 1562.7 447.4 C1564 446.1 1565.3 444.8 1566.7 443.6 C1568 442.5 1568.7 441.7 1570.7 440.3 C1572.6 438.9 1576 436.4 1578.5 435.2 C1581 434 1583.6 433.7 1585.7 433.4 C1587.8 433 1589.9 433.1 1591.1 433 C1592.4 433 1592.8 433 1593.1 433" stroke="#000" stroke-width="7.0"/>
</g>
<line x1="1428.4" y1="397.9" x2="1428.4" y2="910.9" stroke="#1a1a1a" stroke-width="1.5" stroke-dasharray="5.5 3.2"/>
<rect x="1266.3" y="397.9" width="324.8" height="503" fill="none" stroke="#4d4d4d" stroke-width="1.5"/>
<path d="M1266.3 900.9h-5M1266.3 895.7h-5M1266.3 891h-10M1266.3 860.4h-5M1266.3 842.5h-5M1266.3 829.8h-5M1266.3 819.9h-5M1266.3 811.9h-5M1266.3 805.1h-5M1266.3 799.2h-5M1266.3 794h-5M1266.3 789.3h-10M1266.3 758.7h-5M1266.3 740.8h-5M1266.3 728.1h-5M1266.3 718.2h-5M1266.3 710.2h-5M1266.3 703.4h-5M1266.3 697.5h-5M1266.3 692.3h-5M1266.3 687.6h-10M1266.3 657h-5M1266.3 639.1h-5M1266.3 626.4h-5M1266.3 616.5h-5M1266.3 608.5h-5M1266.3 601.7h-5M1266.3 595.8h-5M1266.3 590.6h-5M1266.3 585.9h-10M1266.3 555.3h-5M1266.3 537.4h-5M1266.3 524.7h-5M1266.3 514.8h-5M1266.3 506.8h-5M1266.3 500h-5M1266.3 494.1h-5M1266.3 488.9h-5M1266.3 484.2h-10M1266.3 453.6h-5M1266.3 435.7h-5M1266.3 423h-5M1266.3 413.1h-5M1266.3 405.1h-5M1266.3 398.3h-5M1266.3 900.9v10M1347.5 900.9v10M1428.7 900.9v10M1509.9 900.9v10M1591.1 900.9v10" stroke="#4d4d4d" stroke-width="1.5" fill="none"/>
<text x="1242.3" y="493.4" font-size="27.6" text-anchor="end">10<tspan font-size="19.3" dy="-13.8">–8</tspan></text>
<text x="1242.3" y="595.1" font-size="27.6" text-anchor="end">10<tspan font-size="19.3" dy="-13.8">–9</tspan></text>
<text x="1242.3" y="696.8" font-size="27.6" text-anchor="end">10<tspan font-size="19.3" dy="-13.8">–10</tspan></text>
<text x="1242.3" y="798.5" font-size="27.6" text-anchor="end">10<tspan font-size="19.3" dy="-13.8">–11</tspan></text>
<text x="1242.3" y="900.2" font-size="27.6" text-anchor="end">10<tspan font-size="19.3" dy="-13.8">–12</tspan></text>
<text x="1266.3" y="943.9" font-size="27.6" text-anchor="middle" fill="#000" >–40</text>
<text x="1347.5" y="943.9" font-size="27.6" text-anchor="middle" fill="#000" >–20</text>
<text x="1428.7" y="943.9" font-size="27.6" text-anchor="middle" fill="#000" >0</text>
<text x="1509.9" y="943.9" font-size="27.6" text-anchor="middle" fill="#000" >20</text>
<text x="1591.1" y="943.9" font-size="27.6" text-anchor="middle" fill="#000" >40</text>
<text x="1429.7" y="981.4" font-size="26.5" text-anchor="middle"><tspan font-style="italic">V</tspan><tspan font-size="18" dy="7">g</tspan><tspan dy="-7"> (V)</tspan></text>
<text transform="translate(1163.5 649.4) rotate(-90)" font-size="26.7" text-anchor="middle"><tspan font-style="italic">I</tspan> (A)</text>
</g>
<g id="plot-d">
<g clip-path="url(#clipd)" fill="none" stroke-linejoin="round" stroke-linecap="butt">
<path d="M1764.1 653.6 C1764.4 653.6 1765.4 652.4 1766.1 653.6 C1766.8 654.8 1767.3 659 1768.4 660.8 C1769.6 662.7 1771 662.4 1773 664.5 C1774.9 666.5 1778.3 670.8 1780.2 673.1 C1782.1 675.4 1782.9 676.6 1784.2 678.3 C1785.5 680.1 1786.9 681.9 1788.2 683.6 C1789.5 685.4 1790.9 687.2 1792.2 689 C1793.5 690.9 1794.9 692.7 1796.2 694.5 C1797.5 696.3 1798.9 698.1 1800.2 700 C1801.5 701.8 1802.9 703.6 1804.2 705.4 C1805.5 707.2 1806.9 709 1808.2 710.8 C1809.5 712.6 1810.9 714.4 1812.2 716.2 C1813.5 718 1814.9 719.7 1816.2 721.5 C1817.5 723.2 1818.9 724.9 1820.2 726.6 C1821.5 728.3 1822.9 729.9 1824.2 731.5 C1825.5 733.2 1826.9 734.8 1828.2 736.3 C1829.5 737.9 1830.9 739.4 1832.2 740.9 C1833.5 742.4 1834.9 743.8 1836.2 745.2 C1837.5 746.6 1838.9 747.9 1840.2 749.2 C1841.5 750.4 1842.9 751.6 1844.2 752.7 C1845.5 753.8 1846.9 754.8 1848.2 755.7 C1849.5 756.5 1850.9 757.3 1852.2 758 C1853.5 758.6 1854.9 759.1 1856.2 759.5 C1857.5 759.9 1858.9 760.1 1860.2 760.2 C1861.5 760.2 1862.9 760.1 1864.2 759.8 C1865.5 759.5 1866.9 759.1 1868.2 758.4 C1869.5 757.7 1870.9 756.9 1872.2 755.8 C1873.5 754.8 1874.9 753.5 1876.2 752.1 C1877.5 750.6 1878.9 749 1880.2 747.2 C1881.5 745.4 1882.9 743.4 1884.2 741.2 C1885.5 739 1886.9 736.6 1888.2 734 C1889.5 731.4 1890.9 728.6 1892.2 725.7 C1893.5 722.8 1894.9 719.7 1896.2 716.6 C1897.5 713.6 1898.9 710.3 1900.2 707.2 C1901.5 704.1 1902.9 700.9 1904.2 697.8 C1905.5 694.7 1906.9 691.6 1908.2 688.7 C1909.5 685.7 1910.9 682.7 1912.2 679.8 C1913.5 677 1914.9 674.1 1916.2 671.3 C1917.5 668.5 1918.9 665.8 1920.2 663.1 C1921.5 660.4 1922.9 657.8 1924.2 655.2 C1925.5 652.6 1926.9 650 1928.2 647.5 C1929.5 645 1930.9 642.6 1932.2 640.1 C1933.5 637.7 1934.9 635.4 1936.2 633 C1937.5 630.7 1938.9 628.4 1940.2 626.2 C1941.5 623.9 1942.9 621.7 1944.2 619.6 C1945.5 617.4 1946.9 615.3 1948.2 613.2 C1949.5 611.1 1950.9 609.1 1952.2 607.1 C1953.5 605.1 1954.9 603.1 1956.2 601.2 C1957.5 599.3 1958.9 597.4 1960.2 595.5 C1961.5 593.7 1962.9 591.8 1964.2 590.1 C1965.5 588.3 1966.9 586.5 1968.2 584.8 C1969.5 583.1 1970.9 581.4 1972.2 579.8 C1973.5 578.1 1974.9 576.5 1976.2 574.9 C1977.5 573.3 1978.9 571.7 1980.2 570.2 C1981.5 568.7 1982.9 567.2 1984.2 565.7 C1985.5 564.2 1986.9 562.8 1988.2 561.4 C1989.5 559.9 1990.9 558.6 1992.2 557.2 C1993.5 555.8 1994.9 554.5 1996.2 553.2 C1997.5 551.9 1998.9 550.6 2000.2 549.3 C2001.5 548 2002.9 546.8 2004.2 545.6 C2005.5 544.3 2006.9 543.1 2008.2 542 C2009.5 540.8 2010.9 539.6 2012.2 538.5 C2013.5 537.3 2014.9 536.2 2016.2 535.1 C2017.5 533.9 2018.9 532.8 2020.2 531.7 C2021.5 530.7 2022.9 529.6 2024.2 528.5 C2025.5 527.5 2026.9 526.4 2028.2 525.4 C2029.5 524.3 2030.9 523.3 2032.2 522.2 C2033.5 521.2 2034.9 520.2 2036.2 519.2 C2037.5 518.2 2038.9 517.2 2040.2 516.2 C2041.5 515.1 2042.9 514.1 2044.2 513.1 C2045.5 512.1 2046.9 511.1 2048.2 510.2 C2049.5 509.2 2050.9 508.1 2052.2 507.2 C2053.5 506.2 2054.9 505.2 2056.2 504.2 C2057.5 503.2 2058.9 502.3 2060.2 501.4 C2061.5 500.4 2062.9 499.5 2064.2 498.7 C2065.5 497.8 2065.8 497.4 2068.2 496.3 C2070.6 495.1 2075.6 492.8 2078.5 491.8 C2081.4 490.8 2083.7 490.6 2085.7 490.3 C2087.8 490 2089.6 490 2090.8 490 C2092 489.9 2092.4 490 2092.8 490" stroke="#ff5a5a" stroke-width="3.8"/>
<path d="M1764.6 642.2 C1765 642.2 1763.4 639.1 1766.6 642.2 C1769.8 645.3 1779.7 656.2 1783.8 660.8 C1787.9 665.5 1788.6 666.7 1791 669.9 C1793.5 673.1 1796.4 677.4 1798.3 679.9 C1800.1 682.4 1800.9 683.3 1802.3 685 C1803.6 686.7 1804.9 688.4 1806.3 690.1 C1807.6 691.8 1808.9 693.5 1810.3 695.2 C1811.6 696.9 1812.9 698.6 1814.3 700.4 C1815.6 702.1 1816.9 703.8 1818.3 705.5 C1819.6 707.2 1820.9 708.9 1822.3 710.6 C1823.6 712.2 1824.9 713.9 1826.3 715.6 C1827.6 717.3 1828.9 719 1830.3 720.6 C1831.6 722.3 1832.9 724 1834.3 725.6 C1835.6 727.3 1836.9 728.9 1838.3 730.5 C1839.6 732.2 1840.9 733.8 1842.3 735.4 C1843.6 737 1844.9 738.6 1846.3 740.2 C1847.6 741.7 1848.9 743.3 1850.3 744.9 C1851.6 746.4 1852.9 747.9 1854.3 749.5 C1855.6 751 1856.9 752.5 1858.3 754 C1859.6 755.4 1860.9 756.9 1862.3 758.3 C1863.6 759.8 1864.9 761.2 1866.3 762.6 C1867.6 764 1868.9 765.3 1870.3 766.6 C1871.6 767.9 1872.9 769.1 1874.3 770.3 C1875.6 771.5 1876.9 772.6 1878.3 773.7 C1879.6 774.7 1880.9 775.7 1882.3 776.5 C1883.6 777.4 1884.9 778.2 1886.3 778.9 C1887.6 779.5 1888.9 780.1 1890.3 780.6 C1891.6 781 1892.9 781.3 1894.3 781.5 C1895.6 781.7 1896.9 781.8 1898.3 781.7 C1899.6 781.6 1900.9 781.4 1902.3 781 C1903.6 780.6 1904.9 780.1 1906.3 779.3 C1907.6 778.6 1908.9 777.7 1910.3 776.6 C1911.6 775.6 1912.9 774.3 1914.3 772.8 C1915.6 771.4 1916.9 769.7 1918.3 767.8 C1919.6 766 1920.9 763.9 1922.3 761.6 C1923.6 759.3 1924.9 756.7 1926.3 754 C1927.6 751.3 1928.9 748.3 1930.3 745.2 C1931.6 742.1 1932.9 738.8 1934.3 735.6 C1935.6 732.3 1936.9 728.9 1938.3 725.6 C1939.6 722.2 1940.9 718.9 1942.3 715.5 C1943.6 712.2 1944.9 708.9 1946.3 705.7 C1947.6 702.4 1948.9 699.2 1950.3 696 C1951.6 692.8 1952.9 689.6 1954.3 686.5 C1955.6 683.3 1956.9 680.2 1958.3 677.1 C1959.6 674 1960.9 671 1962.3 668 C1963.6 664.9 1964.9 662 1966.3 659 C1967.6 656.1 1968.9 653.1 1970.3 650.3 C1971.6 647.4 1972.9 644.6 1974.3 641.8 C1975.6 639 1976.9 636.3 1978.3 633.6 C1979.6 630.9 1980.9 628.2 1982.3 625.6 C1983.6 623 1984.9 620.5 1986.3 618 C1987.6 615.5 1988.9 613 1990.3 610.6 C1991.6 608.2 1992.9 605.9 1994.3 603.6 C1995.6 601.3 1996.9 599.1 1998.3 596.9 C1999.6 594.7 2000.9 592.5 2002.3 590.4 C2003.6 588.3 2004.9 586.2 2006.3 584.2 C2007.6 582.2 2008.9 580.2 2010.3 578.3 C2011.6 576.4 2012.9 574.5 2014.3 572.6 C2015.6 570.8 2016.9 568.9 2018.3 567.2 C2019.6 565.4 2020.9 563.6 2022.3 561.9 C2023.6 560.2 2024.9 558.5 2026.3 556.9 C2027.6 555.3 2028.9 553.7 2030.3 552.1 C2031.6 550.5 2032.9 549 2034.3 547.4 C2035.6 545.9 2036.9 544.4 2038.3 543 C2039.6 541.5 2040.9 540.1 2042.3 538.7 C2043.6 537.3 2044.9 535.9 2046.3 534.6 C2047.6 533.2 2048.9 531.9 2050.3 530.6 C2051.6 529.3 2052.9 528 2054.3 526.8 C2055.6 525.5 2056.9 524.3 2058.3 523.1 C2059.6 521.9 2060.9 520.7 2062.3 519.5 C2063.6 518.4 2064.9 517.2 2066.3 516.1 C2067.6 515 2068.9 513.8 2070.3 512.8 C2071.6 511.7 2072.3 511 2074.3 509.6 C2076.2 508.2 2080 505.4 2082.1 504.4 C2084.2 503.5 2085.2 503.7 2086.6 503.9 C2088.1 504.1 2089.7 505.4 2090.8 505.7 C2091.8 506 2092.4 505.7 2092.8 505.7" stroke="#ff9999" stroke-width="3.8"/>
<path d="M1764.6 615.6 C1765 615.6 1765.2 615.2 1766.6 615.6 C1768 616 1770.7 616.6 1773 618.1 C1775.2 619.7 1777.8 622.7 1780.2 625 C1782.6 627.3 1785.6 629.9 1787.4 631.8 C1789.3 633.6 1790.1 634.6 1791.4 636.1 C1792.8 637.6 1794.1 639.2 1795.4 640.8 C1796.8 642.4 1798.1 644 1799.4 645.6 C1800.8 647.3 1802.1 649 1803.4 650.7 C1804.8 652.4 1806.1 654.2 1807.4 655.9 C1808.8 657.7 1810.1 659.4 1811.4 661.2 C1812.8 663 1814.1 664.8 1815.4 666.6 C1816.8 668.3 1818.1 670.1 1819.4 671.9 C1820.8 673.7 1822.1 675.5 1823.4 677.2 C1824.8 679 1826.1 680.7 1827.4 682.5 C1828.8 684.2 1830.1 686 1831.4 687.7 C1832.8 689.4 1834.1 691.1 1835.4 692.8 C1836.8 694.5 1838.1 696.2 1839.4 697.9 C1840.8 699.6 1842.1 701.2 1843.4 702.9 C1844.8 704.6 1846.1 706.2 1847.4 707.9 C1848.8 709.5 1850.1 711.2 1851.4 712.8 C1852.8 714.4 1854.1 716 1855.4 717.7 C1856.8 719.3 1858.1 720.9 1859.4 722.5 C1860.8 724.1 1862.1 725.7 1863.4 727.3 C1864.8 728.9 1866.1 730.4 1867.4 732 C1868.8 733.6 1870.1 735.1 1871.4 736.7 C1872.8 738.3 1874.1 739.8 1875.4 741.4 C1876.8 742.9 1878.1 744.5 1879.4 746 C1880.8 747.5 1882.1 749.1 1883.4 750.6 C1884.8 752.1 1886.1 753.6 1887.4 755 C1888.8 756.5 1890.1 758 1891.4 759.4 C1892.8 760.8 1894.1 762.2 1895.4 763.6 C1896.8 764.9 1898.1 766.3 1899.4 767.6 C1900.8 768.9 1902.1 770.1 1903.4 771.4 C1904.8 772.6 1906.1 773.8 1907.4 774.9 C1908.8 776 1910.1 777.1 1911.4 778.1 C1912.8 779.2 1914.1 780.2 1915.4 781.1 C1916.8 782 1918.1 782.9 1919.4 783.7 C1920.8 784.5 1922.1 785.2 1923.4 785.9 C1924.8 786.5 1926.1 787.2 1927.4 787.7 C1928.8 788.2 1930.1 788.6 1931.4 789 C1932.8 789.3 1934.1 789.5 1935.4 789.6 C1936.8 789.7 1938.1 789.7 1939.4 789.5 C1940.8 789.3 1942.1 789 1943.4 788.5 C1944.8 788 1946.1 787.4 1947.4 786.5 C1948.8 785.7 1950.1 784.6 1951.4 783.4 C1952.8 782.1 1954.1 780.6 1955.4 778.9 C1956.8 777.2 1958.1 775.3 1959.4 773.1 C1960.8 770.9 1962.1 768.4 1963.4 765.7 C1964.8 763 1966.1 760 1967.4 756.9 C1968.8 753.8 1970.1 750.5 1971.4 747 C1972.8 743.6 1974.1 739.9 1975.4 736.3 C1976.8 732.6 1978.1 728.7 1979.4 724.9 C1980.8 721.1 1982.1 717.2 1983.4 713.3 C1984.8 709.4 1986.1 705.5 1987.4 701.6 C1988.8 697.8 1990.1 693.9 1991.4 690 C1992.8 686.1 1994.1 682.3 1995.4 678.5 C1996.8 674.7 1998.1 670.9 1999.4 667.1 C2000.8 663.4 2002.1 659.7 2003.4 656 C2004.8 652.4 2006.1 648.8 2007.4 645.3 C2008.8 641.7 2010.1 638.2 2011.4 634.8 C2012.8 631.4 2014.1 628 2015.4 624.7 C2016.8 621.4 2018.1 618.1 2019.4 614.9 C2020.8 611.7 2022.1 608.5 2023.4 605.5 C2024.8 602.4 2026.1 599.3 2027.4 596.3 C2028.8 593.4 2030.1 590.4 2031.4 587.6 C2032.8 584.7 2034.1 581.9 2035.4 579.1 C2036.8 576.4 2038.1 573.7 2039.4 571.1 C2040.8 568.4 2042.1 565.9 2043.4 563.4 C2044.8 560.9 2046.1 558.4 2047.4 556.1 C2048.8 553.7 2050.1 551.4 2051.4 549.2 C2052.8 547 2054.1 544.9 2055.4 542.8 C2056.8 540.8 2058.1 538.8 2059.4 536.9 C2060.8 535.1 2062.1 533.3 2063.4 531.6 C2064.8 529.9 2066.1 528.2 2067.4 526.7 C2068.8 525.2 2069.6 524.3 2071.4 522.4 C2073.3 520.6 2076.4 517.3 2078.5 515.6 C2080.6 514 2081.9 513.3 2083.9 512.6 C2086 511.9 2089.3 511.7 2090.8 511.5 C2092.3 511.3 2092.4 511.5 2092.8 511.5" stroke="#b4b4ff" stroke-width="3.8"/>
<path d="M1764.6 592.5 C1765 592.5 1765.1 592.7 1766.6 592.5 C1768.2 592.2 1771.6 590.1 1773.9 591 C1776.1 591.9 1778.5 595.7 1780.2 597.9 C1781.9 600.1 1782.5 602.3 1783.8 604 C1785.1 605.7 1786.5 606.9 1787.8 608.2 C1789.1 609.4 1790.5 610.4 1791.8 611.5 C1793.1 612.6 1794.5 613.8 1795.8 615 C1797.1 616.2 1798.5 617.5 1799.8 618.8 C1801.1 620.1 1802.5 621.5 1803.8 622.8 C1805.1 624.1 1806.5 625.5 1807.8 626.9 C1809.1 628.2 1810.5 629.6 1811.8 631 C1813.1 632.3 1814.5 633.7 1815.8 635.1 C1817.1 636.5 1818.5 637.9 1819.8 639.4 C1821.1 640.8 1822.5 642.2 1823.8 643.6 C1825.1 645.1 1826.5 646.5 1827.8 648 C1829.1 649.5 1830.5 651 1831.8 652.4 C1833.1 653.9 1834.5 655.4 1835.8 657 C1837.1 658.5 1838.5 660 1839.8 661.5 C1841.1 663.1 1842.5 664.6 1843.8 666.2 C1845.1 667.8 1846.5 669.4 1847.8 671 C1849.1 672.6 1850.5 674.2 1851.8 675.8 C1853.1 677.5 1854.5 679.1 1855.8 680.8 C1857.1 682.5 1858.5 684.1 1859.8 685.8 C1861.1 687.5 1862.5 689.2 1863.8 691 C1865.1 692.7 1866.5 694.4 1867.8 696.2 C1869.1 697.9 1870.5 699.7 1871.8 701.4 C1873.1 703.1 1874.5 704.9 1875.8 706.6 C1877.1 708.3 1878.5 710 1879.8 711.7 C1881.1 713.4 1882.5 715.1 1883.8 716.8 C1885.1 718.4 1886.5 720 1887.8 721.6 C1889.1 723.2 1890.5 724.8 1891.8 726.3 C1893.1 727.9 1894.5 729.4 1895.8 730.8 C1897.1 732.3 1898.5 733.7 1899.8 735.1 C1901.1 736.5 1902.5 737.8 1903.8 739.2 C1905.1 740.5 1906.5 741.8 1907.8 743.1 C1909.1 744.4 1910.5 745.7 1911.8 747 C1913.1 748.3 1914.5 749.5 1915.8 750.8 C1917.1 752 1918.5 753.2 1919.8 754.5 C1921.1 755.7 1922.5 756.9 1923.8 758.1 C1925.1 759.3 1926.5 760.4 1927.8 761.6 C1929.1 762.8 1930.5 763.9 1931.8 765 C1933.1 766.1 1934.5 767.3 1935.8 768.3 C1937.1 769.4 1938.5 770.5 1939.8 771.5 C1941.1 772.6 1942.5 773.6 1943.8 774.6 C1945.1 775.6 1946.5 776.6 1947.8 777.6 C1949.1 778.5 1950.5 779.4 1951.8 780.3 C1953.1 781.1 1954.5 782 1955.8 782.7 C1957.1 783.4 1958.5 784 1959.8 784.5 C1961.1 785 1962.5 785.4 1963.8 785.6 C1965.1 785.9 1966.5 786 1967.8 785.9 C1969.1 785.9 1970.5 785.7 1971.8 785.3 C1973.1 785 1974.5 784.5 1975.8 783.8 C1977.1 783.1 1978.5 782.2 1979.8 781.2 C1981.1 780.1 1982.5 778.9 1983.8 777.4 C1985.1 776 1986.5 774.3 1987.8 772.5 C1989.1 770.6 1990.5 768.6 1991.8 766.3 C1993.1 764 1994.5 761.5 1995.8 758.7 C1997.1 755.9 1998.5 752.9 1999.8 749.6 C2001.1 746.3 2002.5 742.7 2003.8 739 C2005.1 735.3 2006.5 731.4 2007.8 727.4 C2009.1 723.4 2010.5 719.2 2011.8 715 C2013.1 710.8 2014.5 706.5 2015.8 702.2 C2017.1 698 2018.5 693.7 2019.8 689.5 C2021.1 685.2 2022.5 681 2023.8 676.9 C2025.1 672.7 2026.5 668.6 2027.8 664.4 C2029.1 660.3 2030.5 656.3 2031.8 652.2 C2033.1 648.1 2034.5 644 2035.8 639.9 C2037.1 635.9 2038.5 631.8 2039.8 627.6 C2041.1 623.5 2042.5 619.3 2043.8 615 C2045.1 610.8 2046.5 606.3 2047.8 602.1 C2049.1 597.9 2050.5 593.6 2051.8 589.8 C2053.1 586.1 2054.5 583 2055.8 579.8 C2057.1 576.7 2058.5 574.1 2059.8 571.2 C2061.1 568.3 2062.5 565.4 2063.8 562.5 C2065.1 559.6 2066.5 556.4 2067.8 553.6 C2069.1 550.8 2070.3 548 2071.8 545.7 C2073.3 543.5 2075 541.4 2076.7 540 C2078.4 538.7 2079.7 538.6 2082.1 537.9 C2084.4 537.1 2089 535.9 2090.8 535.5 C2092.6 535.1 2092.4 535.5 2092.8 535.5" stroke="#6666ff" stroke-width="3.8"/>
<path d="M1764.6 563.5 C1765 563.5 1764.9 562.9 1766.6 563.5 C1768.3 564.2 1771.9 565.1 1774.8 567.2 C1777.6 569.3 1780.5 573.5 1783.8 576.2 C1787.1 578.9 1792.2 581.8 1794.7 583.6 C1797.1 585.4 1797.3 585.8 1798.7 586.9 C1800 588.1 1801.3 589.2 1802.7 590.4 C1804 591.6 1805.3 592.8 1806.7 594 C1808 595.2 1809.3 596.4 1810.7 597.6 C1812 598.9 1813.3 600.1 1814.7 601.4 C1816 602.7 1817.3 604 1818.7 605.3 C1820 606.6 1821.3 607.9 1822.7 609.3 C1824 610.6 1825.3 612 1826.7 613.4 C1828 614.8 1829.3 616.2 1830.7 617.6 C1832 619 1833.3 620.4 1834.7 621.9 C1836 623.3 1837.3 624.8 1838.7 626.3 C1840 627.7 1841.3 629.2 1842.7 630.7 C1844 632.2 1845.3 633.7 1846.7 635.3 C1848 636.8 1849.3 638.3 1850.7 639.9 C1852 641.4 1853.3 643 1854.7 644.5 C1856 646.1 1857.3 647.7 1858.7 649.3 C1860 650.9 1861.3 652.5 1862.7 654.1 C1864 655.7 1865.3 657.3 1866.7 658.9 C1868 660.5 1869.3 662.2 1870.7 663.8 C1872 665.4 1873.3 667.1 1874.7 668.7 C1876 670.3 1877.3 672 1878.7 673.6 C1880 675.3 1881.3 676.9 1882.7 678.6 C1884 680.2 1885.3 681.9 1886.7 683.5 C1888 685.1 1889.3 686.8 1890.7 688.4 C1892 690 1893.3 691.6 1894.7 693.2 C1896 694.8 1897.3 696.4 1898.7 697.9 C1900 699.5 1901.3 701.1 1902.7 702.6 C1904 704.2 1905.3 705.7 1906.7 707.2 C1908 708.7 1909.3 710.2 1910.7 711.6 C1912 713.1 1913.3 714.5 1914.7 715.9 C1916 717.3 1917.3 718.7 1918.7 720.1 C1920 721.4 1921.3 722.7 1922.7 724 C1924 725.3 1925.3 726.6 1926.7 727.8 C1928 729 1929.3 730.2 1930.7 731.4 C1932 732.6 1933.3 733.7 1934.7 734.8 C1936 735.9 1937.3 737 1938.7 738.1 C1940 739.2 1941.3 740.2 1942.7 741.2 C1944 742.2 1945.3 743.2 1946.7 744.2 C1948 745.2 1949.3 746.2 1950.7 747.1 C1952 748.1 1953.3 749 1954.7 749.9 C1956 750.9 1957.3 751.8 1958.7 752.7 C1960 753.6 1961.3 754.5 1962.7 755.3 C1964 756.2 1965.3 757.1 1966.7 757.9 C1968 758.8 1969.3 759.7 1970.7 760.5 C1972 761.3 1973.3 762.1 1974.7 762.9 C1976 763.7 1977.3 764.5 1978.7 765.2 C1980 765.9 1981.3 766.5 1982.7 767.1 C1984 767.7 1985.3 768.3 1986.7 768.8 C1988 769.2 1989.3 769.7 1990.7 770 C1992 770.3 1993.3 770.6 1994.7 770.7 C1996 770.8 1997.3 770.9 1998.7 770.8 C2000 770.7 2001.3 770.5 2002.7 770 C2004 769.6 2005.3 769.1 2006.7 768.3 C2008 767.5 2009.3 766.5 2010.7 765.2 C2012 764 2013.3 762.5 2014.7 760.7 C2016 759 2017.3 757 2018.7 754.8 C2020 752.6 2021.3 750.1 2022.7 747.5 C2024 744.9 2025.3 742.1 2026.7 739.1 C2028 736.1 2029.3 732.9 2030.7 729.5 C2032 726.2 2033.3 722.7 2034.7 719.1 C2036 715.4 2037.3 711.6 2038.7 707.7 C2040 703.9 2041.3 699.8 2042.7 695.7 C2044 691.7 2045.3 687.5 2046.7 683.3 C2048 679.2 2049.3 675 2050.7 670.8 C2052 666.7 2053.3 662.5 2054.7 658.5 C2056 654.5 2057.3 650.5 2058.7 646.7 C2060 642.9 2061.3 639.3 2062.7 635.7 C2064 632.2 2065.3 629 2066.7 625.3 C2068 621.7 2068.4 619.1 2070.7 614 C2072.9 608.8 2077.8 598.1 2080.3 594.3 C2082.8 590.5 2084 591.6 2085.7 591 C2087.5 590.4 2089.6 590.7 2090.8 590.7 C2092 590.6 2092.4 590.7 2092.8 590.7" stroke="#3636ff" stroke-width="3.8"/>
<path d="M1764.6 559 C1765 559 1764.6 558.4 1766.6 559 C1768.6 559.6 1772.8 561 1776.6 562.6 C1780.3 564.3 1785 566.6 1789.2 569 C1793.5 571.3 1799.1 574.9 1801.9 576.6 C1804.7 578.3 1804.6 578.2 1805.9 579.1 C1807.2 579.9 1808.6 580.7 1809.9 581.6 C1811.2 582.5 1812.6 583.3 1813.9 584.2 C1815.2 585.1 1816.6 586 1817.9 587 C1819.2 587.9 1820.6 588.8 1821.9 589.8 C1823.2 590.7 1824.6 591.7 1825.9 592.7 C1827.2 593.6 1828.6 594.6 1829.9 595.6 C1831.2 596.6 1832.6 597.7 1833.9 598.7 C1835.2 599.8 1836.6 600.8 1837.9 601.9 C1839.2 602.9 1840.6 604 1841.9 605.1 C1843.2 606.2 1844.6 607.4 1845.9 608.5 C1847.2 609.6 1848.6 610.8 1849.9 611.9 C1851.2 613.1 1852.6 614.3 1853.9 615.5 C1855.2 616.7 1856.6 617.9 1857.9 619.1 C1859.2 620.3 1860.6 621.6 1861.9 622.8 C1863.2 624.1 1864.6 625.3 1865.9 626.6 C1867.2 627.9 1868.6 629.2 1869.9 630.5 C1871.2 631.8 1872.6 633.1 1873.9 634.4 C1875.2 635.8 1876.6 637.1 1877.9 638.5 C1879.2 639.8 1880.6 641.2 1881.9 642.5 C1883.2 643.9 1884.6 645.3 1885.9 646.7 C1887.2 648.1 1888.6 649.5 1889.9 650.9 C1891.2 652.3 1892.6 653.7 1893.9 655.1 C1895.2 656.5 1896.6 657.9 1897.9 659.3 C1899.2 660.8 1900.6 662.2 1901.9 663.6 C1903.2 665.1 1904.6 666.5 1905.9 668 C1907.2 669.4 1908.6 670.9 1909.9 672.3 C1911.2 673.8 1912.6 675.2 1913.9 676.7 C1915.2 678.1 1916.6 679.6 1917.9 681 C1919.2 682.5 1920.6 683.9 1921.9 685.3 C1923.2 686.8 1924.6 688.2 1925.9 689.6 C1927.2 691.1 1928.6 692.5 1929.9 693.9 C1931.2 695.3 1932.6 696.7 1933.9 698.1 C1935.2 699.5 1936.6 700.8 1937.9 702.2 C1939.2 703.5 1940.6 704.9 1941.9 706.2 C1943.2 707.5 1944.6 708.9 1945.9 710.1 C1947.2 711.4 1948.6 712.7 1949.9 714 C1951.2 715.2 1952.6 716.5 1953.9 717.7 C1955.2 718.9 1956.6 720.1 1957.9 721.3 C1959.2 722.4 1960.6 723.6 1961.9 724.8 C1963.2 725.9 1964.6 727 1965.9 728.1 C1967.2 729.3 1968.6 730.4 1969.9 731.4 C1971.2 732.5 1972.6 733.6 1973.9 734.6 C1975.2 735.7 1976.6 736.7 1977.9 737.7 C1979.2 738.7 1980.6 739.7 1981.9 740.7 C1983.2 741.7 1984.6 742.7 1985.9 743.7 C1987.2 744.6 1988.6 745.6 1989.9 746.5 C1991.2 747.4 1992.6 748.3 1993.9 749.3 C1995.2 750.2 1996.6 751.1 1997.9 751.9 C1999.2 752.8 2000.6 753.7 2001.9 754.6 C2003.2 755.4 2004.6 756.3 2005.9 757.1 C2007.2 757.9 2008.6 758.8 2009.9 759.6 C2011.2 760.4 2012.6 761.2 2013.9 762 C2015.2 762.8 2016.6 763.6 2017.9 764.4 C2019.2 765.1 2020.6 765.9 2021.9 766.7 C2023.2 767.4 2024.6 768.2 2025.9 768.9 C2027.2 769.7 2028.6 770.4 2029.9 771.1 C2031.2 771.8 2032.6 772.6 2033.9 773.3 C2035.2 774 2036.6 774.7 2037.9 775.4 C2039.2 776.1 2040.6 776.7 2041.9 777.4 C2043.2 778 2044.6 778.6 2045.9 779.2 C2047.2 779.8 2048.6 780.3 2049.9 780.8 C2051.2 781.3 2052.6 781.7 2053.9 782.1 C2055.2 782.4 2056.6 782.8 2057.9 783 C2059.2 783.2 2060.6 783.4 2061.9 783.5 C2063.2 783.6 2064.6 783.6 2065.9 783.6 C2067.2 783.5 2067.5 783.8 2069.9 783.1 C2072.3 782.4 2077.7 780.3 2080.3 779.3 C2082.9 778.2 2084 777.1 2085.7 776.5 C2087.5 775.9 2089.6 775.8 2090.8 775.6 C2092 775.5 2092.4 775.6 2092.8 775.6" stroke="#0000ff" stroke-width="7.0"/>
<path d="M1764.1 725 C1764.4 725 1764.3 725.2 1766.1 725 C1767.9 724.9 1771.8 724.9 1774.8 724.1 C1777.7 723.4 1780.8 722.2 1783.8 720.5 C1786.8 718.8 1790.7 715.6 1792.8 714.1 C1795 712.6 1795.5 712.3 1796.8 711.4 C1798.2 710.5 1799.5 709.5 1800.8 708.6 C1802.2 707.6 1803.5 706.5 1804.8 705.5 C1806.2 704.5 1807.5 703.4 1808.8 702.3 C1810.2 701.2 1811.5 700.1 1812.8 698.9 C1814.2 697.8 1815.5 696.6 1816.8 695.4 C1818.2 694.2 1819.5 693 1820.8 691.8 C1822.2 690.5 1823.5 689.3 1824.8 688 C1826.2 686.7 1827.5 685.4 1828.8 684.1 C1830.2 682.8 1831.5 681.5 1832.8 680.1 C1834.2 678.8 1835.5 677.4 1836.8 676.1 C1838.2 674.7 1839.5 673.3 1840.8 671.9 C1842.2 670.6 1843.5 669.2 1844.8 667.7 C1846.2 666.3 1847.5 664.9 1848.8 663.5 C1850.2 662.1 1851.5 660.6 1852.8 659.2 C1854.2 657.7 1855.5 656.3 1856.8 654.8 C1858.2 653.4 1859.5 651.9 1860.8 650.5 C1862.2 649 1863.5 647.5 1864.8 646 C1866.2 644.6 1867.5 643.1 1868.8 641.6 C1870.2 640.1 1871.5 638.7 1872.8 637.2 C1874.2 635.7 1875.5 634.2 1876.8 632.7 C1878.2 631.3 1879.5 629.8 1880.8 628.3 C1882.2 626.8 1883.5 625.4 1884.8 623.9 C1886.2 622.4 1887.5 621 1888.8 619.5 C1890.2 618 1891.5 616.6 1892.8 615.1 C1894.2 613.7 1895.5 612.2 1896.8 610.8 C1898.2 609.4 1899.5 607.9 1900.8 606.5 C1902.2 605.1 1903.5 603.7 1904.8 602.3 C1906.2 600.9 1907.5 599.5 1908.8 598.1 C1910.2 596.7 1911.5 595.3 1912.8 593.9 C1914.2 592.5 1915.5 591.2 1916.8 589.8 C1918.2 588.4 1919.5 587.1 1920.8 585.7 C1922.2 584.4 1923.5 583.1 1924.8 581.7 C1926.2 580.4 1927.5 579.1 1928.8 577.8 C1930.2 576.5 1931.5 575.2 1932.8 573.9 C1934.2 572.6 1935.5 571.3 1936.8 570 C1938.2 568.8 1939.5 567.5 1940.8 566.3 C1942.2 565 1943.5 563.8 1944.8 562.5 C1946.2 561.3 1947.5 560.1 1948.8 558.9 C1950.2 557.6 1951.5 556.4 1952.8 555.2 C1954.2 554 1955.5 552.9 1956.8 551.7 C1958.2 550.5 1959.5 549.3 1960.8 548.2 C1962.2 547 1963.5 545.9 1964.8 544.8 C1966.2 543.6 1967.5 542.5 1968.8 541.4 C1970.2 540.3 1971.5 539.2 1972.8 538.1 C1974.2 537 1975.5 535.9 1976.8 534.8 C1978.2 533.8 1979.5 532.7 1980.8 531.7 C1982.2 530.6 1983.5 529.6 1984.8 528.5 C1986.2 527.5 1987.5 526.5 1988.8 525.5 C1990.2 524.5 1991.5 523.5 1992.8 522.5 C1994.2 521.5 1995.5 520.6 1996.8 519.6 C1998.2 518.6 1999.5 517.7 2000.8 516.7 C2002.2 515.8 2003.5 514.9 2004.8 514 C2006.2 513 2007.5 512.1 2008.8 511.3 C2010.2 510.4 2011.5 509.5 2012.8 508.6 C2014.2 507.7 2015.5 506.9 2016.8 506 C2018.2 505.2 2019.5 504.4 2020.8 503.5 C2022.2 502.7 2023.5 501.9 2024.8 501.1 C2026.2 500.3 2027.5 499.5 2028.8 498.8 C2030.2 498 2031.5 497.2 2032.8 496.5 C2034.2 495.7 2035.5 495 2036.8 494.3 C2038.2 493.5 2039.5 492.8 2040.8 492.1 C2042.2 491.4 2043.5 490.8 2044.8 490.1 C2046.2 489.4 2047.5 488.8 2048.8 488.1 C2050.2 487.5 2051.5 486.8 2052.8 486.2 C2054.2 485.6 2055.5 485 2056.8 484.4 C2058.2 483.8 2057.8 484.1 2060.8 482.6 C2063.9 481.2 2071.3 477.2 2074.9 475.9 C2078.4 474.5 2079.4 475 2082.1 474.6 C2084.7 474.2 2089 473.9 2090.8 473.7 C2092.6 473.6 2092.4 473.7 2092.8 473.7" stroke="#ff0000" stroke-width="7.0"/>
</g>
<line x1="1925.2" y1="396.5" x2="1925.2" y2="916.5" stroke="#1a1a1a" stroke-width="1.5" stroke-dasharray="5.5 3.2"/>
<rect x="1766.3" y="396.5" width="324.5" height="503" fill="none" stroke="#4d4d4d" stroke-width="1.5"/>
<path d="M1766.3 899h-5M1766.3 893.8h-5M1766.3 889.1h-10M1766.3 858.5h-5M1766.3 840.6h-5M1766.3 827.9h-5M1766.3 818h-5M1766.3 810h-5M1766.3 803.2h-5M1766.3 797.3h-5M1766.3 792.1h-5M1766.3 787.4h-10M1766.3 756.8h-5M1766.3 738.9h-5M1766.3 726.2h-5M1766.3 716.3h-5M1766.3 708.3h-5M1766.3 701.5h-5M1766.3 695.6h-5M1766.3 690.4h-5M1766.3 685.7h-10M1766.3 655.1h-5M1766.3 637.2h-5M1766.3 624.5h-5M1766.3 614.6h-5M1766.3 606.6h-5M1766.3 599.8h-5M1766.3 593.9h-5M1766.3 588.7h-5M1766.3 584h-10M1766.3 553.4h-5M1766.3 535.5h-5M1766.3 522.8h-5M1766.3 512.9h-5M1766.3 504.9h-5M1766.3 498.1h-5M1766.3 492.2h-5M1766.3 487h-5M1766.3 482.3h-10M1766.3 451.7h-5M1766.3 433.8h-5M1766.3 421.1h-5M1766.3 411.2h-5M1766.3 403.2h-5M1766.3 396.4h-5M1766.3 899.5v10M1847.4 899.5v10M1928.6 899.5v10M2009.7 899.5v10M2090.8 899.5v10" stroke="#4d4d4d" stroke-width="1.5" fill="none"/>
<text x="1683.2" y="491.5" font-size="27.6" text-anchor="start">10<tspan font-size="19.3" dy="-13.8">–8</tspan></text>
<text x="1683.2" y="593.2" font-size="27.6" text-anchor="start">10<tspan font-size="19.3" dy="-13.8">–9</tspan></text>
<text x="1683.2" y="694.9" font-size="27.6" text-anchor="start">10<tspan font-size="19.3" dy="-13.8">–10</tspan></text>
<text x="1683.2" y="796.6" font-size="27.6" text-anchor="start">10<tspan font-size="19.3" dy="-13.8">–11</tspan></text>
<text x="1683.2" y="898.3" font-size="27.6" text-anchor="start">10<tspan font-size="19.3" dy="-13.8">–12</tspan></text>
<text x="1766.3" y="942.5" font-size="27.6" text-anchor="middle" fill="#000" >–40</text>
<text x="1847.4" y="942.5" font-size="27.6" text-anchor="middle" fill="#000" >–20</text>
<text x="1928.6" y="942.5" font-size="27.6" text-anchor="middle" fill="#000" >0</text>
<text x="2009.7" y="942.5" font-size="27.6" text-anchor="middle" fill="#000" >20</text>
<text x="2090.8" y="942.5" font-size="27.6" text-anchor="middle" fill="#000" >40</text>
<text x="1929.6" y="980" font-size="26.5" text-anchor="middle"><tspan font-style="italic">V</tspan><tspan font-size="18" dy="7">g</tspan><tspan dy="-7"> (V)</tspan></text>
<text transform="translate(1663 648) rotate(-90)" font-size="26.7" text-anchor="middle"><tspan font-style="italic">I</tspan> (A)</text>
</g>
<line x1="222" y1="882" x2="149.8" y2="882" stroke="#ff0000" stroke-width="3.8" stroke-dasharray="9.3 3.4"/><path d="M138.5 882 L153.5 874.8 L149.3 882 L153.5 889.2Z" fill="#ff0000"/>
<line x1="669" y1="878.3" x2="921.2" y2="878.3" stroke="#0000ff" stroke-width="3.8" stroke-dasharray="9.3 3.4"/><path d="M932.5 878.3 L917.5 871.1 L921.7 878.3 L917.5 885.5Z" fill="#0000ff"/>
<line x1="1407.5" y1="883.7" x2="1562.8" y2="883.7" stroke="#0000ff" stroke-width="3.8" stroke-dasharray="9.3 3.4"/><path d="M1574 883.7 L1559 876.5 L1563.2 883.7 L1559 890.9Z" fill="#0000ff"/>
<line x1="2051.5" y1="819.1" x2="1822.8" y2="819.1" stroke="#ff0000" stroke-width="3.8" stroke-dasharray="9.3 3.4"/><path d="M1811.5 819.1 L1826.5 811.9 L1822.3 819.1 L1826.5 826.3Z" fill="#ff0000"/>
<text x="316" y="880.5" font-size="27"><tspan font-style="italic">V</tspan><tspan font-size="18.5" dy="7">b</tspan><tspan dy="-7"> = 0.01 V</tspan></text>
<g clip-path="url(#insc0)"><g filter="url(#insblur)"><rect x="131.9" y="398.5" width="138" height="131.2" fill="#34273f"/><rect x="143.7" y="402.3" width="12.9" height="6.3" fill="#14235a"/><rect x="143.7" y="412.9" width="12.9" height="5.5" fill="#14235a"/><rect x="143.7" y="422.3" width="12.9" height="18.8" fill="#14235a"/><rect x="143.7" y="446.1" width="12.9" height="5.1" fill="#14235a"/><rect x="143.7" y="456.3" width="12.9" height="18.4" fill="#14235a"/><rect x="143.7" y="479" width="12.9" height="5.1" fill="#14235a"/><rect x="143.7" y="488.8" width="12.9" height="18.8" fill="#14235a"/><rect x="143.7" y="511.9" width="12.9" height="5.9" fill="#14235a"/><rect x="143.7" y="521.7" width="12.9" height="5.9" fill="#14235a"/><path d="M139.8 399.5V528.7M160.5 399.5V443M160.5 485.7V528.7M143.7 410.1H160.9M143.7 443H160.9M143.7 485.7H160.9M143.7 519H160.9M139.8 419.9H156.2M139.8 453.2H156.2M139.8 476.3H156.2M139.8 509.2H156.2" stroke="#a9682f" stroke-width="1.5" fill="none"/><rect x="168.8" y="402.3" width="12.9" height="6.3" fill="#14235a"/><rect x="168.8" y="412.9" width="12.9" height="5.5" fill="#14235a"/><rect x="168.8" y="422.3" width="12.9" height="18.8" fill="#14235a"/><rect x="168.8" y="446.1" width="12.9" height="5.1" fill="#14235a"/><rect x="168.8" y="456.3" width="12.9" height="18.4" fill="#14235a"/><rect x="168.8" y="479" width="12.9" height="5.1" fill="#14235a"/><rect x="168.8" y="488.8" width="12.9" height="18.8" fill="#14235a"/><rect x="168.8" y="511.9" width="12.9" height="5.9" fill="#14235a"/><rect x="168.8" y="521.7" width="12.9" height="5.9" fill="#14235a"/><path d="M164.9 399.5V528.7M185.7 399.5V443M185.7 485.7V528.7M168.8 410.1H186M168.8 443H186M168.8 485.7H186M168.8 519H186M164.9 419.9H181.3M164.9 453.2H181.3M164.9 476.3H181.3M164.9 509.2H181.3" stroke="#a9682f" stroke-width="1.5" fill="none"/><rect x="194" y="402.3" width="12.9" height="6.3" fill="#14235a"/><rect x="194" y="412.9" width="12.9" height="5.5" fill="#14235a"/><rect x="194" y="422.3" width="12.9" height="18.8" fill="#14235a"/><rect x="194" y="446.1" width="12.9" height="5.1" fill="#14235a"/><rect x="194" y="456.3" width="12.9" height="18.4" fill="#14235a"/><rect x="194" y="479" width="12.9" height="5.1" fill="#14235a"/><rect x="194" y="488.8" width="12.9" height="18.8" fill="#14235a"/><rect x="194" y="511.9" width="12.9" height="5.9" fill="#14235a"/><rect x="194" y="521.7" width="12.9" height="5.9" fill="#14235a"/><path d="M190 399.5V528.7M210.8 399.5V443M210.8 485.7V528.7M194 410.1H211.2M194 443H211.2M194 485.7H211.2M194 519H211.2M190 419.9H206.5M190 453.2H206.5M190 476.3H206.5M190 509.2H206.5" stroke="#a9682f" stroke-width="1.5" fill="none"/><rect x="219.1" y="402.3" width="12.9" height="6.3" fill="#14235a"/><rect x="219.1" y="412.9" width="12.9" height="5.5" fill="#14235a"/><rect x="219.1" y="422.3" width="12.9" height="18.8" fill="#14235a"/><rect x="219.1" y="446.1" width="12.9" height="5.1" fill="#14235a"/><rect x="219.1" y="456.3" width="12.9" height="18.4" fill="#14235a"/><rect x="219.1" y="479" width="12.9" height="5.1" fill="#14235a"/><rect x="219.1" y="488.8" width="12.9" height="18.8" fill="#14235a"/><rect x="219.1" y="511.9" width="12.9" height="5.9" fill="#14235a"/><rect x="219.1" y="521.7" width="12.9" height="5.9" fill="#14235a"/><path d="M215.2 399.5V528.7M235.9 399.5V443M235.9 485.7V528.7M219.1 410.1H236.3M219.1 443H236.3M219.1 485.7H236.3M219.1 519H236.3M215.2 419.9H231.6M215.2 453.2H231.6M215.2 476.3H231.6M215.2 509.2H231.6" stroke="#a9682f" stroke-width="1.5" fill="none"/><rect x="244.2" y="402.3" width="12.9" height="6.3" fill="#14235a"/><rect x="244.2" y="412.9" width="12.9" height="5.5" fill="#14235a"/><rect x="244.2" y="422.3" width="12.9" height="18.8" fill="#14235a"/><rect x="244.2" y="446.1" width="12.9" height="5.1" fill="#14235a"/><rect x="244.2" y="456.3" width="12.9" height="18.4" fill="#14235a"/><rect x="244.2" y="479" width="12.9" height="5.1" fill="#14235a"/><rect x="244.2" y="488.8" width="12.9" height="18.8" fill="#14235a"/><rect x="244.2" y="511.9" width="12.9" height="5.9" fill="#14235a"/><rect x="244.2" y="521.7" width="12.9" height="5.9" fill="#14235a"/><path d="M240.3 399.5V528.7M261.1 399.5V443M261.1 485.7V528.7M244.2 410.1H261.5M244.2 443H261.5M244.2 485.7H261.5M244.2 519H261.5M240.3 419.9H256.8M240.3 453.2H256.8M240.3 476.3H256.8M240.3 509.2H256.8" stroke="#a9682f" stroke-width="1.5" fill="none"/></g></g>
<g clip-path="url(#insc1)"><g filter="url(#insblur)"><rect x="671" y="398.5" width="139" height="131.2" fill="#a65710"/><rect x="696.1" y="444.6" width="6.3" height="33.7" fill="#7e3e12"/><rect x="682.8" y="402.3" width="13.3" height="6.3" fill="#332d22"/><rect x="682.8" y="412.9" width="13.3" height="5.5" fill="#332d22"/><rect x="682.8" y="422.3" width="13.3" height="18.8" fill="#332d22"/><rect x="682.8" y="446.1" width="13.3" height="5.1" fill="#332d22"/><rect x="682.8" y="456.3" width="13.3" height="18.4" fill="#332d22"/><rect x="682.8" y="479" width="13.3" height="5.1" fill="#332d22"/><rect x="682.8" y="488.8" width="13.3" height="18.8" fill="#332d22"/><rect x="682.8" y="511.9" width="13.3" height="5.9" fill="#332d22"/><rect x="682.8" y="521.7" width="13.3" height="5.9" fill="#332d22"/><path d="M678.9 399.5V528.7M699.6 399.5V443M699.6 485.7V528.7M682.8 410.1H700M682.8 443H700M682.8 485.7H700M682.8 519H700M678.9 419.9H695.3M678.9 453.2H695.3M678.9 476.3H695.3M678.9 509.2H695.3" stroke="#d58020" stroke-width="2.3" fill="none"/><rect x="721.8" y="444.6" width="6.3" height="33.7" fill="#7e3e12"/><rect x="708.5" y="402.3" width="13.3" height="6.3" fill="#332d22"/><rect x="708.5" y="412.9" width="13.3" height="5.5" fill="#332d22"/><rect x="708.5" y="422.3" width="13.3" height="18.8" fill="#332d22"/><rect x="708.5" y="446.1" width="13.3" height="5.1" fill="#332d22"/><rect x="708.5" y="456.3" width="13.3" height="18.4" fill="#332d22"/><rect x="708.5" y="479" width="13.3" height="5.1" fill="#332d22"/><rect x="708.5" y="488.8" width="13.3" height="18.8" fill="#332d22"/><rect x="708.5" y="511.9" width="13.3" height="5.9" fill="#332d22"/><rect x="708.5" y="521.7" width="13.3" height="5.9" fill="#332d22"/><path d="M704.5 399.5V528.7M725.3 399.5V443M725.3 485.7V528.7M708.5 410.1H725.7M708.5 443H725.7M708.5 485.7H725.7M708.5 519H725.7M704.5 419.9H721M704.5 453.2H721M704.5 476.3H721M704.5 509.2H721" stroke="#d58020" stroke-width="2.3" fill="none"/><rect x="747.2" y="444.6" width="6.3" height="33.7" fill="#7e3e12"/><rect x="733.8" y="402.3" width="13.3" height="6.3" fill="#332d22"/><rect x="733.8" y="412.9" width="13.3" height="5.5" fill="#332d22"/><rect x="733.8" y="422.3" width="13.3" height="18.8" fill="#332d22"/><rect x="733.8" y="446.1" width="13.3" height="5.1" fill="#332d22"/><rect x="733.8" y="456.3" width="13.3" height="18.4" fill="#332d22"/><rect x="733.8" y="479" width="13.3" height="5.1" fill="#332d22"/><rect x="733.8" y="488.8" width="13.3" height="18.8" fill="#332d22"/><rect x="733.8" y="511.9" width="13.3" height="5.9" fill="#332d22"/><rect x="733.8" y="521.7" width="13.3" height="5.9" fill="#332d22"/><path d="M729.9 399.5V528.7M750.7 399.5V443M750.7 485.7V528.7M733.8 410.1H751.1M733.8 443H751.1M733.8 485.7H751.1M733.8 519H751.1M729.9 419.9H746.4M729.9 453.2H746.4M729.9 476.3H746.4M729.9 509.2H746.4" stroke="#d58020" stroke-width="2.3" fill="none"/><rect x="772.8" y="444.6" width="6.3" height="33.7" fill="#7e3e12"/><rect x="759.5" y="402.3" width="13.3" height="6.3" fill="#332d22"/><rect x="759.5" y="412.9" width="13.3" height="5.5" fill="#332d22"/><rect x="759.5" y="422.3" width="13.3" height="18.8" fill="#332d22"/><rect x="759.5" y="446.1" width="13.3" height="5.1" fill="#332d22"/><rect x="759.5" y="456.3" width="13.3" height="18.4" fill="#332d22"/><rect x="759.5" y="479" width="13.3" height="5.1" fill="#332d22"/><rect x="759.5" y="488.8" width="13.3" height="18.8" fill="#332d22"/><rect x="759.5" y="511.9" width="13.3" height="5.9" fill="#332d22"/><rect x="759.5" y="521.7" width="13.3" height="5.9" fill="#332d22"/><path d="M755.6 399.5V528.7M776.4 399.5V443M776.4 485.7V528.7M759.5 410.1H776.8M759.5 443H776.8M759.5 485.7H776.8M759.5 519H776.8M755.6 419.9H772.1M755.6 453.2H772.1M755.6 476.3H772.1M755.6 509.2H772.1" stroke="#d58020" stroke-width="2.3" fill="none"/><rect x="798.7" y="444.6" width="6.3" height="33.7" fill="#7e3e12"/><rect x="785.4" y="402.3" width="13.3" height="6.3" fill="#332d22"/><rect x="785.4" y="412.9" width="13.3" height="5.5" fill="#332d22"/><rect x="785.4" y="422.3" width="13.3" height="18.8" fill="#332d22"/><rect x="785.4" y="446.1" width="13.3" height="5.1" fill="#332d22"/><rect x="785.4" y="456.3" width="13.3" height="18.4" fill="#332d22"/><rect x="785.4" y="479" width="13.3" height="5.1" fill="#332d22"/><rect x="785.4" y="488.8" width="13.3" height="18.8" fill="#332d22"/><rect x="785.4" y="511.9" width="13.3" height="5.9" fill="#332d22"/><rect x="785.4" y="521.7" width="13.3" height="5.9" fill="#332d22"/><path d="M781.5 399.5V528.7M802.2 399.5V443M802.2 485.7V528.7M785.4 410.1H802.6M785.4 443H802.6M785.4 485.7H802.6M785.4 519H802.6M781.5 419.9H797.9M781.5 453.2H797.9M781.5 476.3H797.9M781.5 509.2H797.9" stroke="#d58020" stroke-width="2.3" fill="none"/><circle cx="740.5" cy="448.1" r="4.4" fill="#1fe21f"/></g></g>
<g id="plot-e">
<rect x="119" y="1157" width="317" height="498.3" fill="url(#bgGrad)"/>
<rect x="142.2" y="1157" width="4.8" height="498.3" fill="#fff" opacity="0.93"/>
<rect x="191.6" y="1157" width="4.8" height="498.3" fill="#fff" opacity="0.93"/>
<rect x="387.6" y="1157" width="4.8" height="498.3" fill="#fff" opacity="0.93"/>
<line x1="144.6" y1="1157" x2="144.6" y2="1655.3" stroke="#7a2aa8" stroke-width="1.25" stroke-dasharray="4.3 2"/>
<line x1="194" y1="1157" x2="194" y2="1655.3" stroke="#0a6e0a" stroke-width="1.25" stroke-dasharray="4.3 2"/>
<line x1="390" y1="1157" x2="390" y2="1655.3" stroke="#0a6e0a" stroke-width="1.25" stroke-dasharray="4.3 2"/>
<rect x="124.2" y="1164.9" width="104.5" height="38.9" fill="#fff"/>
<text x="134.6" y="1193.1" font-size="26.7" text-anchor="start" fill="#001a66" >FET-A</text>
<path d="M131.6 1505.2h21.2 M142.2 1494.6v21.2 M131.8 1494.8l20.8 20.8 M131.8 1515.6l20.8 -20.8" stroke="#808080" stroke-width="3.6" fill="none"/>
<path d="M156 1498.3h21.2 M166.6 1487.7v21.2 M156.2 1487.9l20.8 20.8 M156.2 1508.7l20.8 -20.8" stroke="#808080" stroke-width="3.6" fill="none"/>
<path d="M180.5 1494.3h21.2 M191.1 1483.7v21.2 M180.7 1483.9l20.8 20.8 M180.7 1504.7l20.8 -20.8" stroke="#808080" stroke-width="3.6" fill="none"/>
<path d="M204.9 1494h21.2 M215.5 1483.4v21.2 M205.1 1483.6l20.8 20.8 M205.1 1504.4l20.8 -20.8" stroke="#808080" stroke-width="3.6" fill="none"/>
<path d="M229.3 1483.9h21.2 M239.9 1473.3v21.2 M229.5 1473.5l20.8 20.8 M229.5 1494.3l20.8 -20.8" stroke="#808080" stroke-width="3.6" fill="none"/>
<path d="M253.8 1478.2h21.2 M264.4 1467.6v21.2 M254 1467.8l20.8 20.8 M254 1488.6l20.8 -20.8" stroke="#808080" stroke-width="3.6" fill="none"/>
<path d="M278.2 1473.6h21.2 M288.8 1463v21.2 M278.4 1463.2l20.8 20.8 M278.4 1484l20.8 -20.8" stroke="#808080" stroke-width="3.6" fill="none"/>
<path d="M302.6 1463.2h21.2 M313.2 1452.6v21.2 M302.8 1452.8l20.8 20.8 M302.8 1473.6l20.8 -20.8" stroke="#808080" stroke-width="3.6" fill="none"/>
<path d="M327 1451.1h21.2 M337.6 1440.5v21.2 M327.3 1440.7l20.8 20.8 M327.3 1461.5l20.8 -20.8" stroke="#808080" stroke-width="3.6" fill="none"/>
<path d="M351.5 1435.5h21.2 M362.1 1424.9v21.2 M351.7 1425.1l20.8 20.8 M351.7 1445.9l20.8 -20.8" stroke="#808080" stroke-width="3.6" fill="none"/>
<path d="M375.9 1419.5h21.2 M386.5 1408.9v21.2 M376.1 1409.1l20.8 20.8 M376.1 1429.9l20.8 -20.8" stroke="#808080" stroke-width="3.6" fill="none"/>
<path d="M400.3 1407h21.2 M410.9 1396.4v21.2 M400.5 1396.6l20.8 20.8 M400.5 1417.4l20.8 -20.8" stroke="#808080" stroke-width="3.6" fill="none"/>
<circle cx="142.2" cy="1477.5" r="10.0" fill="#000"/>
<circle cx="166.6" cy="1555.6" r="10.0" fill="#000"/>
<circle cx="191.1" cy="1602.3" r="10.0" fill="#000"/>
<circle cx="215.5" cy="1509.5" r="10.0" fill="#000"/>
<circle cx="239.9" cy="1454.2" r="10.0" fill="#000"/>
<circle cx="264.4" cy="1418.6" r="10.0" fill="#000"/>
<circle cx="288.8" cy="1391.1" r="10.0" fill="#000"/>
<circle cx="313.2" cy="1350.3" r="10.0" fill="#000"/>
<circle cx="337.6" cy="1312" r="10.0" fill="#000"/>
<circle cx="362.1" cy="1277.2" r="10.0" fill="#000"/>
<circle cx="386.5" cy="1247.5" r="10.0" fill="#000"/>
<circle cx="410.9" cy="1434.2" r="10.0" fill="#000"/>
<path d="M119 1157H436V1655.3H119Z" fill="none" stroke="#333" stroke-width="1.4"/>
<path d="M119 1206.6h-10M119 1305.6h-10M119 1404.6h-10M119 1503.6h-10M119 1602.6h-10M142.2 1655.3v9.5M264.4 1655.3v9.5M386.5 1655.3v9.5M436 1652.9h10M436 1631.6h5M436 1619.1h5M436 1610.2h5M436 1603.3h5M436 1597.7h5M436 1593h5M436 1588.9h5M436 1585.2h5M436 1582h10M436 1560.7h5M436 1548.2h5M436 1539.3h5M436 1532.4h5M436 1526.8h5M436 1522.1h5M436 1518h5M436 1514.3h5M436 1511.1h10M436 1489.8h5M436 1477.3h5M436 1468.4h5M436 1461.5h5M436 1455.9h5M436 1451.2h5M436 1447.1h5M436 1443.4h5M436 1440.2h10M436 1418.9h5M436 1406.4h5M436 1397.5h5M436 1390.6h5M436 1385h5M436 1380.3h5M436 1376.2h5M436 1372.5h5M436 1369.3h10M436 1348h5M436 1335.5h5M436 1326.6h5M436 1319.7h5M436 1314.1h5M436 1309.4h5M436 1305.3h5M436 1301.6h5M436 1298.4h10M436 1277.1h5M436 1264.6h5M436 1255.7h5M436 1248.8h5M436 1243.2h5M436 1238.5h5M436 1234.4h5M436 1230.7h5M436 1227.5h10M436 1206.2h5M436 1193.7h5M436 1184.8h5M436 1177.9h5M436 1172.3h5M436 1167.6h5M436 1163.5h5M436 1159.8h5M436 1156.6h10" stroke="#333" stroke-width="1.4" fill="none"/>
<text x="95.8" y="1214.9" font-size="26.5" text-anchor="end" fill="#000" >40</text>
<text x="95.8" y="1313.9" font-size="26.5" text-anchor="end" fill="#000" >20</text>
<text x="95.8" y="1412.9" font-size="26.5" text-anchor="end" fill="#000" >0</text>
<text x="95.8" y="1511.9" font-size="26.5" text-anchor="end" fill="#000" >–20</text>
<text x="95.8" y="1610.9" font-size="26.5" text-anchor="end" fill="#000" >–40</text>
<text x="142.2" y="1696.5" font-size="26.5" text-anchor="middle" fill="#000" >0</text>
<text x="264.4" y="1696.5" font-size="26.5" text-anchor="middle" fill="#000" >50</text>
<text x="386.5" y="1696.5" font-size="26.5" text-anchor="middle" fill="#000" >100</text>
<text x="457.6" y="1236.1" font-size="26.5" text-anchor="start">10<tspan font-size="18.5" dy="-13.2">–8</tspan></text>
<text x="457.6" y="1377.9" font-size="26.5" text-anchor="start">10<tspan font-size="18.5" dy="-13.2">–10</tspan></text>
<text x="457.6" y="1519.7" font-size="26.5" text-anchor="start">10<tspan font-size="18.5" dy="-13.2">–12</tspan></text>
<text x="457.6" y="1661.5" font-size="26.5" text-anchor="start">10<tspan font-size="18.5" dy="-13.2">–14</tspan></text>
<text x="277.3" y="1736.6" font-size="26.7" text-anchor="middle" fill="#000" >Illumination time (s)</text>
</g>
<g id="plot-f">
<rect x="622.5" y="1156.3" width="318.3" height="497.5" fill="url(#bgGrad)"/>
<rect x="643.9" y="1156.3" width="4.8" height="497.5" fill="#fff" opacity="0.93"/>
<rect x="742.8" y="1156.3" width="4.8" height="497.5" fill="#fff" opacity="0.93"/>
<rect x="890.2" y="1156.3" width="4.8" height="497.5" fill="#fff" opacity="0.93"/>
<line x1="646.3" y1="1156.3" x2="646.3" y2="1653.8" stroke="#0a6e0a" stroke-width="1.25" stroke-dasharray="4.3 2"/>
<line x1="745.2" y1="1156.3" x2="745.2" y2="1653.8" stroke="#0a6e0a" stroke-width="1.25" stroke-dasharray="4.3 2"/>
<line x1="892.6" y1="1156.3" x2="892.6" y2="1653.8" stroke="#0a6e0a" stroke-width="1.25" stroke-dasharray="4.3 2"/>
<rect x="625.4" y="1163.2" width="104.2" height="39" fill="#fff"/>
<text x="639.4" y="1190.8" font-size="26.7" text-anchor="start" fill="#001a66" >FET-B</text>
<path d="M637.8 1493.2h21.2 M648.4 1482.6v21.2 M638 1482.8l20.8 20.8 M638 1503.6l20.8 -20.8" stroke="#808080" stroke-width="3.6" fill="none"/>
<path d="M662.2 1482.7h21.2 M672.8 1472.1v21.2 M662.4 1472.4l20.8 20.8 M662.4 1493.1l20.8 -20.8" stroke="#808080" stroke-width="3.6" fill="none"/>
<path d="M686.7 1471.4h21.2 M697.3 1460.8v21.2 M686.9 1461.1l20.8 20.8 M686.9 1481.8l20.8 -20.8" stroke="#808080" stroke-width="3.6" fill="none"/>
<path d="M711.1 1456.8h21.2 M721.7 1446.2v21.2 M711.3 1446.4l20.8 20.8 M711.3 1467.2l20.8 -20.8" stroke="#808080" stroke-width="3.6" fill="none"/>
<path d="M735.5 1438.8h21.2 M746.1 1428.2v21.2 M735.7 1428.4l20.8 20.8 M735.7 1449.2l20.8 -20.8" stroke="#808080" stroke-width="3.6" fill="none"/>
<path d="M759.9 1428.3h21.2 M770.5 1417.7v21.2 M760.2 1417.9l20.8 20.8 M760.2 1438.7l20.8 -20.8" stroke="#808080" stroke-width="3.6" fill="none"/>
<path d="M784.4 1438.8h21.2 M795 1428.2v21.2 M784.6 1428.4l20.8 20.8 M784.6 1449.2l20.8 -20.8" stroke="#808080" stroke-width="3.6" fill="none"/>
<path d="M808.8 1443h21.2 M819.4 1432.4v21.2 M809 1432.6l20.8 20.8 M809 1453.4l20.8 -20.8" stroke="#808080" stroke-width="3.6" fill="none"/>
<path d="M833.2 1434.6h21.2 M843.8 1424v21.2 M833.5 1424.2l20.8 20.8 M833.5 1445l20.8 -20.8" stroke="#808080" stroke-width="3.6" fill="none"/>
<path d="M857.7 1422h21.2 M868.3 1411.4v21.2 M857.9 1411.6l20.8 20.8 M857.9 1432.4l20.8 -20.8" stroke="#808080" stroke-width="3.6" fill="none"/>
<path d="M882.1 1396.9h21.2 M892.7 1386.3v21.2 M882.3 1386.5l20.8 20.8 M882.3 1407.3l20.8 -20.8" stroke="#808080" stroke-width="3.6" fill="none"/>
<path d="M906.5 1355h21.2 M917.1 1344.4v21.2 M906.7 1344.6l20.8 20.8 M906.7 1365.4l20.8 -20.8" stroke="#808080" stroke-width="3.6" fill="none"/>
<circle cx="648.4" cy="1418.7" r="10.0" fill="#000"/>
<circle cx="672.8" cy="1364.7" r="10.0" fill="#000"/>
<circle cx="697.3" cy="1314" r="10.0" fill="#000"/>
<circle cx="721.7" cy="1269.6" r="10.0" fill="#000"/>
<circle cx="746.1" cy="1234" r="10.0" fill="#000"/>
<circle cx="770.5" cy="1326.1" r="10.0" fill="#000"/>
<circle cx="795" cy="1354.2" r="10.0" fill="#000"/>
<circle cx="819.4" cy="1392.3" r="10.0" fill="#000"/>
<circle cx="843.8" cy="1442.1" r="10.0" fill="#000"/>
<circle cx="868.3" cy="1491.1" r="10.0" fill="#000"/>
<circle cx="892.7" cy="1600.8" r="10.0" fill="#000"/>
<circle cx="917.1" cy="1295.1" r="10.0" fill="#000"/>
<path d="M622.5 1156.3H940.8V1653.8H622.5Z" fill="none" stroke="#333" stroke-width="1.4"/>
<path d="M622.5 1206.6h-10M622.5 1305.6h-10M622.5 1404.6h-10M622.5 1503.6h-10M622.5 1602.6h-10M648.4 1653.8v9.5M770.5 1653.8v9.5M892.7 1653.8v9.5M940.8 1652.6h10M940.8 1631.3h5M940.8 1618.8h5M940.8 1609.9h5M940.8 1603h5M940.8 1597.4h5M940.8 1592.7h5M940.8 1588.6h5M940.8 1584.9h5M940.8 1581.7h10M940.8 1560.4h5M940.8 1547.9h5M940.8 1539h5M940.8 1532.1h5M940.8 1526.5h5M940.8 1521.8h5M940.8 1517.7h5M940.8 1514h5M940.8 1510.8h10M940.8 1489.5h5M940.8 1477h5M940.8 1468.1h5M940.8 1461.2h5M940.8 1455.6h5M940.8 1450.9h5M940.8 1446.8h5M940.8 1443.1h5M940.8 1439.9h10M940.8 1418.6h5M940.8 1406.1h5M940.8 1397.2h5M940.8 1390.3h5M940.8 1384.7h5M940.8 1380h5M940.8 1375.9h5M940.8 1372.2h5M940.8 1369h10M940.8 1347.7h5M940.8 1335.2h5M940.8 1326.3h5M940.8 1319.4h5M940.8 1313.8h5M940.8 1309.1h5M940.8 1305h5M940.8 1301.3h5M940.8 1298.1h10M940.8 1276.8h5M940.8 1264.3h5M940.8 1255.4h5M940.8 1248.5h5M940.8 1242.9h5M940.8 1238.2h5M940.8 1234.1h5M940.8 1230.4h5M940.8 1227.2h10M940.8 1205.9h5M940.8 1193.4h5M940.8 1184.5h5M940.8 1177.6h5M940.8 1172h5M940.8 1167.3h5M940.8 1163.2h5M940.8 1159.5h5M940.8 1156.3h10" stroke="#333" stroke-width="1.4" fill="none"/>
<text x="599.3" y="1214.9" font-size="26.5" text-anchor="end" fill="#000" >40</text>
<text x="599.3" y="1313.9" font-size="26.5" text-anchor="end" fill="#000" >20</text>
<text x="599.3" y="1412.9" font-size="26.5" text-anchor="end" fill="#000" >0</text>
<text x="599.3" y="1511.9" font-size="26.5" text-anchor="end" fill="#000" >–20</text>
<text x="599.3" y="1610.9" font-size="26.5" text-anchor="end" fill="#000" >–40</text>
<text x="648.4" y="1695" font-size="26.5" text-anchor="middle" fill="#000" >0</text>
<text x="770.5" y="1695" font-size="26.5" text-anchor="middle" fill="#000" >50</text>
<text x="892.7" y="1695" font-size="26.5" text-anchor="middle" fill="#000" >100</text>
<text x="962.5" y="1235.8" font-size="26.5" text-anchor="start">10<tspan font-size="18.5" dy="-13.2">–8</tspan></text>
<text x="962.5" y="1377.6" font-size="26.5" text-anchor="start">10<tspan font-size="18.5" dy="-13.2">–10</tspan></text>
<text x="962.5" y="1519.4" font-size="26.5" text-anchor="start">10<tspan font-size="18.5" dy="-13.2">–12</tspan></text>
<text x="962.5" y="1661.2" font-size="26.5" text-anchor="start">10<tspan font-size="18.5" dy="-13.2">–14</tspan></text>
<text x="781.4" y="1735.1" font-size="26.7" text-anchor="middle" fill="#000" >Illumination time (s)</text>
</g>
<g id="plot-g">
<rect x="1109.1" y="1156" width="408.2" height="495.2" fill="url(#bgGrad)"/>
<rect x="1145.1" y="1156" width="5.6" height="495.2" fill="#fff" opacity="0.93"/>
<rect x="1158.2" y="1156" width="5.6" height="495.2" fill="#fff" opacity="0.93"/>
<line x1="1147.9" y1="1152.5" x2="1147.9" y2="1651.2" stroke="#0a6e0a" stroke-width="2.0" stroke-dasharray="4.3 2"/>
<line x1="1161" y1="1152.5" x2="1161" y2="1651.2" stroke="#7a2aa8" stroke-width="2.0" stroke-dasharray="4.3 2"/>
<path d="M1138.6 1540.1L1149.1 1330.4M1150.6 1330.4L1160.5 1466M1162.3 1466L1172.1 1330.4M1173.9 1330.4L1183.9 1478.4M1185.5 1478.4L1195.6 1318.1M1197.3 1318.1L1207.3 1466M1208.9 1466L1218.9 1318.1M1220.7 1318.1L1230.6 1453.7M1232.4 1453.7L1242.2 1330.4M1244.1 1330.4L1253.9 1466M1255.8 1466L1265.5 1342.8M1267.4 1342.8L1277.4 1490.7M1279 1490.7L1289.1 1330.4M1290.8 1330.4L1300.7 1466M1302.4 1466L1312.4 1318.1M1313.9 1318.1L1324.2 1503.1M1325.7 1503.1L1335.8 1342.8M1337.5 1342.8L1347.5 1490.7M1349.1 1490.7L1359.1 1342.8M1360.8 1342.8L1370.8 1490.7M1372.5 1490.7L1382.5 1342.8M1384.4 1342.8L1394 1453.7M1396.2 1453.7L1405.5 1355.1M1407.9 1355.1L1417.2 1453.7M1419.6 1453.7L1428.9 1355.1M1431.4 1355.1L1440.5 1441.4M1443.4 1441.4L1451.8 1379.7M1455.1 1379.7L1463.4 1441.4M1466.8 1441.4L1475.1 1379.7M1478.8 1379.7L1486.5 1429.1" fill="none" stroke="#333" stroke-width="0.9"/>
<rect x="1116.2" y="1163.3" width="104.5" height="38.6" fill="#fff"/>
<text x="1129.9" y="1190.7" font-size="26.7" text-anchor="start" fill="#001a66" >FET-C</text>
<path d="M1129.5 1519.6h17 M1138 1511.1v17 M1129.7 1511.3l16.7 16.7 M1129.7 1527.9l16.7 -16.7" stroke="#808080" stroke-width="2.2" fill="none"/>
<path d="M1141.2 1514.2h17 M1149.7 1505.7v17 M1141.4 1505.8l16.7 16.7 M1141.4 1522.5l16.7 -16.7" stroke="#808080" stroke-width="2.2" fill="none"/>
<path d="M1152.9 1514.2h17 M1161.4 1505.7v17 M1153 1505.8l16.7 16.7 M1153 1522.5l16.7 -16.7" stroke="#808080" stroke-width="2.2" fill="none"/>
<path d="M1164.5 1508.7h17 M1173 1500.2v17 M1164.7 1500.4l16.7 16.7 M1164.7 1517l16.7 -16.7" stroke="#808080" stroke-width="2.2" fill="none"/>
<path d="M1176.2 1505.8h17 M1184.7 1497.3v17 M1176.4 1497.5l16.7 16.7 M1176.4 1514.1l16.7 -16.7" stroke="#808080" stroke-width="2.2" fill="none"/>
<path d="M1187.9 1501.6h17 M1196.4 1493.1v17 M1188.1 1493.3l16.7 16.7 M1188.1 1509.9l16.7 -16.7" stroke="#808080" stroke-width="2.2" fill="none"/>
<path d="M1199.6 1500.3h17 M1208.1 1491.8v17 M1199.8 1492l16.7 16.7 M1199.8 1508.7l16.7 -16.7" stroke="#808080" stroke-width="2.2" fill="none"/>
<path d="M1211.3 1498.7h17 M1219.8 1490.2v17 M1211.5 1490.3l16.7 16.7 M1211.5 1507l16.7 -16.7" stroke="#808080" stroke-width="2.2" fill="none"/>
<path d="M1223 1496.2h17 M1231.5 1487.7v17 M1223.1 1487.8l16.7 16.7 M1223.1 1504.5l16.7 -16.7" stroke="#808080" stroke-width="2.2" fill="none"/>
<path d="M1234.6 1480.7h17 M1243.1 1472.2v17 M1234.8 1472.3l16.7 16.7 M1234.8 1489l16.7 -16.7" stroke="#808080" stroke-width="2.2" fill="none"/>
<path d="M1246.3 1474.4h17 M1254.8 1465.9v17 M1246.5 1466l16.7 16.7 M1246.5 1482.7l16.7 -16.7" stroke="#808080" stroke-width="2.2" fill="none"/>
<path d="M1258 1467.3h17 M1266.5 1458.8v17 M1258.2 1458.9l16.7 16.7 M1258.2 1475.6l16.7 -16.7" stroke="#808080" stroke-width="2.2" fill="none"/>
<path d="M1269.7 1463.9h17 M1278.2 1455.4v17 M1269.9 1455.6l16.7 16.7 M1269.9 1472.2l16.7 -16.7" stroke="#808080" stroke-width="2.2" fill="none"/>
<path d="M1281.4 1458.9h17 M1289.9 1450.4v17 M1281.5 1450.5l16.7 16.7 M1281.5 1467.2l16.7 -16.7" stroke="#808080" stroke-width="2.2" fill="none"/>
<path d="M1293.1 1458.9h17 M1301.6 1450.4v17 M1293.2 1450.5l16.7 16.7 M1293.2 1467.2l16.7 -16.7" stroke="#808080" stroke-width="2.2" fill="none"/>
<path d="M1304.7 1447.2h17 M1313.2 1438.7v17 M1304.9 1438.8l16.7 16.7 M1304.9 1455.5l16.7 -16.7" stroke="#808080" stroke-width="2.2" fill="none"/>
<path d="M1316.4 1444.2h17 M1324.9 1435.7v17 M1316.6 1435.9l16.7 16.7 M1316.6 1452.6l16.7 -16.7" stroke="#808080" stroke-width="2.2" fill="none"/>
<path d="M1328.1 1431.2h17 M1336.6 1422.7v17 M1328.3 1422.9l16.7 16.7 M1328.3 1439.6l16.7 -16.7" stroke="#808080" stroke-width="2.2" fill="none"/>
<path d="M1339.8 1417.8h17 M1348.3 1409.3v17 M1340 1409.5l16.7 16.7 M1340 1426.2l16.7 -16.7" stroke="#808080" stroke-width="2.2" fill="none"/>
<path d="M1351.5 1405.3h17 M1360 1396.8v17 M1351.6 1396.9l16.7 16.7 M1351.6 1413.6l16.7 -16.7" stroke="#808080" stroke-width="2.2" fill="none"/>
<path d="M1363.2 1401.9h17 M1371.7 1393.4v17 M1363.3 1393.6l16.7 16.7 M1363.3 1410.3l16.7 -16.7" stroke="#808080" stroke-width="2.2" fill="none"/>
<path d="M1374.8 1368.4h17 M1383.3 1359.9v17 M1375 1360.1l16.7 16.7 M1375 1376.8l16.7 -16.7" stroke="#808080" stroke-width="2.2" fill="none"/>
<path d="M1386.5 1365.5h17 M1395 1357v17 M1386.7 1357.2l16.7 16.7 M1386.7 1373.8l16.7 -16.7" stroke="#808080" stroke-width="2.2" fill="none"/>
<path d="M1398.2 1352.9h17 M1406.7 1344.4v17 M1398.4 1344.6l16.7 16.7 M1398.4 1361.3l16.7 -16.7" stroke="#808080" stroke-width="2.2" fill="none"/>
<path d="M1409.9 1346.6h17 M1418.4 1338.1v17 M1410.1 1338.3l16.7 16.7 M1410.1 1355l16.7 -16.7" stroke="#808080" stroke-width="2.2" fill="none"/>
<path d="M1421.6 1343.3h17 M1430.1 1334.8v17 M1421.7 1335l16.7 16.7 M1421.7 1351.6l16.7 -16.7" stroke="#808080" stroke-width="2.2" fill="none"/>
<path d="M1433.3 1343.3h17 M1441.8 1334.8v17 M1433.4 1335l16.7 16.7 M1433.4 1351.6l16.7 -16.7" stroke="#808080" stroke-width="2.2" fill="none"/>
<path d="M1444.9 1339.1h17 M1453.4 1330.6v17 M1445.1 1330.8l16.7 16.7 M1445.1 1347.4l16.7 -16.7" stroke="#808080" stroke-width="2.2" fill="none"/>
<path d="M1456.6 1339.1h17 M1465.1 1330.6v17 M1456.8 1330.8l16.7 16.7 M1456.8 1347.4l16.7 -16.7" stroke="#808080" stroke-width="2.2" fill="none"/>
<path d="M1468.3 1324.9h17 M1476.8 1316.4v17 M1468.5 1316.5l16.7 16.7 M1468.5 1333.2l16.7 -16.7" stroke="#808080" stroke-width="2.2" fill="none"/>
<path d="M1480 1323.6h17 M1488.5 1315.1v17 M1480.2 1315.3l16.7 16.7 M1480.2 1331.9l16.7 -16.7" stroke="#808080" stroke-width="2.2" fill="none"/>
<circle cx="1138" cy="1552.6" r="8.0" fill="#000"/>
<circle cx="1149.7" cy="1318" r="8.0" fill="#000"/>
<circle cx="1161.4" cy="1478.5" r="8.0" fill="#000"/>
<circle cx="1173" cy="1318" r="8.0" fill="#000"/>
<circle cx="1184.7" cy="1490.9" r="8.0" fill="#000"/>
<circle cx="1196.4" cy="1305.6" r="8.0" fill="#000"/>
<circle cx="1208.1" cy="1478.5" r="8.0" fill="#000"/>
<circle cx="1219.8" cy="1305.6" r="8.0" fill="#000"/>
<circle cx="1231.5" cy="1466.2" r="8.0" fill="#000"/>
<circle cx="1243.1" cy="1318" r="8.0" fill="#000"/>
<circle cx="1254.8" cy="1478.5" r="8.0" fill="#000"/>
<circle cx="1266.5" cy="1330.3" r="8.0" fill="#000"/>
<circle cx="1278.2" cy="1503.2" r="8.0" fill="#000"/>
<circle cx="1289.9" cy="1318" r="8.0" fill="#000"/>
<circle cx="1301.6" cy="1478.5" r="8.0" fill="#000"/>
<circle cx="1313.2" cy="1305.6" r="8.0" fill="#000"/>
<circle cx="1324.9" cy="1515.6" r="8.0" fill="#000"/>
<circle cx="1336.6" cy="1330.3" r="8.0" fill="#000"/>
<circle cx="1348.3" cy="1503.2" r="8.0" fill="#000"/>
<circle cx="1360" cy="1330.3" r="8.0" fill="#000"/>
<circle cx="1371.7" cy="1503.2" r="8.0" fill="#000"/>
<circle cx="1383.3" cy="1330.3" r="8.0" fill="#000"/>
<circle cx="1395" cy="1466.2" r="8.0" fill="#000"/>
<circle cx="1406.7" cy="1342.7" r="8.0" fill="#000"/>
<circle cx="1418.4" cy="1466.2" r="8.0" fill="#000"/>
<circle cx="1430.1" cy="1342.7" r="8.0" fill="#000"/>
<circle cx="1441.8" cy="1453.8" r="8.0" fill="#000"/>
<circle cx="1453.4" cy="1367.4" r="8.0" fill="#000"/>
<circle cx="1465.1" cy="1453.8" r="8.0" fill="#000"/>
<circle cx="1476.8" cy="1367.4" r="8.0" fill="#000"/>
<circle cx="1488.5" cy="1441.5" r="8.0" fill="#000"/>
<path d="M1109.1 1156H1517.3V1651.2H1109.1Z" fill="none" stroke="#333" stroke-width="1.4"/>
<path d="M1109.1 1182.1h-10M1109.1 1256.2h-10M1109.1 1330.3h-10M1109.1 1404.4h-10M1109.1 1478.5h-10M1109.1 1552.6h-10M1109.1 1626.7h-10M1138 1651.2v9.5M1254.8 1651.2v9.5M1371.7 1651.2v9.5M1488.5 1651.2v9.5M1517.3 1633.9h-5M1517.3 1622.9h-5M1517.3 1615.2h-5M1517.3 1609.1h-5M1517.3 1604.2h-5M1517.3 1600h-5M1517.3 1596.4h-5M1517.3 1593.2h-5M1517.3 1590.4h-10M1517.3 1571.7h-5M1517.3 1560.7h-5M1517.3 1553h-5M1517.3 1546.9h-5M1517.3 1542h-5M1517.3 1537.8h-5M1517.3 1534.2h-5M1517.3 1531h-5M1517.3 1528.2h-10M1517.3 1509.5h-5M1517.3 1498.5h-5M1517.3 1490.8h-5M1517.3 1484.7h-5M1517.3 1479.8h-5M1517.3 1475.6h-5M1517.3 1472h-5M1517.3 1468.8h-5M1517.3 1466h-10M1517.3 1447.3h-5M1517.3 1436.3h-5M1517.3 1428.6h-5M1517.3 1422.5h-5M1517.3 1417.6h-5M1517.3 1413.4h-5M1517.3 1409.8h-5M1517.3 1406.6h-5M1517.3 1403.8h-10M1517.3 1385.1h-5M1517.3 1374.1h-5M1517.3 1366.4h-5M1517.3 1360.3h-5M1517.3 1355.4h-5M1517.3 1351.2h-5M1517.3 1347.6h-5M1517.3 1344.4h-5M1517.3 1341.6h-10M1517.3 1322.9h-5M1517.3 1311.9h-5M1517.3 1304.2h-5M1517.3 1298.1h-5M1517.3 1293.2h-5M1517.3 1289h-5M1517.3 1285.4h-5M1517.3 1282.2h-5M1517.3 1279.4h-10M1517.3 1260.7h-5M1517.3 1249.7h-5M1517.3 1242h-5M1517.3 1235.9h-5M1517.3 1231h-5M1517.3 1226.8h-5M1517.3 1223.2h-5M1517.3 1220h-5M1517.3 1217.2h-10M1517.3 1198.5h-5M1517.3 1187.5h-5M1517.3 1179.8h-5M1517.3 1173.7h-5M1517.3 1168.8h-5M1517.3 1164.6h-5M1517.3 1161h-5M1517.3 1157.8h-5" stroke="#333" stroke-width="1.4" fill="none"/>
<text x="1085.9" y="1190.4" font-size="26.5" text-anchor="end" fill="#000" >9</text>
<text x="1085.9" y="1264.5" font-size="26.5" text-anchor="end" fill="#000" >6</text>
<text x="1085.9" y="1338.6" font-size="26.5" text-anchor="end" fill="#000" >3</text>
<text x="1085.9" y="1412.7" font-size="26.5" text-anchor="end" fill="#000" >0</text>
<text x="1085.9" y="1486.8" font-size="26.5" text-anchor="end" fill="#000" >–3</text>
<text x="1085.9" y="1560.9" font-size="26.5" text-anchor="end" fill="#000" >–6</text>
<text x="1085.9" y="1635" font-size="26.5" text-anchor="end" fill="#000" >–9</text>
<text x="1138" y="1692.4" font-size="26.5" text-anchor="middle" fill="#000" >0</text>
<text x="1254.8" y="1692.4" font-size="26.5" text-anchor="middle" fill="#000" >100</text>
<text x="1371.7" y="1692.4" font-size="26.5" text-anchor="middle" fill="#000" >200</text>
<text x="1488.5" y="1692.4" font-size="26.5" text-anchor="middle" fill="#000" >300</text>
<text x="1529.5" y="1288" font-size="26.5" text-anchor="start">10<tspan font-size="18.5" dy="-13.2">–8</tspan></text>
<text x="1529.5" y="1412.4" font-size="26.5" text-anchor="start">10<tspan font-size="18.5" dy="-13.2">–10</tspan></text>
<text x="1529.5" y="1536.8" font-size="26.5" text-anchor="start">10<tspan font-size="18.5" dy="-13.2">–12</tspan></text>
<text x="1529.5" y="1661.2" font-size="26.5" text-anchor="start">10<tspan font-size="18.5" dy="-13.2">–14</tspan></text>
<text x="1313" y="1732.7" font-size="26.7" text-anchor="middle" fill="#000" >Illumination time (s)</text>
</g>
<text transform="translate(41.5 1404.5) rotate(-90)" font-size="26.7" text-anchor="middle"><tspan font-style="italic">V</tspan><tspan font-size="18.5" dy="7">g,off</tspan><tspan dy="-7"> (V)</tspan></text>
<text transform="translate(1612.5 1405) rotate(90)" font-size="26.7" text-anchor="middle"><tspan font-style="italic">I</tspan><tspan font-size="18.5" dy="7">off</tspan><tspan dy="-7"> (A)</tspan></text>
<text x="227.9" y="1303.7" font-size="26.7" text-anchor="start" fill="#001a66" >p-type</text>
<text x="313.4" y="1521.6" font-size="26.7" text-anchor="start" fill="#ff0000" >n-type</text>
<rect x="135.1" y="1110.5" width="19.5" height="46.5" fill="url(#beamUV)"/><path d="M134.6 1091.5V1111Q145.1 1114 155.6 1111V1091.5Q145.1 1087.5 134.6 1091.5Z" fill="url(#miniBody)"/><path d="M135.2 1093.5V1110.5 M155 1093.5V1110.5" stroke="#555" stroke-width="1.3" fill="none"/><ellipse cx="145.1" cy="1091.5" rx="10" ry="3.2" fill="#f2f2f2" stroke="#777" stroke-width="0.8" stroke-dasharray="3 2"/>
<rect x="184.5" y="1109.5" width="19.5" height="47.5" fill="url(#beamVis)"/><path d="M184 1090.5V1110Q194.5 1113 205 1110V1090.5Q194.5 1086.5 184 1090.5Z" fill="url(#miniBody)"/><path d="M184.6 1092.5V1109.5 M204.4 1092.5V1109.5" stroke="#555" stroke-width="1.3" fill="none"/><ellipse cx="194.5" cy="1090.5" rx="10" ry="3.2" fill="#f2f2f2" stroke="#777" stroke-width="0.8" stroke-dasharray="3 2"/>
<rect x="377.4" y="1110.5" width="19.5" height="46.5" fill="url(#beamUV)"/><path d="M376.9 1091.5V1111Q387.4 1114 397.9 1111V1091.5Q387.4 1087.5 376.9 1091.5Z" fill="url(#miniBody)"/><path d="M377.5 1093.5V1110.5 M397.3 1093.5V1110.5" stroke="#555" stroke-width="1.3" fill="none"/><ellipse cx="387.4" cy="1091.5" rx="10" ry="3.2" fill="#f2f2f2" stroke="#777" stroke-width="0.8" stroke-dasharray="3 2"/>
<rect x="636.1" y="1108" width="19.5" height="48" fill="url(#beamVis)"/><path d="M635.6 1089V1108.5Q646.1 1111.5 656.6 1108.5V1089Q646.1 1085 635.6 1089Z" fill="url(#miniBody)"/><path d="M636.2 1091V1108 M656 1091V1108" stroke="#555" stroke-width="1.3" fill="none"/><ellipse cx="646.1" cy="1089" rx="10" ry="3.2" fill="#f2f2f2" stroke="#777" stroke-width="0.8" stroke-dasharray="3 2"/>
<rect x="733.4" y="1109" width="19.5" height="47" fill="url(#beamUV)"/><path d="M732.9 1090V1109.5Q743.4 1112.5 753.9 1109.5V1090Q743.4 1086 732.9 1090Z" fill="url(#miniBody)"/><path d="M733.5 1092V1109 M753.3 1092V1109" stroke="#555" stroke-width="1.3" fill="none"/><ellipse cx="743.4" cy="1090" rx="10" ry="3.2" fill="#f2f2f2" stroke="#777" stroke-width="0.8" stroke-dasharray="3 2"/>
<rect x="884.3" y="1108" width="19.5" height="48" fill="url(#beamVis)"/><path d="M883.8 1089V1108.5Q894.3 1111.5 904.8 1108.5V1089Q894.3 1085 883.8 1089Z" fill="url(#miniBody)"/><path d="M884.4 1091V1108 M904.2 1091V1108" stroke="#555" stroke-width="1.3" fill="none"/><ellipse cx="894.3" cy="1089" rx="10" ry="3.2" fill="#f2f2f2" stroke="#777" stroke-width="0.8" stroke-dasharray="3 2"/>
<rect x="1139" y="1101.4" width="15" height="48.6" fill="url(#beamVis)"/><path d="M1138.5 1082.4V1101.9Q1146.8 1104.9 1155 1101.9V1082.4Q1146.8 1078.4 1138.5 1082.4Z" fill="url(#miniBody)"/><path d="M1139.1 1084.4V1101.4 M1154.5 1084.4V1101.4" stroke="#555" stroke-width="1.3" fill="none"/><ellipse cx="1146.8" cy="1082.4" rx="7.8" ry="3.2" fill="#f2f2f2" stroke="#777" stroke-width="0.8" stroke-dasharray="3 2"/>
<rect x="1155.3" y="1101.4" width="15" height="48.6" fill="url(#beamUV)"/><path d="M1154.8 1082.4V1101.9Q1163.1 1104.9 1171.3 1101.9V1082.4Q1163.1 1078.4 1154.8 1082.4Z" fill="url(#miniBody)"/><path d="M1155.4 1084.4V1101.4 M1170.8 1084.4V1101.4" stroke="#555" stroke-width="1.3" fill="none"/><ellipse cx="1163.1" cy="1082.4" rx="7.8" ry="3.2" fill="#f2f2f2" stroke="#777" stroke-width="0.8" stroke-dasharray="3 2"/>
<path d="M145.3 1129H174.7L169.2 1120.1L190.7 1132.1L169.2 1144.1L174.7 1135.2H145.3Z" fill="#6600cc"/>
<path d="M195.9 1129H225.7L220.2 1120.1L241.7 1132.1L220.2 1144.1L225.7 1135.2H195.9Z" fill="#006600"/>
<path d="M388.1 1129H417.9L412.4 1120.1L433.9 1132.1L412.4 1144.1L417.9 1135.2H388.1Z" fill="#6600cc"/>
<path d="M642.3 1127.4H673L667.5 1118.5L689 1130.5L667.5 1142.5L673 1133.6H642.3Z" fill="#006600"/>
<path d="M740.8 1127.4H771.2L765.7 1118.5L787.2 1130.5L765.7 1142.5L771.2 1133.6H740.8Z" fill="#6600cc"/>
<path d="M892 1127.4H921.3L915.8 1118.5L937.3 1130.5L915.8 1142.5L921.3 1133.6H892Z" fill="#006600"/>
<text x="117.3" y="1064" font-size="26.7" text-anchor="start" fill="#6600cc" >UV</text>
<text x="173.5" y="1064" font-size="26.7" text-anchor="start" fill="#0a6e0a" >Visible</text>
<text x="1233" y="1120.8" font-size="27.1" text-anchor="start" fill="#000" >UV (0.8 mW), visible (10 mW)</text>
<circle cx="1185.6" cy="1111.4" r="3.3" fill="#000"/><circle cx="1185.6" cy="1226.1" r="3.1" fill="#000"/>
<circle cx="1202.7" cy="1111.4" r="3.3" fill="#000"/><circle cx="1202.7" cy="1226.1" r="3.1" fill="#000"/>
<circle cx="1219.8" cy="1111.4" r="3.3" fill="#000"/><circle cx="1219.8" cy="1226.1" r="3.1" fill="#000"/>
<g id="plot-h">
<rect x="1807.2" y="1156.2" width="12.6" height="495.5" fill="url(#hG)"/>
<rect x="1846.2" y="1156.2" width="13.3" height="495.5" fill="url(#hG)"/>
<rect x="1888" y="1156.2" width="12.7" height="495.5" fill="url(#hG)"/>
<rect x="1981.9" y="1156.2" width="13" height="495.5" fill="url(#hP)"/>
<rect x="2021.1" y="1156.2" width="12.6" height="495.5" fill="url(#hP)"/>
<rect x="2063.8" y="1156.2" width="13" height="495.5" fill="url(#hP)"/>
<rect x="1781.6" y="1170" width="317.2" height="64" fill="#fff"/>
<g clip-path="url(#cliph)" fill="none" stroke-width="2.1" stroke-linejoin="round">
<path d="M1780.6 1431.6 C1781.2 1432.3 1783.2 1434.4 1784.6 1435.8 C1785.9 1437.3 1787.2 1438.7 1788.6 1440.2 C1789.9 1441.7 1791.2 1443.1 1792.6 1444.7 C1793.9 1446.2 1795.2 1447.7 1796.6 1449.3 C1797.9 1450.8 1799.2 1452.4 1800.6 1454 C1801.9 1455.6 1803.2 1457.2 1804.6 1458.8 C1805.9 1460.4 1807.2 1462.1 1808.6 1463.7 C1809.9 1465.4 1811.2 1467.1 1812.6 1468.8 C1813.9 1470.4 1815.2 1472.1 1816.6 1473.9 C1817.9 1475.6 1819.2 1477.3 1820.6 1479 C1821.9 1480.8 1823.2 1482.5 1824.6 1484.2 C1825.9 1486 1827.2 1487.8 1828.6 1489.5 C1829.9 1491.3 1831.2 1493.1 1832.6 1494.8 C1833.9 1496.6 1835.2 1498.4 1836.6 1500.2 C1837.9 1502 1839.2 1503.8 1840.6 1505.5 C1841.9 1507.3 1843.2 1509.1 1844.6 1510.9 C1845.9 1512.7 1847.2 1514.5 1848.6 1516.3 C1849.9 1518.1 1851.2 1519.9 1852.6 1521.7 C1853.9 1523.5 1855.2 1525.2 1856.6 1527 C1857.9 1528.8 1859.2 1530.6 1860.6 1532.3 C1861.9 1534.1 1863.2 1535.9 1864.6 1537.6 C1865.9 1539.4 1867.2 1541.1 1868.6 1542.9 C1869.9 1544.6 1871.2 1546.3 1872.6 1548.1 C1873.9 1549.8 1875.2 1551.5 1876.6 1553.2 C1877.9 1554.9 1879.2 1556.6 1880.6 1558.2 C1881.9 1559.9 1883.2 1561.5 1884.6 1563.2 C1885.9 1564.8 1887.2 1566.4 1888.6 1568 C1889.9 1569.6 1891.2 1571.2 1892.6 1572.8 C1893.9 1574.4 1895.2 1575.9 1896.6 1577.4 C1897.9 1579 1899.2 1580.5 1900.6 1582 C1901.9 1583.4 1903.2 1584.9 1904.6 1586.3 C1905.9 1587.7 1907.2 1589.1 1908.6 1590.4 C1909.9 1591.7 1911.2 1593 1912.6 1594.1 C1913.9 1595.3 1915.2 1596.4 1916.6 1597.4 C1917.9 1598.3 1919.2 1599.2 1920.6 1600 C1921.9 1600.7 1923.2 1601.4 1924.6 1601.8 C1925.9 1602.3 1927.2 1602.7 1928.6 1602.9 C1929.9 1603.1 1931.2 1603.1 1932.6 1602.9 C1933.9 1602.8 1935.2 1602.5 1936.6 1602 C1937.9 1601.5 1939.2 1600.8 1940.6 1599.9 C1941.9 1599.1 1943.2 1598.1 1944.6 1596.9 C1945.9 1595.8 1947.2 1594.4 1948.6 1593 C1949.9 1591.5 1951.2 1589.9 1952.6 1588.2 C1953.9 1586.5 1955.2 1584.6 1956.6 1582.6 C1957.9 1580.6 1959.2 1578.5 1960.6 1576.3 C1961.9 1574.1 1963.2 1571.7 1964.6 1569.3 C1965.9 1566.8 1967.2 1564.3 1968.6 1561.7 C1969.9 1559 1971.2 1556.3 1972.6 1553.6 C1973.9 1550.8 1975.2 1548 1976.6 1545.1 C1977.9 1542.3 1979.2 1539.3 1980.6 1536.4 C1981.9 1533.5 1983.2 1530.5 1984.6 1527.5 C1985.9 1524.6 1987.2 1521.6 1988.6 1518.6 C1989.9 1515.7 1991.2 1512.7 1992.6 1509.8 C1993.9 1506.9 1995.2 1504 1996.6 1501.1 C1997.9 1498.3 1999.2 1495.5 2000.6 1492.7 C2001.9 1490 2003.2 1487.3 2004.6 1484.6 C2005.9 1482 2007.2 1479.4 2008.6 1476.8 C2009.9 1474.3 2011.2 1471.8 2012.6 1469.3 C2013.9 1466.9 2015.2 1464.5 2016.6 1462.1 C2017.9 1459.7 2019.2 1457.4 2020.6 1455.1 C2021.9 1452.8 2023.2 1450.6 2024.6 1448.4 C2025.9 1446.2 2027.2 1444.1 2028.6 1442 C2029.9 1439.9 2031.2 1437.8 2032.6 1435.8 C2033.9 1433.8 2035.2 1431.8 2036.6 1429.8 C2037.9 1427.9 2039.2 1426 2040.6 1424.1 C2041.9 1422.3 2043.2 1420.4 2044.6 1418.7 C2045.9 1416.9 2047.2 1415.1 2048.6 1413.4 C2049.9 1411.6 2051.2 1410 2052.6 1408.3 C2053.9 1406.6 2055.2 1405 2056.6 1403.4 C2057.9 1401.8 2059.2 1400.2 2060.6 1398.6 C2061.9 1397.1 2063.2 1395.5 2064.6 1394 C2065.9 1392.5 2067.2 1391 2068.6 1389.6 C2069.9 1388.1 2071.2 1386.7 2072.6 1385.2 C2073.9 1383.8 2075.2 1382.4 2076.6 1381 C2077.9 1379.6 2079.2 1378.3 2080.6 1376.9 C2081.9 1375.5 2083.2 1374.2 2084.6 1372.8 C2085.9 1371.5 2087.2 1370.2 2088.6 1368.9 C2089.9 1367.5 2091.2 1366.2 2092.6 1364.9 C2093.9 1363.6 2095.4 1362.2 2096.6 1361.1 C2097.8 1360 2099.2 1358.8 2099.8 1358.4" stroke="#66ffff"/>
<path d="M1780.6 1547.2 C1781.2 1547.9 1783.2 1549.9 1784.6 1551.1 C1785.9 1552.4 1787.2 1553.7 1788.6 1554.9 C1789.9 1556.1 1791.2 1557.3 1792.6 1558.5 C1793.9 1559.6 1795.2 1560.7 1796.6 1561.8 C1797.9 1562.9 1799.2 1564 1800.6 1565 C1801.9 1566.1 1803.2 1567.1 1804.6 1568.1 C1805.9 1569.1 1807.2 1570.1 1808.6 1571 C1809.9 1572 1811.2 1572.9 1812.6 1573.8 C1813.9 1574.7 1815.2 1575.6 1816.6 1576.5 C1817.9 1577.4 1819.2 1578.3 1820.6 1579.1 C1821.9 1580 1823.2 1580.8 1824.6 1581.7 C1825.9 1582.5 1827.2 1583.3 1828.6 1584.1 C1829.9 1584.9 1831.2 1585.7 1832.6 1586.5 C1833.9 1587.3 1835.2 1588.1 1836.6 1588.9 C1837.9 1589.7 1839.2 1590.5 1840.6 1591.3 C1841.9 1592.1 1843.2 1592.9 1844.6 1593.7 C1845.9 1594.4 1847.2 1595.2 1848.6 1596 C1849.9 1596.8 1851.2 1597.6 1852.6 1598.4 C1853.9 1599.2 1855.2 1600 1856.6 1600.9 C1857.9 1601.7 1859.2 1602.5 1860.6 1603.3 C1861.9 1604.2 1863.2 1605 1864.6 1605.8 C1865.9 1606.6 1867.2 1607.4 1868.6 1608.2 C1869.9 1609 1871.2 1609.7 1872.6 1610.3 C1873.9 1611 1875.2 1611.6 1876.6 1612.1 C1877.9 1612.6 1879.2 1613.1 1880.6 1613.4 C1881.9 1613.8 1883.2 1614 1884.6 1614.2 C1885.9 1614.3 1887.2 1614.3 1888.6 1614.2 C1889.9 1614.1 1891.2 1613.8 1892.6 1613.4 C1893.9 1612.9 1895.2 1612.4 1896.6 1611.6 C1897.9 1610.8 1899.2 1609.9 1900.6 1608.8 C1901.9 1607.7 1903.2 1606.4 1904.6 1605 C1905.9 1603.5 1907.2 1601.9 1908.6 1600.2 C1909.9 1598.4 1911.2 1596.5 1912.6 1594.5 C1913.9 1592.4 1915.2 1590.2 1916.6 1587.9 C1917.9 1585.5 1919.2 1583.1 1920.6 1580.5 C1921.9 1577.9 1923.2 1575.1 1924.6 1572.3 C1925.9 1569.4 1927.2 1566.5 1928.6 1563.4 C1929.9 1560.4 1931.2 1557.2 1932.6 1554 C1933.9 1550.7 1935.2 1547.4 1936.6 1544 C1937.9 1540.7 1939.2 1537.2 1940.6 1533.7 C1941.9 1530.3 1943.2 1526.7 1944.6 1523.2 C1945.9 1519.7 1947.2 1516.1 1948.6 1512.6 C1949.9 1509.1 1951.2 1505.5 1952.6 1502 C1953.9 1498.5 1955.2 1495 1956.6 1491.5 C1957.9 1488.1 1959.2 1484.6 1960.6 1481.3 C1961.9 1477.9 1963.2 1474.6 1964.6 1471.4 C1965.9 1468.2 1967.2 1465.1 1968.6 1462 C1969.9 1459 1971.2 1456.1 1972.6 1453.3 C1973.9 1450.5 1975.2 1447.8 1976.6 1445.2 C1977.9 1442.7 1979.2 1440.3 1980.6 1438 C1981.9 1435.7 1983.2 1433.5 1984.6 1431.4 C1985.9 1429.2 1987.2 1427.2 1988.6 1425.2 C1989.9 1423.2 1991.2 1421.3 1992.6 1419.4 C1993.9 1417.5 1995.2 1415.6 1996.6 1413.7 C1997.9 1411.8 1999.2 1409.9 2000.6 1408 C2001.9 1406.1 2003.2 1404.2 2004.6 1402.3 C2005.9 1400.4 2007.2 1398.5 2008.6 1396.6 C2009.9 1394.8 2011.2 1393 2012.6 1391.2 C2013.9 1389.4 2015.2 1387.7 2016.6 1386 C2017.9 1384.3 2019.2 1382.6 2020.6 1381 C2021.9 1379.4 2023.2 1377.8 2024.6 1376.3 C2025.9 1374.7 2027.2 1373.2 2028.6 1371.8 C2029.9 1370.3 2031.2 1368.9 2032.6 1367.5 C2033.9 1366.2 2035.2 1364.8 2036.6 1363.5 C2037.9 1362.2 2039.2 1360.9 2040.6 1359.7 C2041.9 1358.5 2043.2 1357.3 2044.6 1356.1 C2045.9 1354.9 2047.2 1353.8 2048.6 1352.7 C2049.9 1351.6 2051.2 1350.5 2052.6 1349.5 C2053.9 1348.4 2055.2 1347.4 2056.6 1346.4 C2057.9 1345.5 2059.2 1344.5 2060.6 1343.6 C2061.9 1342.6 2063.2 1341.8 2064.6 1340.9 C2065.9 1340 2067.2 1339.2 2068.6 1338.3 C2069.9 1337.5 2071.2 1336.7 2072.6 1335.9 C2073.9 1335.2 2075.2 1334.4 2076.6 1333.7 C2077.9 1332.9 2079.2 1332.2 2080.6 1331.5 C2081.9 1330.8 2083.2 1330.2 2084.6 1329.5 C2085.9 1328.9 2087.2 1328.2 2088.6 1327.6 C2089.9 1327 2091.2 1326.4 2092.6 1325.8 C2093.9 1325.2 2095.4 1324.6 2096.6 1324.1 C2097.8 1323.6 2099.2 1323.1 2099.8 1322.9" stroke="#ff8000"/>
<path d="M1780.6 1574.7 C1781.2 1575.2 1783.2 1576.7 1784.6 1577.6 C1785.9 1578.6 1787.2 1579.5 1788.6 1580.3 C1789.9 1581.2 1791.2 1582 1792.6 1582.8 C1793.9 1583.6 1795.2 1584.4 1796.6 1585.1 C1797.9 1585.8 1799.2 1586.5 1800.6 1587.2 C1801.9 1587.9 1803.2 1588.6 1804.6 1589.3 C1805.9 1589.9 1807.2 1590.6 1808.6 1591.2 C1809.9 1591.9 1811.2 1592.5 1812.6 1593.2 C1813.9 1593.8 1815.2 1594.4 1816.6 1595.1 C1817.9 1595.7 1819.2 1596.3 1820.6 1597 C1821.9 1597.6 1823.2 1598.3 1824.6 1599 C1825.9 1599.6 1827.2 1600.3 1828.6 1601 C1829.9 1601.7 1831.2 1602.4 1832.6 1603.1 C1833.9 1603.7 1835.2 1604.4 1836.6 1605 C1837.9 1605.7 1839.2 1606.3 1840.6 1606.8 C1841.9 1607.4 1843.2 1607.9 1844.6 1608.4 C1845.9 1608.9 1847.2 1609.3 1848.6 1609.6 C1849.9 1610 1851.2 1610.2 1852.6 1610.4 C1853.9 1610.6 1855.2 1610.8 1856.6 1610.8 C1857.9 1610.8 1859.2 1610.7 1860.6 1610.5 C1861.9 1610.3 1863.2 1610.1 1864.6 1609.6 C1865.9 1609.2 1867.2 1608.7 1868.6 1608.1 C1869.9 1607.4 1871.2 1606.6 1872.6 1605.7 C1873.9 1604.8 1875.2 1603.8 1876.6 1602.6 C1877.9 1601.4 1879.2 1600 1880.6 1598.5 C1881.9 1597.1 1883.2 1595.4 1884.6 1593.6 C1885.9 1591.8 1887.2 1589.8 1888.6 1587.7 C1889.9 1585.5 1891.2 1583.2 1892.6 1580.7 C1893.9 1578.2 1895.2 1575.5 1896.6 1572.6 C1897.9 1569.8 1899.2 1566.8 1900.6 1563.7 C1901.9 1560.6 1903.2 1557.3 1904.6 1554.1 C1905.9 1550.8 1907.2 1547.5 1908.6 1544.1 C1909.9 1540.8 1911.2 1537.3 1912.6 1533.9 C1913.9 1530.5 1915.2 1527.1 1916.6 1523.7 C1917.9 1520.3 1919.2 1516.9 1920.6 1513.5 C1921.9 1510.1 1923.2 1506.7 1924.6 1503.3 C1925.9 1499.9 1927.2 1496.6 1928.6 1493.2 C1929.9 1489.9 1931.2 1486.6 1932.6 1483.3 C1933.9 1480.1 1935.2 1476.8 1936.6 1473.6 C1937.9 1470.4 1939.2 1467.2 1940.6 1464 C1941.9 1460.9 1943.2 1457.8 1944.6 1454.7 C1945.9 1451.7 1947.2 1448.6 1948.6 1445.7 C1949.9 1442.7 1951.2 1439.8 1952.6 1436.9 C1953.9 1434 1955.2 1431.2 1956.6 1428.5 C1957.9 1425.7 1959.2 1423 1960.6 1420.4 C1961.9 1417.8 1963.2 1415.2 1964.6 1412.8 C1965.9 1410.3 1967.2 1407.8 1968.6 1405.5 C1969.9 1403.2 1971.2 1400.9 1972.6 1398.7 C1973.9 1396.5 1975.2 1394.4 1976.6 1392.4 C1977.9 1390.4 1979.2 1388.5 1980.6 1386.6 C1981.9 1384.7 1983.2 1382.9 1984.6 1381.1 C1985.9 1379.4 1987.2 1377.7 1988.6 1376.1 C1989.9 1374.4 1991.2 1372.8 1992.6 1371.3 C1993.9 1369.8 1995.2 1368.3 1996.6 1366.9 C1997.9 1365.4 1999.2 1364 2000.6 1362.7 C2001.9 1361.3 2003.2 1360 2004.6 1358.7 C2005.9 1357.4 2007.2 1356.1 2008.6 1354.8 C2009.9 1353.6 2011.2 1352.4 2012.6 1351.1 C2013.9 1349.9 2015.2 1348.7 2016.6 1347.5 C2017.9 1346.3 2019.2 1345.1 2020.6 1343.9 C2021.9 1342.8 2023.2 1341.6 2024.6 1340.4 C2025.9 1339.2 2027.2 1338 2028.6 1336.8 C2029.9 1335.6 2031.2 1334.4 2032.6 1333.2 C2033.9 1332 2035.2 1330.9 2036.6 1329.7 C2037.9 1328.5 2039.2 1327.3 2040.6 1326.2 C2041.9 1325 2043.2 1323.9 2044.6 1322.7 C2045.9 1321.6 2047.2 1320.5 2048.6 1319.4 C2049.9 1318.3 2051.2 1317.2 2052.6 1316.1 C2053.9 1315 2055.2 1314 2056.6 1313 C2057.9 1311.9 2059.2 1310.9 2060.6 1309.9 C2061.9 1309 2063.2 1308 2064.6 1307.1 C2065.9 1306.2 2067.2 1305.3 2068.6 1304.4 C2069.9 1303.5 2071.2 1302.7 2072.6 1301.9 C2073.9 1301.1 2075.2 1300.3 2076.6 1299.6 C2077.9 1298.9 2079.2 1298.2 2080.6 1297.5 C2081.9 1296.9 2083.2 1296.3 2084.6 1295.7 C2085.9 1295.2 2087.2 1294.6 2088.6 1294.2 C2089.9 1293.7 2091.2 1293.3 2092.6 1292.9 C2093.9 1292.5 2095.4 1292.2 2096.6 1291.9 C2097.8 1291.6 2099.2 1291.1 2099.8 1291" stroke="#ff00ff"/>
<path d="M1780.6 1602.2 C1781.2 1602.3 1783.2 1602.6 1784.6 1602.8 C1785.9 1603 1787.2 1603.2 1788.6 1603.4 C1789.9 1603.6 1791.2 1603.8 1792.6 1603.9 C1793.9 1604.1 1795.2 1604.3 1796.6 1604.4 C1797.9 1604.5 1799.2 1604.6 1800.6 1604.6 C1801.9 1604.7 1803.2 1604.7 1804.6 1604.6 C1805.9 1604.5 1807.2 1604.4 1808.6 1604.2 C1809.9 1604 1811.2 1603.7 1812.6 1603.3 C1813.9 1603 1815.2 1602.5 1816.6 1602 C1817.9 1601.4 1819.2 1600.8 1820.6 1600 C1821.9 1599.2 1823.2 1598.3 1824.6 1597.3 C1825.9 1596.3 1827.2 1595.1 1828.6 1593.8 C1829.9 1592.5 1831.2 1591.1 1832.6 1589.5 C1833.9 1587.9 1835.2 1586.2 1836.6 1584.3 C1837.9 1582.4 1839.2 1580.3 1840.6 1578.1 C1841.9 1575.8 1843.2 1573.4 1844.6 1570.8 C1845.9 1568.2 1847.2 1565.3 1848.6 1562.5 C1849.9 1559.6 1851.2 1556.6 1852.6 1553.8 C1853.9 1551 1855.2 1548.1 1856.6 1545.5 C1857.9 1543 1859.2 1540.7 1860.6 1538.5 C1861.9 1536.4 1863.2 1534.6 1864.6 1532.6 C1865.9 1530.7 1867.2 1528.9 1868.6 1526.8 C1869.9 1524.6 1871.2 1522.4 1872.6 1519.8 C1873.9 1517.2 1875.2 1514.4 1876.6 1511.4 C1877.9 1508.3 1879.2 1505.1 1880.6 1501.8 C1881.9 1498.5 1883.2 1495 1884.6 1491.7 C1885.9 1488.3 1887.2 1484.9 1888.6 1481.6 C1889.9 1478.3 1891.2 1475.1 1892.6 1471.9 C1893.9 1468.7 1895.2 1465.6 1896.6 1462.5 C1897.9 1459.4 1899.2 1456.4 1900.6 1453.4 C1901.9 1450.4 1903.5 1447 1904.6 1444.6 C1905.7 1442.1 1906.7 1439.7 1907.1 1438.8" stroke="#ff0000"/>
<path d="M1939.9 1483.8 C1940.6 1484.7 1942.6 1487.2 1943.9 1488.9 C1945.2 1490.6 1946.6 1492.3 1947.9 1493.9 C1949.2 1495.6 1950.6 1497.2 1951.9 1498.8 C1953.2 1500.4 1954.6 1502 1955.9 1503.6 C1957.2 1505.2 1958.6 1506.7 1959.9 1508.3 C1961.2 1509.8 1962.6 1511.3 1963.9 1512.8 C1965.2 1514.4 1966.6 1515.9 1967.9 1517.4 C1969.2 1518.8 1970.6 1520.3 1971.9 1521.8 C1973.2 1523.3 1974.6 1524.7 1975.9 1526.2 C1977.2 1527.6 1978.6 1529 1979.9 1530.5 C1981.2 1531.9 1982.6 1533.3 1983.9 1534.8 C1985.2 1536.2 1986.6 1537.6 1987.9 1539 C1989.2 1540.4 1990.6 1541.8 1991.9 1543.2 C1993.2 1544.6 1994.6 1546 1995.9 1547.4 C1997.2 1548.8 1998.6 1550.1 1999.9 1551.5 C2001.2 1552.8 2002.6 1554.1 2003.9 1555.4 C2005.2 1556.6 2006.6 1557.9 2007.9 1559.1 C2009.2 1560.3 2010.6 1561.5 2011.9 1562.6 C2013.2 1563.7 2014.6 1564.8 2015.9 1565.8 C2017.2 1566.8 2018.6 1567.7 2019.9 1568.5 C2021.2 1569.3 2022.6 1570 2023.9 1570.5 C2025.2 1571 2026.6 1571.4 2027.9 1571.5 C2029.2 1571.6 2030.6 1571.5 2031.9 1571.1 C2033.2 1570.7 2034.6 1570 2035.9 1569.1 C2037.2 1568.1 2038.6 1566.9 2039.9 1565.4 C2041.2 1563.8 2042.6 1562 2043.9 1559.8 C2045.2 1557.6 2046.6 1555 2047.9 1552.1 C2049.2 1549.2 2050.6 1545.9 2051.9 1542.3 C2053.2 1538.7 2054.6 1534.7 2055.9 1530.4 C2057.2 1526.2 2058.6 1521.6 2059.9 1516.9 C2061.2 1512.2 2062.6 1507.2 2063.9 1502.2 C2065.2 1497.1 2066.6 1491.9 2067.9 1486.7 C2069.2 1481.5 2070.6 1476.2 2071.9 1471 C2073.2 1465.8 2074.6 1460.5 2075.9 1455.6 C2077.2 1450.6 2078.6 1445.7 2079.9 1441.2 C2081.2 1436.7 2082.6 1432.4 2083.9 1428.6 C2085.2 1424.8 2086.6 1421.3 2087.9 1418.6 C2089.2 1415.8 2090.6 1413.4 2091.9 1411.9 C2093.2 1410.3 2094.6 1409.3 2095.9 1409.3 C2097.2 1409.3 2099.1 1411.5 2099.8 1412" stroke="#0000ff"/>
<polyline points="2101,1274.2 2099.3,1274.6 2097.8,1275 2096.1,1275.4 2094.2,1275.9 2092.2,1276.4 2090.2,1277 2088.1,1277.5 2086.1,1278.1 2084.2,1278.6 2082.4,1279.2 2080.7,1279.7 2079,1280.3 2077.2,1280.9 2075.5,1281.5 2073.8,1282.1 2072.1,1282.7 2070.4,1283.3 2068.7,1283.9 2067,1284.6 2065.2,1285.2 2063.5,1285.9 2061.8,1286.5 2060.1,1287.1 2058.3,1287.7 2056.6,1288.4 2054.9,1289.1 2053.1,1289.8 2051.4,1290.6 2049.7,1291.4 2047.9,1292.2 2046.2,1293.2 2044.5,1294.2 2042.7,1295.2 2041,1296.2 2039.3,1297.3 2037.6,1298.4 2035.8,1299.5 2034.1,1300.6 2032.4,1301.7 2030.6,1302.7 2028.9,1303.7 2027.2,1304.7 2025.4,1305.7 2023.7,1306.7 2022,1307.7 2020.3,1308.7 2018.5,1309.8 2016.8,1310.9 2015.1,1312 2013.3,1313.2 2011.6,1314.5 2009.9,1315.8 2008.1,1317.1 2007.3,1317.8 2006.4,1318.5 2005.5,1319.2 2004.7,1319.9 2003.8,1320.6 2002.9,1321.3 2002.1,1322 2001.2,1322.8 2000.4,1323.5 1999.5,1324.2 1998.6,1324.9 1997.8,1325.7 1996.9,1326.4 1996,1327.1 1995.2,1327.9 1994.3,1328.6 1993.5,1329.4 1992.6,1330.1 1991.7,1330.9 1990.9,1331.6 1990,1332.4 1989.2,1333.2 1988.3,1333.9 1987.4,1334.7 1986.6,1335.5 1985.7,1336.3 1984.9,1337.1 1984,1337.9 1983.1,1338.7 1982.3,1339.5 1981.4,1340.3 1980.6,1341.1 1979.7,1341.9 1978.8,1342.7 1978,1343.5 1977.1,1344.3 1976.2,1345.2 1975.4,1346 1974.5,1346.8 1973.7,1347.6 1972.8,1348.4 1971.9,1349.3 1971.1,1350.1 1970.2,1350.9 1969.3,1351.8 1968.5,1352.7 1967.6,1353.5 1966.7,1354.4 1965.9,1355.4 1965,1356.3 1964.1,1357.2 1963.3,1358.2 1962.4,1359.2 1961.5,1360.2 1960.6,1361.3 1959.7,1362.4 1958.8,1363.5 1957.9,1364.6 1957,1365.8 1956.1,1366.9 1955.1,1368.1 1954.2,1369.3 1953.3,1370.5 1952.4,1371.7 1951.5,1372.9 1950.6,1374.1 1949.8,1375.3 1948.9,1376.5 1948.1,1377.6 1947.3,1378.7 1946.6,1379.9 1945.8,1380.9 1945.1,1382 1944.4,1383 1943.8,1384 1943.2,1385 1942.6,1386 1942,1387 1940.9,1388.8 1939.9,1390.7 1939,1392.5 1938.1,1394.3 1937.1,1396.1 1936.2,1397.9 1935.2,1399.8 1934.2,1401.6 1933.2,1403.5 1932.1,1405.4 1931.1,1407.3 1930.1,1409.1 1929,1411 1928,1412.9 1927,1414.8 1925.9,1416.7 1925.4,1417.7 1924.9,1418.7 1924.4,1419.7 1923.9,1420.7 1923.4,1421.7 1922.8,1422.7 1922.3,1423.7 1921.8,1424.7 1921.2,1425.8 1920.7,1426.8 1920.2,1427.8 1919.6,1428.8 1919.1,1429.9 1918.6,1430.9 1918,1432 1917.5,1433 1917,1434.1 1916.5,1435.1 1916,1436.2 1915.5,1437.3 1915,1438.3 1914.5,1439.4 1914,1440.5 1913.5,1441.6 1913,1442.7 1912.6,1443.8 1912.1,1445 1911.6,1446.1 1911.2,1447.3 1910.7,1448.4 1910.3,1449.6 1909.8,1450.8 1909.4,1451.9 1908.9,1453.1 1908.5,1454.2 1908.1,1455.4 1907.7,1456.5 1907.2,1457.6 1906.8,1458.7 1906.4,1459.8 1906.1,1460.9 1905.7,1461.9 1904.9,1463.9 1904.2,1465.9 1903.5,1468 1902.8,1470 1902.1,1472 1901.4,1473.9 1900.8,1475.6 1900.3,1477.2 1899.8,1478.6 1899.5,1479.7 1899.3,1480.2" stroke="none" marker-start="url(#oc)" marker-mid="url(#oc)" marker-end="url(#oc)"/>
<polyline points="1883.7,1544.2 1882.7,1545.5 1881.7,1547 1880.4,1548.7 1879.4,1550.1 1878.3,1551.5 1877.3,1553 1876.2,1554.5 1875.1,1556.1 1873.9,1557.8 1872.6,1559.5 1871.4,1561.2 1870,1563 1868.5,1564.9 1867.3,1566.3 1866.1,1567.7 1864.9,1569.1 1863.7,1570.5 1862.6,1571.9 1861.1,1573.6 1859.9,1575 1859.6,1575.3" stroke="none" marker-start="url(#oc)" marker-mid="url(#oc)" marker-end="url(#oc)"/>
<polyline points="1843.1,1494.9 1841.5,1493.9 1840,1492.9 1838.4,1491.8 1836.8,1490.6 1835.2,1489.4 1833.7,1488.1 1832.1,1486.7 1830.9,1485.6 1829.6,1484.5 1828.4,1483.4 1827.2,1482.2 1825.8,1480.9 1824.3,1479.5 1822.9,1478.1 1821.7,1476.8 1820.3,1475.5 1819.8,1475" stroke="none" marker-start="url(#oc)" marker-mid="url(#oc)" marker-end="url(#oc)"/>
<polyline points="1779,1358.5 1780.8,1359 1782.3,1359.3 1784,1359.8 1785.9,1360.3 1787.9,1360.9 1790,1361.5 1791.5,1362 1793,1362.5 1794.7,1363.1 1796.5,1363.8 1798.3,1364.4 1800.1,1365.1 1801.8,1365.8 1803.6,1366.4 1805.2,1367 1806.8,1367.5 1808.3,1368 1810.4,1368.6 1812.4,1369.2 1814.3,1369.7 1816.2,1370.3 1818.1,1370.8 1820,1371.5 1821.9,1372.2 1823.9,1373 1825.8,1373.8 1827.7,1374.7 1829.7,1375.6 1831.5,1376.4 1833.4,1377.3 1835.3,1378.1 1837.1,1379 1838.8,1379.8 1840.6,1380.7 1842.5,1381.7 1844.4,1382.7 1846.3,1383.7 1848.2,1384.7 1850.2,1385.7 1851.5,1386.4 1852.9,1387.2 1854.3,1388 1855.7,1388.9 1857.2,1389.9 1858.7,1391 1860.3,1392.2 1861.9,1393.5 1863.6,1394.9 1865.4,1396.4 1867.1,1398 1868.9,1399.6 1870.7,1401.2 1872.5,1402.8 1874.3,1404.4 1876,1406 1877.7,1407.6 1879.5,1409.2 1881.3,1410.9 1883,1412.6 1884.8,1414.3 1886.6,1416 1888.3,1417.6 1890,1419.3 1891.6,1420.9 1893.2,1422.5 1894.7,1424 1896.2,1425.6 1897.7,1427.1 1899.1,1428.6 1900.5,1430 1901.8,1431.5 1903.2,1432.9 1904.5,1434.3 1905.8,1435.7 1907.1,1437 1908.4,1438.3 1909.7,1439.6 1910.9,1440.8 1912.2,1442 1913.4,1443.2 1914.6,1444.4 1915.8,1445.5 1916.9,1446.7 1918.1,1447.9 1919.2,1449.1 1920.3,1450.3 1921.4,1451.6 1922.5,1452.9 1923.6,1454.2 1924.7,1455.5 1925.7,1456.8 1926.7,1458 1927.7,1459.2 1929.1,1460.7 1930.3,1462.1 1931.5,1463.1 1932.8,1464.3 1934.1,1465.3 1935.2,1466.5 1936.3,1467.9 1937,1469.2 1937.7,1470.7 1938.4,1472.2 1938.9,1473.7 1939.6,1475.3 1939.9,1476.2" stroke="none" marker-start="url(#oc)" marker-mid="url(#oc)" marker-end="url(#oc)"/>
<polyline points="1939,1614.2 1939,1612.6 1939.1,1610.7 1939.2,1608.7 1939.4,1607 1939.8,1605.5 1941,1604.6 1942.6,1604.1 1944.1,1603.9 1945.8,1604 1947.4,1603.6 1948.9,1602.6 1950.3,1601.5 1951.8,1600.1 1952.9,1599.1 1954.1,1598 1955.2,1596.8 1956.3,1595.6 1957.4,1594.4 1958.4,1593.2 1959.4,1592 1960.3,1590.7 1961.2,1589.4 1962.1,1588 1963,1586.6 1963.9,1585.1 1964.8,1583.7 1965.6,1582.3 1966.4,1580.8 1967.2,1579.4 1968,1578 1968.7,1576.6 1969.5,1575.2 1970.2,1573.7 1970.9,1572.3 1971.6,1570.9 1972.3,1569.5 1972.9,1568.1 1973.9,1566.1 1974.8,1564.3 1975.7,1562.4 1976.7,1560.6 1977.5,1558.8 1978.3,1557.2 1979,1555.9 1979.7,1554.5" stroke="none" marker-start="url(#oc)" marker-mid="url(#oc)" marker-end="url(#oc)"/>
<polyline points="1993.5,1405.9 1994.5,1404.7 1995.5,1403.5 1996.7,1402.2 1998,1400.7 1999.3,1399.1 2000.6,1397.5 2001.8,1396 2003.1,1394.3 2004.5,1392.6 2005.8,1390.9 2006.8,1389.7 2007.7,1388.5 2008.6,1387.3 2009.5,1386.1 2010.5,1384.9 2011.5,1383.6 2012.5,1382.2 2013.6,1380.7 2014.7,1379.2 2015.8,1377.8 2016.8,1376.5 2017.7,1375.3 2018.8,1373.7 2019.4,1373" stroke="none" marker-start="url(#oc)" marker-mid="url(#oc)" marker-end="url(#oc)"/>
<polyline points="2036.7,1328.1 2038,1327.2 2039.4,1326.2 2040.7,1325.3 2042,1324.4 2043.2,1323.5 2044.8,1322.5 2046.4,1321.3 2048,1320.2 2049.6,1319.1 2051.2,1318 2052.8,1317 2054.4,1316 2056.1,1315.1 2057.5,1314.3 2058.9,1313.5 2059.1,1313.4" stroke="none" marker-start="url(#oc)" marker-mid="url(#oc)" marker-end="url(#oc)"/>
</g>
<line x1="1809.4" y1="1456.9" x2="1809.4" y2="1394" stroke="#000080" stroke-width="3" stroke-dasharray="7.5 3"/><path d="M1809.4 1385.2L1803.1 1397.7L1809.4 1394.2L1815.7 1397.7Z" fill="#000080"/>
<line x1="1848.7" y1="1567.5" x2="1848.7" y2="1517.5" stroke="#000080" stroke-width="3" stroke-dasharray="7.5 3"/><path d="M1848.7 1508.7L1842.4 1521.2L1848.7 1517.7L1855 1521.2Z" fill="#000080"/>
<line x1="1892.4" y1="1487.1" x2="1892.4" y2="1526" stroke="#000080" stroke-width="3" stroke-dasharray="7.5 3"/><path d="M1892.4 1534.7L1886.1 1522.2L1892.4 1525.7L1898.7 1522.2Z" fill="#000080"/>
<line x1="1984.5" y1="1532.1" x2="1984.5" y2="1427.7" stroke="#000080" stroke-width="3" stroke-dasharray="7.5 3"/><path d="M1984.5 1418.9L1978.2 1431.4L1984.5 1427.9L1990.8 1431.4Z" fill="#000080"/>
<line x1="2022.9" y1="1364.4" x2="2022.9" y2="1348" stroke="#000080" stroke-width="3" stroke-dasharray="7.5 3"/><path d="M2022.9 1339.3L2016.6 1351.8L2022.9 1348.3L2029.2 1351.8Z" fill="#000080"/>
<line x1="2065.7" y1="1305.6" x2="2065.7" y2="1303.2" stroke="#000080" stroke-width="3" stroke-dasharray="7.5 3"/><path d="M2065.7 1294.4L2059.4 1306.9L2065.7 1303.4L2072 1306.9Z" fill="#000080"/>
<line x1="1857.3" y1="1372.7" x2="1879.6" y2="1387.5" stroke="#000" stroke-width="2"/><path d="M1886.3 1392L1874 1389.8L1879.1 1387.2L1879.5 1381.5Z" fill="#000"/>
<line x1="1945.1" y1="1354.4" x2="1925.7" y2="1382.8" stroke="#000" stroke-width="2"/><path d="M1921.2 1389.5L1923.5 1377.2L1926.1 1382.4L1931.8 1382.8Z" fill="#000"/>
<line x1="1835.4" y1="1518.8" x2="1822.7" y2="1507.6" stroke="#000" stroke-width="2"/><path d="M1816.7 1502.3L1828.6 1506.2L1823.2 1508L1822 1513.7Z" fill="#000"/>
<line x1="1949.4" y1="1632.3" x2="1970.5" y2="1611.2" stroke="#000" stroke-width="2"/><path d="M1976.2 1605.5L1971.6 1617.2L1970.1 1611.6L1964.5 1610.1Z" fill="#000"/>
<rect x="1780.6" y="1156.2" width="319.2" height="495.5" fill="none" stroke="#333" stroke-width="1.4"/>
<path d="M1780.6 1650.8h-5M1780.6 1639.6h-5M1780.6 1630.9h-5M1780.6 1623.9h-5M1780.6 1617.9h-5M1780.6 1612.7h-5M1780.6 1608.1h-5M1780.6 1604h-10M1780.6 1577.1h-5M1780.6 1561.3h-5M1780.6 1550.1h-5M1780.6 1541.4h-5M1780.6 1534.4h-5M1780.6 1528.4h-5M1780.6 1523.2h-5M1780.6 1518.6h-5M1780.6 1514.5h-10M1780.6 1487.6h-5M1780.6 1471.8h-5M1780.6 1460.6h-5M1780.6 1451.9h-5M1780.6 1444.9h-5M1780.6 1438.9h-5M1780.6 1433.7h-5M1780.6 1429.1h-5M1780.6 1425h-10M1780.6 1398.1h-5M1780.6 1382.3h-5M1780.6 1371.1h-5M1780.6 1362.4h-5M1780.6 1355.4h-5M1780.6 1349.4h-5M1780.6 1344.2h-5M1780.6 1339.6h-5M1780.6 1335.5h-10M1780.6 1308.6h-5M1780.6 1292.8h-5M1780.6 1281.6h-5M1780.6 1272.9h-5M1780.6 1265.9h-5M1780.6 1259.9h-5M1780.6 1254.7h-5M1780.6 1250.1h-5M1780.6 1246h-10M1780.6 1219.1h-5M1780.6 1203.3h-5M1780.6 1192.1h-5M1780.6 1183.4h-5M1780.6 1176.4h-5M1780.6 1170.4h-5M1780.6 1165.2h-5M1780.6 1160.6h-5M1780.6 1156.5h-10M1780.6 1651.7v9.5M1860.4 1651.7v9.5M1940.2 1651.7v9.5M2020 1651.7v9.5M2099.8 1651.7v9.5" stroke="#333" stroke-width="1.4" fill="none"/>
<text x="1727.5" y="1165.3" font-size="26.7" text-anchor="middle">10<tspan font-size="18.7" dy="-13.3">–6</tspan></text>
<text x="1727.5" y="1254.8" font-size="26.7" text-anchor="middle">10<tspan font-size="18.7" dy="-13.3">–7</tspan></text>
<text x="1727.5" y="1344.3" font-size="26.7" text-anchor="middle">10<tspan font-size="18.7" dy="-13.3">–8</tspan></text>
<text x="1727.5" y="1433.8" font-size="26.7" text-anchor="middle">10<tspan font-size="18.7" dy="-13.3">–9</tspan></text>
<text x="1727.5" y="1523.3" font-size="26.7" text-anchor="middle">10<tspan font-size="18.7" dy="-13.3">–10</tspan></text>
<text x="1727.5" y="1612.8" font-size="26.7" text-anchor="middle">10<tspan font-size="18.7" dy="-13.3">–11</tspan></text>
<text x="1780.6" y="1693.2" font-size="26.5" text-anchor="middle" fill="#000" >–20</text>
<text x="1860.4" y="1693.2" font-size="26.5" text-anchor="middle" fill="#000" >–10</text>
<text x="1940.2" y="1693.2" font-size="26.5" text-anchor="middle" fill="#000" >0</text>
<text x="2020" y="1693.2" font-size="26.5" text-anchor="middle" fill="#000" >10</text>
<text x="2099.8" y="1693.2" font-size="26.5" text-anchor="middle" fill="#000" >20</text>
<text x="1941.2" y="1733.7" font-size="26.7" text-anchor="middle"><tspan font-style="italic">V</tspan><tspan font-size="18.5" dy="7">g</tspan><tspan dy="-7"> (V)</tspan></text>
<text transform="translate(1688 1405) rotate(-90)" font-size="26.7" text-anchor="middle"><tspan font-style="italic">I</tspan> (A)</text>
<line x1="1790.9" y1="1176.6" x2="1816.9" y2="1176.6" stroke="#66ffff" stroke-width="1.5"/>
<line x1="1790.9" y1="1180.4" x2="1816.9" y2="1180.4" stroke="#ff8000" stroke-width="1.5"/>
<line x1="1790.9" y1="1184.2" x2="1816.9" y2="1184.2" stroke="#ff00ff" stroke-width="1.5"/>
<line x1="1790.9" y1="1187.8" x2="1816.9" y2="1187.8" stroke="#ff3030" stroke-width="1.5"/>
<line x1="1790.9" y1="1191.6" x2="1816.9" y2="1191.6" stroke="#0000ff" stroke-width="1.5"/>
<text x="1831" y="1193.3" font-size="22.7" text-anchor="start" fill="#000" >Static doping</text>
<circle cx="1804.3" cy="1218.4" r="8.4" fill="#fff" stroke="#000" stroke-width="0.9"/>
<text x="1831" y="1225.3" font-size="22.7" text-anchor="start" fill="#000" >Reconfigurable doping</text>
<text x="1781.8" y="1136.6" font-size="26.7" text-anchor="start" fill="#000" >10 s (Visible)</text>
<text x="1971" y="1136.6" font-size="26.7" text-anchor="start" fill="#000" >10 s (UV)</text>
</g>
<text x="0" y="23" font-size="30" text-anchor="start" fill="#000" font-weight="bold">a</text>
<text x="537.5" y="24" font-size="30" text-anchor="start" fill="#000" font-weight="bold">b</text>
<text x="1140.5" y="22" font-size="30" text-anchor="start" fill="#000" font-weight="bold">c</text>
<text x="1640.5" y="24" font-size="30" text-anchor="start" fill="#000" font-weight="bold">d</text>
<text x="0" y="1168" font-size="30" text-anchor="start" fill="#000" font-weight="bold">e</text>
<text x="540.5" y="1168" font-size="30" text-anchor="start" fill="#000" font-weight="bold">f</text>
<text x="1642.5" y="1098" font-size="30" text-anchor="start" fill="#000" font-weight="bold">h</text>
<text x="1055.5" y="1096" font-size="33" font-weight="bold" font-family="Liberation Serif, serif">g</text>
</svg>
</body></html>
